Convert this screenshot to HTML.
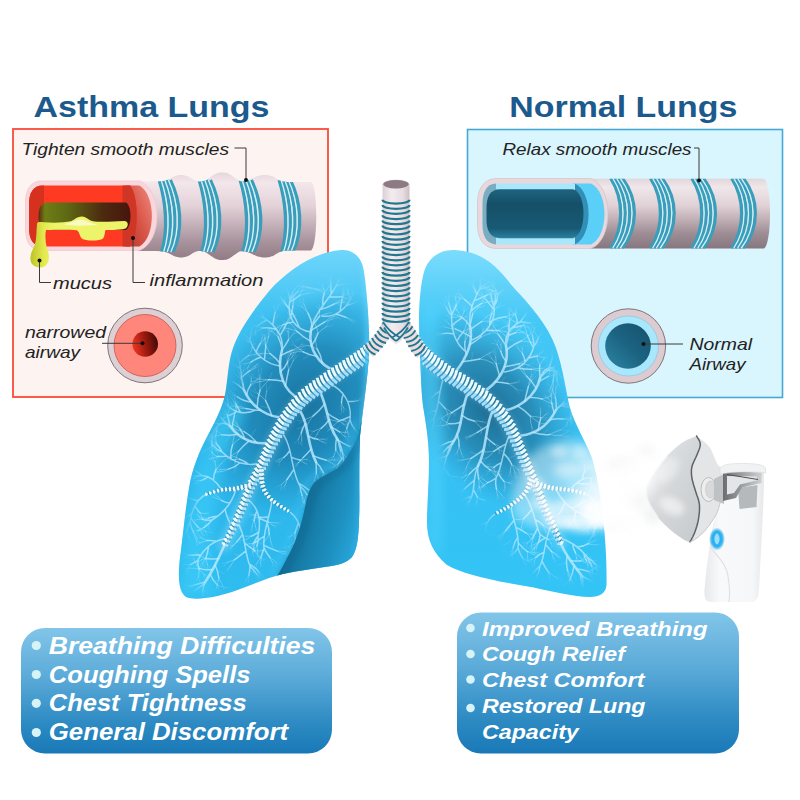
<!DOCTYPE html>
<html lang="en"><head><meta charset="utf-8"><title>Asthma Lungs vs Normal Lungs</title><style>html,body{margin:0;padding:0;background:#fff}svg{display:block}</style></head><body><svg width="800" height="800" viewBox="0 0 800 800" role="img" aria-label="Asthma lungs compared with normal lungs"><defs><linearGradient id="tubeA" x1="0" y1="0" x2="0" y2="1"><stop offset="0" stop-color="#e6d6db"/><stop offset=".12" stop-color="#f3e7eb"/><stop offset=".38" stop-color="#e3d2d8"/><stop offset=".56" stop-color="#c9b6be"/><stop offset=".8" stop-color="#a7929b"/><stop offset="1" stop-color="#917b85"/></linearGradient><linearGradient id="lumA" x1="0" y1="0" x2="1" y2="0"><stop offset="0" stop-color="#5a2a0e"/><stop offset=".07" stop-color="#6f7d15"/><stop offset=".3" stop-color="#5f6a14"/><stop offset=".7" stop-color="#4c2a10"/><stop offset="1" stop-color="#47160d"/></linearGradient><linearGradient id="cutA" x1="0" y1="1" x2="1" y2="0"><stop offset="0" stop-color="#b9352a"/><stop offset=".5" stop-color="#d9574a"/><stop offset="1" stop-color="#f08a7e"/></linearGradient><linearGradient id="dropA" x1="30" y1="0" x2="54" y2="0" gradientUnits="userSpaceOnUse"><stop offset="0" stop-color="#bcc024"/><stop offset=".55" stop-color="#e2e84c"/><stop offset="1" stop-color="#eef46a"/></linearGradient><clipPath id="clipTA"><path d="M138,181.5 L140.6,181.5 L144.2,181.5 L148.5,181.5 L152.9,181.5 L156.9,181.4 L160,181.3 L162.2,181.1 L163.8,180.9 L165,180.6 L166,180.2 L166.9,179.9 L168,179.5 L169.1,179.1 L170.1,178.5 L171.1,178 L172,177.4 L173,176.9 L174,176.5 L175.1,176.1 L176.3,175.8 L177.4,175.5 L178.6,175.2 L179.8,175.1 L181,175 L182.2,175.1 L183.4,175.2 L184.6,175.4 L185.7,175.7 L186.9,176.1 L188,176.5 L189.1,177 L190.1,177.6 L191.1,178.2 L192.1,178.9 L193.1,179.5 L194,180 L194.9,180.4 L195.7,180.7 L196.5,181 L197.3,181.3 L198.1,181.4 L199,181.5 L199.9,181.5 L200.9,181.5 L201.9,181.3 L203,181.1 L204,180.9 L205,180.5 L206,180 L207,179.4 L208,178.6 L209,177.9 L210,177.2 L211,176.5 L212,175.9 L213,175.3 L214.1,174.6 L215.1,174.1 L216.1,173.6 L217,173.2 L217.9,172.9 L218.7,172.7 L219.5,172.6 L220.3,172.5 L221.1,172.5 L222,172.5 L222.9,172.5 L223.9,172.6 L224.9,172.7 L225.9,172.8 L226.9,173.1 L228,173.5 L229.1,174.1 L230.3,174.8 L231.6,175.6 L232.8,176.5 L233.9,177.3 L235,178 L235.9,178.6 L236.8,179.2 L237.6,179.8 L238.3,180.3 L239.1,180.7 L240,181 L240.9,181.2 L241.9,181.2 L242.9,181.2 L244,181.1 L245,181 L246,180.8 L247,180.5 L248,180.2 L249,179.8 L250,179.4 L251,178.9 L252,178.5 L253,178.1 L254,177.6 L254.9,177.2 L255.9,176.7 L256.9,176.3 L258,176 L259.1,175.7 L260.3,175.5 L261.4,175.3 L262.6,175.1 L263.8,175 L265,175 L266.2,175 L267.4,175.2 L268.6,175.3 L269.7,175.6 L270.9,175.9 L272,176.2 L273.1,176.6 L274.1,177.2 L275.1,177.8 L276,178.4 L277,179 L278,179.5 L278.9,179.9 L279.8,180.4 L280.6,180.7 L281.6,181.1 L282.7,181.4 L284,181.6 L285.6,181.8 L287.4,181.9 L289.4,181.9 L291.6,182 L293.8,182 L296,182 L298.5,182 L301.3,182 L304.2,182 L307,182 L309.3,182 L311,182 C318,185 318,247 311,250.500 L311,250.5 L309.3,250.5 L307,250.5 L304.2,250.5 L301.3,250.5 L298.5,250.5 L296,250.5 L293.8,250.5 L291.6,250.5 L289.4,250.6 L287.4,250.6 L285.6,250.7 L284,250.9 L282.7,251.1 L281.6,251.4 L280.6,251.8 L279.8,252.1 L278.9,252.6 L278,253 L277,253.5 L276,254.1 L275.1,254.7 L274.1,255.3 L273.1,255.9 L272,256.3 L270.9,256.6 L269.7,256.9 L268.6,257.2 L267.4,257.3 L266.2,257.5 L265,257.5 L263.8,257.5 L262.6,257.4 L261.4,257.2 L260.3,257 L259.1,256.8 L258,256.5 L256.9,256.2 L255.9,255.8 L254.9,255.3 L254,254.9 L253,254.4 L252,254 L251,253.6 L250,253.1 L249,252.7 L248,252.3 L247,252 L246,251.7 L245,251.5 L244,251.4 L242.9,251.3 L241.9,251.3 L240.9,251.3 L240,251.5 L239.1,251.8 L238.3,252.2 L237.6,252.7 L236.8,253.3 L235.9,253.9 L235,254.5 L233.9,255.2 L232.8,256 L231.6,256.9 L230.3,257.7 L229.1,258.4 L228,259 L226.9,259.4 L225.9,259.7 L224.9,259.8 L223.9,259.9 L222.9,260 L222,260 L221.1,260 L220.3,260 L219.5,259.9 L218.7,259.8 L217.9,259.6 L217,259.3 L216.1,258.9 L215.1,258.4 L214.1,257.9 L213,257.2 L212,256.6 L211,256 L210,255.3 L209,254.6 L208,253.9 L207,253.1 L206,252.5 L205,252 L204,251.6 L203,251.4 L201.9,251.2 L200.9,251 L199.9,251 L199,251 L198.1,251.1 L197.3,251.2 L196.5,251.5 L195.7,251.8 L194.9,252.1 L194,252.5 L193.1,253 L192.1,253.6 L191.1,254.2 L190.1,254.9 L189.1,255.5 L188,256 L186.9,256.4 L185.7,256.8 L184.6,257.1 L183.4,257.3 L182.2,257.4 L181,257.5 L179.8,257.4 L178.6,257.3 L177.4,257 L176.3,256.7 L175.1,256.4 L174,256 L173,255.6 L172,255.1 L171.1,254.5 L170.1,254 L169.1,253.4 L168,253 L166.9,252.6 L166,252.3 L165,251.9 L163.8,251.6 L162.2,251.4 L160,251.2 L156.9,251.1 L152.9,251 L148.5,251 L144.2,251 L140.6,251 L138,251Z"/></clipPath><linearGradient id="tubeN" x1="0" y1="0" x2="0" y2="1"><stop offset="0" stop-color="#e2d6da"/><stop offset=".12" stop-color="#f0e7ea"/><stop offset=".38" stop-color="#e0d2d7"/><stop offset=".56" stop-color="#c4b3b9"/><stop offset=".78" stop-color="#9e8d94"/><stop offset="1" stop-color="#86767d"/></linearGradient><linearGradient id="lumN" x1="0" y1="0" x2="0" y2="1"><stop offset="0" stop-color="#1d6480"/><stop offset=".3" stop-color="#164f67"/><stop offset=".8" stop-color="#185a75"/><stop offset="1" stop-color="#2b7f9f"/></linearGradient><clipPath id="clipTN"><path d="M590,178.800 H764 C772,184 772,243 764,248.600 H590Z"/></clipPath><linearGradient id="narrow" x1="0" y1=".6" x2="1" y2=".4"><stop offset="0" stop-color="#ec3822"/><stop offset=".45" stop-color="#a81c11"/><stop offset="1" stop-color="#3f0a06"/></linearGradient><linearGradient id="normalc" x1="0" y1="1" x2="1" y2="0"><stop offset="0" stop-color="#2e86a5"/><stop offset=".5" stop-color="#1c6382"/><stop offset="1" stop-color="#15516b"/></linearGradient><linearGradient id="lgL" x1="0" y1="0" x2="0" y2="1"><stop offset="0" stop-color="#6fd6fb"/><stop offset=".18" stop-color="#3fc2f2"/><stop offset=".6" stop-color="#2db4ea"/><stop offset="1" stop-color="#2fbdf0"/></linearGradient><linearGradient id="lgR" x1="0" y1="0" x2="0" y2="1"><stop offset="0" stop-color="#7bdcfd"/><stop offset=".2" stop-color="#45c8f6"/><stop offset=".6" stop-color="#36c0f3"/><stop offset="1" stop-color="#33c4f6"/></linearGradient><clipPath id="clipL"><path d="M341,250 C352,249 362,256 364,272 C367,292 370,330 369,352 C368,378 363,408 360,436 C358.500,466 360,500 359,520 C358.500,538 357,550 352,557 C347,563 338,565 328,566.500 C312,569 298,570.500 283,574 C266,578 250,586 232,592 C216,597 196,601 186,597 C177,591 178,570 181,550 C184,525 186,505 189,488 C192,468 200,450 208,435 C216,420 222,408 225,395 C228,378 228,362 233,348 C240,328 255,308 270,290 C288,270 315,252 341,250 Z"/></clipPath><clipPath id="clipR"><path d="M455,250 C440,249 428,258 424,272 C419,290 418,320 420,350 C421,375 421,395 424,412 C427,430 429,445 429,462 C429,485 427,505 427,522 C427,540 433,553 447,565 C462,574 490,580 525,586 C548,590 572,597 590,597 C600,597 606,593 606.500,585 C607,560 605,535 603,518 C601,500 598,478 592,458 C587,444 575,425 570,408 C566,392 563,368 556,348 C548,325 530,305 514,288 C500,271 487,252 455,250 Z"/></clipPath><radialGradient id="dkL" cx="304" cy="404" r="125" gradientUnits="userSpaceOnUse" gradientTransform="translate(304 404) rotate(-52) scale(1 .74) translate(-304 -404)"><stop offset="0" stop-color="#146690" stop-opacity=".85"/><stop offset=".5" stop-color="#1775a3" stop-opacity=".66"/><stop offset=".8" stop-color="#1b84b4" stop-opacity=".3"/><stop offset="1" stop-color="#1f8dbd" stop-opacity="0"/></radialGradient><radialGradient id="dkR" cx="490" cy="410" r="112" gradientUnits="userSpaceOnUse" gradientTransform="translate(490 410) rotate(52) scale(1 .68) translate(-490 -410)"><stop offset="0" stop-color="#1b658a" stop-opacity=".92"/><stop offset=".5" stop-color="#1f759e" stop-opacity=".68"/><stop offset=".8" stop-color="#2588b5" stop-opacity=".3"/><stop offset="1" stop-color="#2a93c0" stop-opacity="0"/></radialGradient><linearGradient id="lobe" x1="296" y1="500" x2="362" y2="520" gradientUnits="userSpaceOnUse"><stop offset="0" stop-color="#126c95"/><stop offset=".3" stop-color="#177ba6"/><stop offset=".7" stop-color="#1d90c0"/><stop offset="1" stop-color="#27a4d7"/></linearGradient><filter id="b3" x="-20%" y="-20%" width="140%" height="140%"><feGaussianBlur stdDeviation="3"/></filter><filter id="b6" x="-30%" y="-30%" width="160%" height="160%"><feGaussianBlur stdDeviation="6"/></filter><filter id="b10" x="-40%" y="-40%" width="180%" height="180%"><feGaussianBlur stdDeviation="10"/></filter><mask id="mkL" maskUnits="userSpaceOnUse" x="170" y="240" width="210" height="370"><path d="M345,290 C330,278 305,285 285,300 C262,318 246,345 240,375 C236,400 220,425 208,450 C196,478 190,520 188,585 L212,590 C235,585 262,572 286,566 C300,548 314,520 330,500 C348,480 356,440 358,400 C360,360 358,320 345,290Z" fill="#fff" filter="url(#b6)"/></mask><mask id="mkR" maskUnits="userSpaceOnUse" x="410" y="240" width="210" height="370"><path d="M446,300 C456,282 486,280 506,298 C528,318 548,345 556,380 C562,405 572,425 584,450 C594,475 600,520 600,560 C596,578 580,584 560,580 C530,572 505,545 488,520 C470,496 446,470 440,440 C436,400 436,340 446,300Z" fill="#fff" filter="url(#b6)"/></mask><linearGradient id="trg" x1="0" y1="0" x2="1" y2="0"><stop offset="0" stop-color="#dccfd3"/><stop offset=".35" stop-color="#f3ecee"/><stop offset=".75" stop-color="#e8dde0"/><stop offset="1" stop-color="#cdbfc4"/></linearGradient><linearGradient id="bodyG" x1="0" y1="0" x2="1" y2="0"><stop offset="0" stop-color="#e6e8ea"/><stop offset=".25" stop-color="#f8f9fa"/><stop offset=".8" stop-color="#f6f7f8"/><stop offset="1" stop-color="#e6e8ea"/></linearGradient><linearGradient id="maskG" x1="0" y1="0" x2="1" y2="1"><stop offset="0" stop-color="#e6e8ea"/><stop offset=".5" stop-color="#d4d7d9"/><stop offset="1" stop-color="#c7cacd"/></linearGradient><radialGradient id="btnG" cx=".5" cy=".5" r=".5"><stop offset="0" stop-color="#e8f8ff"/><stop offset=".35" stop-color="#4cc2f3"/><stop offset=".75" stop-color="#2fb0ee" stop-opacity=".8"/><stop offset="1" stop-color="#2fb0ee" stop-opacity="0"/></radialGradient><linearGradient id="lidG" x1="0" y1="0" x2="1" y2="0"><stop offset="0" stop-color="#6b6e71"/><stop offset=".5" stop-color="#9da0a3"/><stop offset="1" stop-color="#cfd1d3"/></linearGradient><filter id="b5" x="-40%" y="-40%" width="180%" height="180%"><feGaussianBlur stdDeviation="5"/></filter><filter id="b8" x="-50%" y="-50%" width="200%" height="200%"><feGaussianBlur stdDeviation="8"/></filter><linearGradient id="pg" x1="0" y1="0" x2="0" y2="1"><stop offset="0" stop-color="#82c5e9"/><stop offset=".4" stop-color="#5aaad8"/><stop offset=".75" stop-color="#2e8bc3"/><stop offset="1" stop-color="#1979b7"/></linearGradient></defs><rect x="13" y="129" width="315" height="268" fill="#fdf3f1" stroke="#fa4b38" stroke-width="1.800"/>
<rect x="467.5" y="129.5" width="315" height="268" fill="#d9f5fd" stroke="#45a9d3" stroke-width="1.6"/>
<g font-family="'Liberation Sans', Arial, sans-serif" font-weight="bold" font-size="30.200" fill="#1c5a8d"><text x="33.500" y="117.300" textLength="236" lengthAdjust="spacingAndGlyphs">Asthma Lungs</text><text x="509.300" y="117.300" textLength="228" lengthAdjust="spacingAndGlyphs">Normal Lungs</text></g>
<path d="M138,181.5 L140.6,181.5 L144.2,181.5 L148.5,181.5 L152.9,181.5 L156.9,181.4 L160,181.3 L162.2,181.1 L163.8,180.9 L165,180.6 L166,180.2 L166.9,179.9 L168,179.5 L169.1,179.1 L170.1,178.5 L171.1,178 L172,177.4 L173,176.9 L174,176.5 L175.1,176.1 L176.3,175.8 L177.4,175.5 L178.6,175.2 L179.8,175.1 L181,175 L182.2,175.1 L183.4,175.2 L184.6,175.4 L185.7,175.7 L186.9,176.1 L188,176.5 L189.1,177 L190.1,177.6 L191.1,178.2 L192.1,178.9 L193.1,179.5 L194,180 L194.9,180.4 L195.7,180.7 L196.5,181 L197.3,181.3 L198.1,181.4 L199,181.5 L199.9,181.5 L200.9,181.5 L201.9,181.3 L203,181.1 L204,180.9 L205,180.5 L206,180 L207,179.4 L208,178.6 L209,177.9 L210,177.2 L211,176.5 L212,175.9 L213,175.3 L214.1,174.6 L215.1,174.1 L216.1,173.6 L217,173.2 L217.9,172.9 L218.7,172.7 L219.5,172.6 L220.3,172.5 L221.1,172.5 L222,172.5 L222.9,172.5 L223.9,172.6 L224.9,172.7 L225.9,172.8 L226.9,173.1 L228,173.5 L229.1,174.1 L230.3,174.8 L231.6,175.6 L232.8,176.5 L233.9,177.3 L235,178 L235.9,178.6 L236.8,179.2 L237.6,179.8 L238.3,180.3 L239.1,180.7 L240,181 L240.9,181.2 L241.9,181.2 L242.9,181.2 L244,181.1 L245,181 L246,180.8 L247,180.5 L248,180.2 L249,179.8 L250,179.4 L251,178.9 L252,178.5 L253,178.1 L254,177.6 L254.9,177.2 L255.9,176.7 L256.9,176.3 L258,176 L259.1,175.7 L260.3,175.5 L261.4,175.3 L262.6,175.1 L263.8,175 L265,175 L266.2,175 L267.4,175.2 L268.6,175.3 L269.7,175.6 L270.9,175.9 L272,176.2 L273.1,176.6 L274.1,177.2 L275.1,177.8 L276,178.4 L277,179 L278,179.5 L278.9,179.9 L279.8,180.4 L280.6,180.7 L281.6,181.1 L282.7,181.4 L284,181.6 L285.6,181.8 L287.4,181.9 L289.4,181.9 L291.6,182 L293.8,182 L296,182 L298.5,182 L301.3,182 L304.2,182 L307,182 L309.3,182 L311,182 C318,185 318,247 311,250.500 L311,250.5 L309.3,250.5 L307,250.5 L304.2,250.5 L301.3,250.5 L298.5,250.5 L296,250.5 L293.8,250.5 L291.6,250.5 L289.4,250.6 L287.4,250.6 L285.6,250.7 L284,250.9 L282.7,251.1 L281.6,251.4 L280.6,251.8 L279.8,252.1 L278.9,252.6 L278,253 L277,253.5 L276,254.1 L275.1,254.7 L274.1,255.3 L273.1,255.9 L272,256.3 L270.9,256.6 L269.7,256.9 L268.6,257.2 L267.4,257.3 L266.2,257.5 L265,257.5 L263.8,257.5 L262.6,257.4 L261.4,257.2 L260.3,257 L259.1,256.8 L258,256.5 L256.9,256.2 L255.9,255.8 L254.9,255.3 L254,254.9 L253,254.4 L252,254 L251,253.6 L250,253.1 L249,252.7 L248,252.3 L247,252 L246,251.7 L245,251.5 L244,251.4 L242.9,251.3 L241.9,251.3 L240.9,251.3 L240,251.5 L239.1,251.8 L238.3,252.2 L237.6,252.7 L236.8,253.3 L235.9,253.9 L235,254.5 L233.9,255.2 L232.8,256 L231.6,256.9 L230.3,257.7 L229.1,258.4 L228,259 L226.9,259.4 L225.9,259.7 L224.9,259.8 L223.9,259.9 L222.9,260 L222,260 L221.1,260 L220.3,260 L219.5,259.9 L218.7,259.8 L217.9,259.6 L217,259.3 L216.1,258.9 L215.1,258.4 L214.1,257.9 L213,257.2 L212,256.6 L211,256 L210,255.3 L209,254.6 L208,253.9 L207,253.1 L206,252.5 L205,252 L204,251.6 L203,251.4 L201.9,251.2 L200.9,251 L199.9,251 L199,251 L198.1,251.1 L197.3,251.2 L196.5,251.5 L195.7,251.8 L194.9,252.1 L194,252.5 L193.1,253 L192.1,253.6 L191.1,254.2 L190.1,254.9 L189.1,255.5 L188,256 L186.9,256.4 L185.7,256.8 L184.6,257.1 L183.4,257.3 L182.2,257.4 L181,257.5 L179.8,257.4 L178.6,257.3 L177.4,257 L176.3,256.7 L175.1,256.4 L174,256 L173,255.6 L172,255.1 L171.1,254.5 L170.1,254 L169.1,253.4 L168,253 L166.9,252.6 L166,252.3 L165,251.9 L163.8,251.6 L162.2,251.4 L160,251.2 L156.9,251.1 L152.9,251 L148.5,251 L144.2,251 L140.6,251 L138,251Z" fill="url(#tubeA)"/>
<g clip-path="url(#clipTA)"><path d="M159.3,180C166,201.6 168.5,230.4 161.8,252M162.9,180C171,201.6 173.5,230.4 165.4,252M166.6,180C176,201.6 178.5,230.4 169.1,252M170.2,180C180.9,201.6 183.4,230.4 172.7,252" fill="none" stroke="#3a9dbb" stroke-width="3.6"/><path d="M161.1,180C168.5,201.6 171,230.4 163.6,252M164.8,180C173.5,201.6 176,230.4 167.2,252M168.4,180C178.4,201.6 180.9,230.4 170.9,252" fill="none" stroke="#d2f0f5" stroke-width="1.4"/><path d="M199.3,180C206,201.6 208.5,230.4 201.8,252M202.9,180C211,201.6 213.5,230.4 205.4,252M206.6,180C216,201.6 218.5,230.4 209.1,252M210.2,180C220.9,201.6 223.4,230.4 212.7,252" fill="none" stroke="#3a9dbb" stroke-width="3.6"/><path d="M201.1,180C208.5,201.6 211,230.4 203.6,252M204.8,180C213.5,201.6 216,230.4 207.2,252M208.4,180C218.4,201.6 220.9,230.4 210.9,252" fill="none" stroke="#d2f0f5" stroke-width="1.4"/><path d="M240.3,180C247,201.6 249.5,230.4 242.8,252M243.9,180C252,201.6 254.5,230.4 246.4,252M247.6,180C257,201.6 259.5,230.4 250.1,252M251.2,180C261.9,201.6 264.4,230.4 253.7,252" fill="none" stroke="#3a9dbb" stroke-width="3.6"/><path d="M242.1,180C249.5,201.6 252,230.4 244.6,252M245.8,180C254.5,201.6 257,230.4 248.2,252M249.4,180C259.4,201.6 261.9,230.4 251.9,252" fill="none" stroke="#d2f0f5" stroke-width="1.4"/><path d="M279.3,180C286,201.6 288.5,230.4 281.8,252M282.9,180C291,201.6 293.5,230.4 285.4,252M286.6,180C296,201.6 298.5,230.4 289.1,252M290.2,180C300.9,201.6 303.4,230.4 292.7,252" fill="none" stroke="#3a9dbb" stroke-width="3.6"/><path d="M281.1,180C288.5,201.6 291,230.4 283.6,252M284.8,180C293.5,201.6 296,230.4 287.2,252M288.4,180C298.4,201.6 300.9,230.4 290.9,252" fill="none" stroke="#d2f0f5" stroke-width="1.4"/></g>
<path d="M139.500,181 H42 C30,181 25.500,190 25.500,203 V228 C25.500,242 30,250.500 42,250.500 H139.500 C163,241 163,190 139.500,181Z" fill="#f9d6dc" stroke="#f0c4cc" stroke-width=".7"/>
<path d="M139.500,185.500 C156,195 156,237 139.500,246.500 L126,246.500 L126,185.500Z" fill="url(#cutA)"/>
<path d="M130,185.500 H43 C33,185.500 29,193 29,204 V228 C29,239 33,246.500 43,246.500 H130 C139,237 139,195 130,185.500Z" fill="#ff3a22"/>
<path d="M44,185.500 H43 C33,185.500 29,193 29,204 V228 C29,239 33,246.500 43,246.500 H44Z" fill="#d6301f"/>
<path d="M122.500,185.500 H130 C139,195 139,237 130,246.500 H122.500Z" fill="#cf3626"/>
<path d="M48,202.500 H126 C132,206 132,226 126,230 H48 C41,230 38.500,224 38.500,216 C38.500,208 41,202.500 48,202.500Z" fill="url(#lumA)"/>
<path d="M37,224 C37,221.500 40,221.800 44,222.300 C55,223 64,222.600 71,221.300 C75,219 78,216.200 82,216.400 C86,216.600 88,219.500 92,221 C100,222.500 112,221.600 124,221 C129,221 128.500,226 125.500,228.600 C120,230.500 112,229.600 105.500,230 C104.500,233 105,237.500 102,239.300 C97,241 88,241 83,239.300 C79.500,237.500 80,232.500 77,230.300 C68,229.300 55,229.800 46,230 C44.800,236 45.500,242 46.800,248 C49.800,254 50,262 45.500,265.800 C41.500,268.500 35,268 32,264 C28.800,259 31,252 34.200,246.500 C36.800,240 36.200,232 37,224Z" fill="url(#dropA)"/>
<path d="M63,224.200 C70,223.600 74,220.500 79,219.600 C86,219.600 90,223.800 98,224.600 C88,226.200 74,226 63,224.200Z" fill="#f9fbd0" opacity=".85"/>
<g fill="none" stroke="#3a3a3a" stroke-width="1"><path d="M39.500,260.500 V282.500 H51"/><path d="M133,238 V282.500 H145"/><path d="M234.500,148 H246 V180"/></g>
<g fill="#111"><circle cx="39.500" cy="260.500" r="2"/><circle cx="133" cy="238" r="2"/><circle cx="246" cy="180" r="2"/></g>
<path d="M590,178.800 H764 C772,184 772,243 764,248.600 H590Z" fill="url(#tubeN)"/>
<g clip-path="url(#clipTN)"><path d="M610.8,178C624.1,199.2 624.1,227.3 610.8,248.5M614.5,178C628.8,199.2 628.8,227.3 614.5,248.5M618.3,178C633.6,199.2 633.6,227.3 618.3,248.5M622,178C638.3,199.2 638.3,227.3 622,248.5" fill="none" stroke="#3a9dbb" stroke-width="3.5"/><path d="M612.6,178C626.5,199.2 626.5,227.3 612.6,248.5M616.4,178C631.2,199.2 631.2,227.3 616.4,248.5M620.1,178C636,199.2 636,227.3 620.1,248.5" fill="none" stroke="#d2f0f5" stroke-width="1.3"/><path d="M650.6,178C663.9,199.2 663.9,227.3 650.6,248.5M654.3,178C668.6,199.2 668.6,227.3 654.3,248.5M658.1,178C673.4,199.2 673.4,227.3 658.1,248.5M661.8,178C678.1,199.2 678.1,227.3 661.8,248.5" fill="none" stroke="#3a9dbb" stroke-width="3.5"/><path d="M652.5,178C666.3,199.2 666.3,227.3 652.5,248.5M656.2,178C671,199.2 671,227.3 656.2,248.5M660,178C675.8,199.2 675.8,227.3 660,248.5" fill="none" stroke="#d2f0f5" stroke-width="1.3"/><path d="M691.9,178C705.2,199.2 705.2,227.3 691.9,248.5M695.6,178C709.9,199.2 709.9,227.3 695.6,248.5M699.4,178C714.7,199.2 714.7,227.3 699.4,248.5M703.1,178C719.4,199.2 719.4,227.3 703.1,248.5" fill="none" stroke="#3a9dbb" stroke-width="3.5"/><path d="M693.8,178C707.6,199.2 707.6,227.3 693.8,248.5M697.5,178C712.3,199.2 712.3,227.3 697.5,248.5M701.2,178C717.1,199.2 717.1,227.3 701.2,248.5" fill="none" stroke="#d2f0f5" stroke-width="1.3"/><path d="M731.8,178C745.1,199.2 745.1,227.3 731.8,248.5M735.5,178C749.8,199.2 749.8,227.3 735.5,248.5M739.3,178C754.6,199.2 754.6,227.3 739.3,248.5M743,178C759.3,199.2 759.3,227.3 743,248.5" fill="none" stroke="#3a9dbb" stroke-width="3.5"/><path d="M733.6,178C747.5,199.2 747.5,227.3 733.6,248.5M737.4,178C752.2,199.2 752.2,227.3 737.4,248.5M741.1,178C757,199.2 757,227.3 741.1,248.5" fill="none" stroke="#d2f0f5" stroke-width="1.3"/></g>
<path d="M591,178.500 H497 C483,178.500 477.500,190 477.500,203 V224 C477.500,238 483,248.500 497,248.500 H591 C613.700,240 613.700,187 591,178.500Z" fill="#e8d8dc" stroke="#d3c1c7" stroke-width=".7"/>
<path d="M591,183.500 C609,192 609,236 591,244.500 L572,244.500 L572,183.500Z" fill="#5acff7"/>
<path d="M575,183.500 H498 C487,183.500 482.500,192 482.500,204 V224 C482.500,236 487,244.500 498,244.500 H575 C593.300,236 593.300,192 575,183.500Z" fill="#a9e7fc"/>
<path d="M496,183.500 C486,184 482.500,193 482.500,204 V224 C482.500,236 486,243.500 496,244.500Z" fill="#7badc2"/>
<path d="M575,183.500 C593.300,192 593.300,236 575,244.500Z" fill="#3190b8"/>
<path d="M500,189.300 H573 C587,193 587,234 573,238.200 H500 C490,238.200 486.500,230 486.500,220 V208 C486.500,197 490,189.300 500,189.300Z" fill="url(#lumN)"/>
<g fill="none" stroke="#3a3a3a" stroke-width="1"><path d="M694,148 H699 V180"/></g>
<g fill="#111"><circle cx="699" cy="180.500" r="2"/></g>
<circle cx="145" cy="345.500" r="37.300" fill="#ddd0d5" stroke="#7f7479" stroke-width="1"/><circle cx="145" cy="345.500" r="31" fill="#ff867a" stroke="#c9564c" stroke-width=".8"/><circle cx="145.200" cy="344" r="12.800" fill="url(#narrow)"/><path d="M102,343.300 H142.500" fill="none" stroke="#3a3a3a" stroke-width="1"/><circle cx="142.500" cy="343.300" r="2" fill="#111"/>
<circle cx="628.400" cy="346" r="37.200" fill="#dccbd0" stroke="#7f7479" stroke-width="1"/><circle cx="628.400" cy="346" r="30" fill="#a9e7fc" stroke="#7fc2dc" stroke-width=".6"/><circle cx="628" cy="346" r="22.800" fill="url(#normalc)"/><path d="M643.500,344 H683" fill="none" stroke="#3a3a3a" stroke-width="1"/><circle cx="643.500" cy="344" r="2" fill="#111"/>
<g font-family="'Liberation Sans', Arial, sans-serif" font-style="italic" font-size="16.200" fill="#222"><text x="21.500" y="154.500" textLength="207.500" lengthAdjust="spacingAndGlyphs">Tighten smooth muscles</text><text x="53" y="289.400" textLength="59" lengthAdjust="spacingAndGlyphs">mucus</text><text x="149.500" y="286.400" textLength="114" lengthAdjust="spacingAndGlyphs">inflammation</text><text x="25" y="337.800" textLength="81" lengthAdjust="spacingAndGlyphs">narrowed</text><text x="25" y="357.600" textLength="55" lengthAdjust="spacingAndGlyphs">airway</text><text x="502.500" y="154.500" textLength="189" lengthAdjust="spacingAndGlyphs">Relax smooth muscles</text><text x="689.500" y="350" textLength="62.500" lengthAdjust="spacingAndGlyphs">Normal</text><text x="689.500" y="369.600" textLength="56" lengthAdjust="spacingAndGlyphs">Airway</text></g>
<path d="M341,250 C352,249 362,256 364,272 C367,292 370,330 369,352 C368,378 363,408 360,436 C358.500,466 360,500 359,520 C358.500,538 357,550 352,557 C347,563 338,565 328,566.500 C312,569 298,570.500 283,574 C266,578 250,586 232,592 C216,597 196,601 186,597 C177,591 178,570 181,550 C184,525 186,505 189,488 C192,468 200,450 208,435 C216,420 222,408 225,395 C228,378 228,362 233,348 C240,328 255,308 270,290 C288,270 315,252 341,250 Z" fill="url(#lgL)"/>
<path d="M455,250 C440,249 428,258 424,272 C419,290 418,320 420,350 C421,375 421,395 424,412 C427,430 429,445 429,462 C429,485 427,505 427,522 C427,540 433,553 447,565 C462,574 490,580 525,586 C548,590 572,597 590,597 C600,597 606,593 606.500,585 C607,560 605,535 603,518 C601,500 598,478 592,458 C587,444 575,425 570,408 C566,392 563,368 556,348 C548,325 530,305 514,288 C500,271 487,252 455,250 Z" fill="url(#lgR)"/>
<g clip-path="url(#clipL)"><rect x="170" y="240" width="210" height="370" fill="url(#dkL)"/><path d="M226,400 C205,440 188,480 182,560 L180,598 L215,598 C205,540 215,470 245,410Z" fill="#3fd0fb" opacity=".55" filter="url(#b6)"/><path d="M364,262 C368,300 371,340 368,380 C366,410 362,425 361,440" fill="none" stroke="#7fe0ff" stroke-width="5" opacity=".55" filter="url(#b3)"/></g>
<g clip-path="url(#clipR)"><rect x="410" y="240" width="210" height="370" fill="url(#dkR)"/><path d="M424,300 C420,380 432,470 428,540 L440,560 C446,480 440,380 436,300Z" fill="#55d6ff" opacity=".5" filter="url(#b6)"/></g>
<g clip-path="url(#clipL)"><g mask="url(#mkL)" fill="none" stroke-linecap="round"><path d="M307.9,345.5Q304.6,346.2 301.3,345.9M307.9,345.5Q304.1,344.6 300.3,344.5M315,339Q313.8,336 311.9,333.4M315,339Q315.4,336.1 315.8,333.3M293.4,352.4Q290.3,354.2 287.3,356.1M293.4,352.4Q290.3,352.6 287.2,352.1M296,346.5Q293.6,345.8 291.6,344.3M296,346.5Q293.7,343.9 292,340.9M309.6,355.1Q306.6,357 303.5,358.8M315.6,324.9Q313.3,322.8 311,320.7M315.6,324.9Q315.1,322.2 313.7,319.8M326.1,326.8Q327.9,324.5 328.4,321.6M326.1,326.8Q329.4,326.4 332.4,325.2M284.7,327.8Q280.8,328.7 276.8,327.9M284.7,327.8Q281.1,325.6 276.8,324.8M290.2,323.1Q287.1,321.9 283.7,321.8M290.2,323.1Q288.9,320.5 287.5,318M303.1,337.2Q299,338.7 295.4,341M333.6,316.2Q336.3,312.9 339.9,310.6M333.6,316.2Q337.7,315 341.1,312.5M333.6,316.2Q337.3,316.7 340.3,318.9M332.5,318.9Q334.6,316.3 337.3,314.4M332.5,318.9Q335.1,318.8 337.6,317.8M302.3,306.8Q299.9,306 297.4,305.1M302.3,306.8Q301.3,304.4 299.9,302.2M304,304.3Q301.5,302.1 299.4,299.5M304,304.3Q304.1,301.1 302.8,298.1M311.4,319.3Q314.4,317.7 317.4,316.3M319.3,309.3Q318,307.4 316.3,306M319.3,309.3Q319.3,307.1 319.6,304.8M326.9,313.6Q329.5,312.3 332.4,312.3M326.9,313.6Q329.1,313.6 331.4,313.7M341.2,300Q343.5,298.8 345.8,297.8M341.2,300Q343.7,300.2 346.1,299.7M343.5,302.3Q345.7,300.3 348.6,299.6M343.5,302.3Q347.2,302.2 350.9,302.8M343.5,302.3Q346,303.7 348.7,304.7M322.7,286Q320.5,284.1 317.9,282.7M322.7,286Q322.7,283.1 324,280.4M328.4,287.3Q329.3,284.9 330,282.4M328.4,287.3Q330.4,285.8 332.3,284.2M348,293.2Q349.1,291 350.9,289.3M348,293.2Q349.8,292.3 350.9,290.6M348,293.2Q350.7,293.1 353.1,294.3M349.7,299.5Q352.9,299.2 356,299.4M349.7,299.5Q352,301.2 354.8,301.6M328.1,268.1Q326.1,265.5 323.1,264.2M328.1,268.1Q328.6,265 330.4,262.5M333.8,269Q333.6,266.3 332.5,263.8M333.8,269Q335.9,266.7 336.9,263.8M330.4,285.9Q333,282.8 335.6,279.8M356.9,279.8Q358.4,276.9 360.5,274.4M356.9,279.8Q359.6,279.3 362.2,278.6M356.9,284.9Q359.7,284.1 362.3,282.6M356.9,284.9Q359.2,285.4 361.4,285M338,261.3Q336.5,259.2 334.3,257.8M338,261.3Q338.3,258.9 338.4,256.4M346.4,263.2Q348.1,261.1 349.6,258.8M346.4,263.2Q349.4,262.3 351.8,260.3M338.5,275.7Q341.2,274 342.8,271.3M346.7,267.7Q345.7,265.5 343.9,263.9M346.7,267.7Q347,265.6 346.6,263.6M352.7,268.9Q353.4,266.5 354.8,264.5M352.7,268.9Q354.5,267.1 356.6,265.6M352.7,268.9Q355.4,269 358,268.8M342.2,278.2Q344.8,279.3 346.9,281.1M285.2,303.3Q281.8,300.7 279,297.6M285.2,303.3Q284.2,299.8 284.5,296.1M286.9,305.5Q284.2,304.9 281.7,303.5M286.9,305.5Q285.2,303.3 284.8,300.6M286.9,305.5Q286.3,302.1 284.2,299.3M279.4,330.3Q279,332.6 279.4,334.9M279.4,330.3Q277.9,331.9 276.9,333.8M276.1,328.4Q275,330.4 273.4,332.1M276.1,328.4Q273.3,329.5 271,331.4M293.4,298.9Q293.3,296.4 294,294.1M293.4,298.9Q294.7,297 295.3,294.9M293.8,299.4Q292.3,297.2 291.5,294.6M293.8,299.4Q294.3,296.7 295.3,294.2M292.4,311.5Q290.6,309.6 289.3,307.3M272.4,289.7Q268.6,288.4 264.6,289M272.4,289.7Q270.8,287.2 269.3,284.7M278.4,286.3Q277.4,282.4 275.2,279M278.4,286.3Q279.3,282.6 278.7,278.8M284.3,303Q284.8,299.3 286.7,296.1M302.9,287.3Q302.7,284.8 302.3,282.2M302.9,287.3Q304.8,284.9 306.3,282.2M308.1,293.1Q310,291.3 311.8,289.3M308.1,293.1Q311.1,292.9 314.1,292.4M282.4,279.9Q280.5,277.5 278.9,275M282.4,279.9Q281.7,277.1 280.3,274.7M286.4,279.4Q285,277.1 284.2,274.6M286.4,279.4Q286.3,276.5 286.3,273.5M286.4,279.4Q287.4,277.2 289.3,275.5M302.8,285Q304.1,282.5 305.7,280.3M302.8,285Q305.9,283.9 309.2,283.7M303.8,290Q305.7,288.8 307.7,287.8M303.8,290Q306.2,290 308.6,289.8M293.1,295.3Q292.1,292.7 292,289.9M353.3,320.3Q355.6,321 358,321.1M353.3,320.3Q354.8,322.4 356.5,324.2M351.1,320.7Q352.8,321.3 354,322.7M351.1,320.7Q352.9,322.3 354.4,324.1M342.7,292.4Q343.1,289.5 343.6,286.6M342.7,292.4Q344,290 343.9,287.2M344.1,292.9Q343.4,290.3 341.8,288M344.1,292.9Q345.2,290.4 345.5,287.7M340.4,305.7Q338.3,303.9 335.8,302.5M365.4,293.3Q367.2,291 368.5,288.4M365.4,293.3Q368.1,291.9 371.1,291.6M368.7,296Q371.9,294.2 375.5,293.5M368.7,296Q371.8,297.1 375.2,296.8M367.2,299.1Q369.5,298.1 371.8,297.2M367.2,299.1Q369.8,299.6 372.1,301M346.2,282.8Q345.6,280.8 344.1,279.1M346.2,282.8Q346.9,280.8 347.1,278.8M350,284.7Q350,282.8 350.4,281M350,284.7Q351.4,283.5 352.9,282.5M346.1,281Q343.2,280.6 340.8,278.9M346.1,281Q343.6,279.6 341.2,278M352.1,278.2Q351.2,275.8 351.3,273.2M352.1,278.2Q352.3,276 353.3,274.1M357.6,280.8Q358.4,279 359.7,277.5M357.6,280.8Q359.4,280 360.7,278.6M362,282.9Q361.3,280.4 360,278.2M362,282.9Q363,280.8 363.4,278.5M365,286.9Q366.2,285.4 366.7,283.6M365,286.9Q366.8,287 368.5,287.7M355.5,292.7Q355.7,290.4 356,288M317.6,289.2Q320.7,289.6 323.7,288.6M317.6,289.2Q319.6,291.2 322.3,292M318.3,290.1Q321.7,289.7 325.1,289.7M318.3,290.1Q321.2,291 323.4,293.1M303.4,286.2Q304.9,283.3 305.7,280.2M296.2,261.3Q293.6,259.9 290.8,259.1M296.2,261.3Q293.9,258.9 291.6,256.5M296.2,261.3Q295.4,258.1 293.5,255.3M301,260.3Q299.8,257.8 298.7,255.4M301,260.3Q301.4,257.1 302.4,254.1M331.5,273.1Q333.2,271.5 335.4,270.6M331.5,273.1Q334,273.4 336.4,272.7M331.9,276.5Q334.4,275.5 337.1,274.8M331.9,276.5Q334.3,277.2 336.4,278.6M330,280.8Q331.7,281.6 333.6,282M330,280.8Q331.3,282.3 332.9,283.4M318.7,276.1Q320.8,273.8 323,271.7M321.6,257.9Q320.6,256.4 319.1,255.3M321.6,257.9Q321.4,255.6 322.2,253.6M324.7,257.8Q324.2,255.9 324.4,254M324.7,257.8Q325.2,256.1 325.9,254.5M321.4,268.4Q323.8,268.5 326.2,269.2M331.1,266.2Q332.1,264.1 332.2,261.8M331.1,266.2Q332.9,265.3 334.1,263.9M331.7,269.1Q333.4,268.8 335.2,268.8M331.7,269.1Q333,269.7 334.3,270.6M287.2,360.7Q285.6,357.8 285.4,354.5M287.2,360.7Q288.4,357.5 288.1,354.1M293.3,360.5Q292.3,357.1 292,353.5M293.3,360.5Q294.9,357.3 295.4,353.8M293.3,360.5Q295.9,358.4 297.4,355.4M257.3,382.1Q254,383.6 251.2,386M257.3,382.1Q253.8,381.6 250.3,381.1M258.6,379.1Q255.2,380.7 251.6,381.8M258.6,379.1Q255.8,378.3 253.1,377M290.6,354Q290.4,351.5 289.7,349M290.6,354Q292,351.8 293,349.4M290.6,354Q292.7,352.8 295.1,352.7M292.9,355.8Q293.5,353.2 294.4,350.8M292.9,355.8Q295.3,354.2 296.9,351.8M260.4,353.4Q257.4,355.2 254,356.3M260.4,353.4Q257.1,352.2 254.2,350.1M265.5,345.2Q263.1,343.7 260.6,342.5M265.5,345.2Q263.9,342.8 263.3,340.1M265.5,345.2Q265.8,342.5 265.4,339.8M275.7,357.9Q272.3,357.7 268.9,358.5M299.9,346.9Q301.7,344.9 302.7,342.4M299.9,346.9Q302.7,347 305.4,346.2M300,349.7Q302,348.1 303.6,345.9M300,349.7Q302.7,349.3 305.4,349M300,349.7Q302.2,350.8 304,352.4M286.2,352.4Q289.2,353.4 291.9,355M271.9,331.4Q269.5,330.6 267.3,329.3M271.9,331.4Q270.6,329 269.1,326.9M276.1,329.6Q274.5,327.7 272.9,325.8M276.1,329.6Q275.6,326.7 273.7,324.5M288.1,331.6Q286.7,329.2 284.4,327.8M288.1,331.6Q288.9,329.1 289.3,326.5M293.8,333.6Q295,331.2 296.3,328.8M293.8,333.6Q296.9,332.6 300.1,332.1M289.2,317.7Q289.1,314.9 287.7,312.5M289.2,317.7Q291.1,315.6 293.4,313.8M289.2,317.7Q291.4,317 293.7,317.4M290.8,318.1Q292,315.7 293,313.2M290.8,318.1Q292.9,316.1 295.8,315.3M283.5,330.1Q286.6,330.5 289.2,332.3M254.3,333.7Q252.9,336.7 250.3,338.8M254.3,333.7Q252,335.3 249.5,336.5M252.8,324.6Q249.2,324.3 245.6,324.4M252.8,324.6Q250,321.9 247.7,318.7M274.1,305.6Q273.1,302.9 271.7,300.5M274.1,305.6Q275,302.9 276.7,300.5M278.6,305.1Q278.4,302 279.1,299M278.6,305.1Q280.3,302.9 282.3,300.9M273.6,319Q276.3,317.7 278.5,315.6M255.4,331.2Q256,333.4 256.1,335.8M255.4,331.2Q254.9,333.4 255,335.8M255.4,331.2Q253.8,332.8 251.8,334.1M251.1,328.1Q249.2,329.5 248.1,331.5M251.1,328.1Q248.5,328.5 245.9,328.7M245.8,313.3Q244.2,315.1 243.1,317.3M245.8,313.3Q242.9,313.7 240.2,314.8M245.8,313.3Q243,312.5 240.2,312.5M248.3,307.2Q246.2,306.4 244,305.7M248.3,307.2Q246.4,304.9 244.6,302.7M248.3,307.2Q247.9,304.9 246.6,303M258.3,316.6Q256.4,318.8 255.1,321.4M254.5,304.7Q252.4,304.1 250.5,303M254.5,304.7Q253.6,302.6 252.3,300.8M257.3,303.3Q255.9,302.2 255.1,300.6M257.3,303.3Q256.9,301.5 256.2,299.8M259.6,301.8Q258.7,299.8 257.5,298M259.6,301.8Q259.6,299.8 258.9,297.9M265,338.6Q264.7,336.4 263.7,334.4M265,338.6Q265.9,335.9 267.4,333.5M268.7,336.5Q268.5,333.2 268,329.9M268.7,336.5Q269.8,333 269.4,329.4M268.7,336.5Q270.8,333.3 271.3,329.5M247.9,367.4Q247.7,369.8 247.2,372.1M247.9,367.4Q246.3,369 244.6,370.5M243.9,363.8Q241.2,364.7 239.2,366.7M243.9,363.8Q241.6,363.4 239.3,363.3M262.1,338.2Q262.1,336.3 262.1,334.4M262.1,338.2Q263.2,336.8 264,335.2M264.5,338.9Q264.9,336.7 265,334.4M264.5,338.9Q266,337.1 268.1,336M264.5,338.9Q266.6,338.1 268.7,337.4M234.6,334.4Q232.6,334.4 230.7,334.4M234.6,334.4Q232.8,332.8 230.7,331.7M238.6,330.5Q237.5,328.3 235.9,326.3M238.6,330.5Q239.1,328 240.5,325.8M234,328.9Q231.4,327.5 228.4,327.2M234,328.9Q232,326.7 229.8,324.6M236.4,325.4Q234.5,322.9 232.5,320.5M236.4,325.4Q235.7,323.1 235.3,320.6M246.4,335.4Q243.6,334.9 241.2,333.2M249.9,323.1Q248,322.2 246.2,321.2M249.9,323.1Q248.8,320.9 248.2,318.6M249.9,323.1Q251.2,320.8 252.2,318.3M255.5,325.6Q256.5,324.2 257.8,323.2M255.5,325.6Q257.4,324.7 259.5,324.2M257.7,393.7Q253.8,392.3 250.6,389.6M257.7,393.7Q255.6,390.9 254.2,387.7M266.6,391.5Q266.7,388.1 266.3,384.6M266.6,391.5Q268.8,388.7 270.9,385.8M269.3,407.9Q265.3,407.1 261.3,406.4M237.5,407.4Q234.7,407.1 232.2,405.7M237.5,407.4Q235.1,405.3 233.5,402.5M236.4,406.1Q233,406.9 229.5,406.9M236.4,406.1Q233.1,404.6 230,402.5M259.9,377.5Q258.7,373.3 258.1,369M259.9,377.5Q261.5,373 261.5,368.3M268.9,379.9Q270.9,376.3 272.1,372.3M268.9,379.9Q273.8,378.7 279,379M257.4,398.7Q253.6,396.3 250,393.7M227.5,391.7Q224.4,390.9 221.6,389.5M227.5,391.7Q225.4,388.9 222.3,387.3M228.5,389.8Q224.5,388.9 220.5,388.3M228.5,389.8Q225.2,386.9 223,383.3M251.2,378.3Q249.7,376.2 247.9,374.3M251.2,378.3Q251.5,375.9 252.9,373.9M257,379.6Q257.9,377 259.3,374.7M257,379.6Q259.1,378.3 261.1,376.7M225.7,382.4Q224.1,383.8 222.5,385.3M225.7,382.4Q223.7,382.9 221.6,383.2M225.7,382.4Q223.3,381.2 220.7,380.9M229.7,374Q228.3,371.7 226.4,369.7M229.7,374Q230.5,371.2 232.5,369.1M239.2,385.3Q240.2,382 240.3,378.6M234.6,374.1Q232.3,373.4 230.1,372.5M234.6,374.1Q232.6,371.9 231.8,369.1M238.3,371.3Q236.4,369.4 234.7,367.5M238.3,371.3Q238.1,368.3 237.1,365.4M243.5,370.3Q243.9,367 245.9,364.2M243.5,370.3Q245.5,368.4 248.1,367.7M255,366Q256.6,364.4 258.3,362.8M255,366Q256.9,365.1 258.7,364.1M255.1,368Q256.3,366.4 256.5,364.5M255.1,368Q257.4,367.2 259.5,366M220.7,362.1Q218.2,362.3 215.7,362.7M220.7,362.1Q217.9,361.4 215.1,360.9M221.1,359.4Q219,360.3 217.4,362M221.1,359.4Q218.9,358.7 216.7,359M221.1,359.4Q219.9,357.2 217.9,355.7M252,348Q251.4,344.8 251,341.6M252,348Q252.8,345.1 254.2,342.5M252,348Q253.8,346 255.1,343.6M256.4,353.8Q258.3,352.5 259.7,350.7M256.4,353.8Q259.3,354.1 262.2,354.9M243.6,358.5Q246.4,359.4 249.3,359.6M215.3,346.3Q211.6,346.1 207.8,346.4M215.3,346.3Q213,343 209.7,340.7M218.8,344.4Q215.7,343.9 212.5,344.2M218.8,344.4Q217.4,342.2 216.3,339.7M226.9,337.4Q226.2,335.6 225.7,333.8M226.9,337.4Q226.8,335.3 227.2,333.3M227.9,336.9Q226.5,335.2 225.5,333.2M227.9,336.9Q227.5,334.5 228.1,332.2M238.6,335.8Q238.1,333.6 237.6,331.3M238.6,335.8Q239.6,333.9 239.9,331.8M240.9,338.5Q241.9,336.9 243.6,336M240.9,338.5Q242.3,337.7 243.3,336.5M232,398.7Q230.7,397.1 229.6,395.2M232,398.7Q231.7,396.4 232.4,394.1M234.6,398.3Q233.4,396.6 232.5,394.8M234.6,398.3Q234.9,396.3 234.2,394.4M224.2,417.9Q223.5,419.4 222.6,420.7M224.2,417.9Q222.9,418.7 221.5,419.5M224.2,417.9Q222.6,417.6 221,417.8M223.9,414.1Q222.2,413.8 220.8,412.9M223.9,414.1Q222.9,412.9 221.8,411.8M223.8,390Q221.7,388.8 220,387.1M223.8,390Q222.4,387.9 221.3,385.7M231.7,390.5Q232.6,388.4 233,386.2M231.7,390.5Q233.8,389.6 236.1,389.5M207.2,395.8Q204.6,396.4 202,395.7M207.2,395.8Q205,394.8 203.3,393.2M210.6,390.5Q209.2,388.3 208.9,385.8M210.6,390.5Q210.1,387.8 208.8,385.3M212.7,393.3Q210.1,394.1 208,395.7M212.7,393.3Q210.5,392.8 208.4,392.2M214.8,389.4Q212.8,388.8 211,388M214.8,389.4Q213.6,387.4 212.1,385.6M219.5,386.6Q219.1,384.1 219.3,381.6M219.5,386.6Q220.8,384.6 221.3,382.2M232.9,427.9Q229.6,426.8 226.2,427.3M232.9,427.9Q230.1,425.6 226.7,424.3M237,426Q233.5,425.4 230,425.6M237,426Q235.5,423.3 234.1,420.6M251.8,435.8Q253.1,431.8 255.9,428.8M235.1,462.1Q235.9,465.4 236.7,468.6M235.1,462.1Q234,465.4 233.6,468.9M230.8,456.1Q228.6,458 226,459.3M230.8,456.1Q227.5,456.9 224.9,459.1M233.3,424.2Q231.2,422.9 228.9,422.2M233.3,424.2Q231.5,421.5 229.5,419M237.2,423.7Q235.9,422.5 234.8,421.1M237.2,423.7Q236.4,421.6 234.7,420M243.3,433.6Q240.5,433.3 237.8,433.2M211.5,436.3Q208.6,437.6 205.5,437.7M211.5,436.3Q208.4,436 205.4,436.3M211.7,427.7Q208.2,426.7 204.6,426.4M211.7,427.7Q209.2,423.6 205.8,420.4M229.8,436Q228.1,439.6 224.9,442M235.5,407.4Q235.1,404.1 233.5,401.2M235.5,407.4Q236.8,404.4 237.1,401.2M236.9,407.5Q236.3,404.6 235.1,401.8M236.9,407.5Q238.2,404.7 238.3,401.6M215,413.2Q212.8,411.9 210.4,411.3M215,413.2Q213.9,410.9 212.4,408.9M218.7,408.7Q217.5,405.8 217,402.7M218.7,408.7Q218.6,405.2 220,402M223.7,409.4Q221.4,408.5 219,408.5M223.7,409.4Q222.2,407.3 220.3,405.5M230.3,407.5Q231.5,405 231.8,402.3M230.3,407.5Q232.7,405.7 235.6,404.9M200.7,424.1Q198.6,425.7 197.5,428.2M200.7,424.1Q197.8,423.6 195,422.5M202.2,419.5Q199.9,419 197.5,419.2M202.2,419.5Q200.8,418.2 199.7,416.5M216.3,442.1Q217.2,444 218.5,445.6M216.3,442.1Q216.1,444 215.3,445.9M211.6,440.4Q210.5,442.6 209.9,444.9M211.6,440.4Q209.2,441.3 206.7,442M217.1,430.9Q215.3,432.4 213.4,433.5M200.8,448.2Q201.9,450.7 203.7,452.8M200.8,448.2Q200.9,451 201.8,453.7M200.8,448.2Q199.4,450.3 198.3,452.5M195.2,441.6Q193,442.2 190.8,441.9M195.2,441.6Q192.9,441.2 190.6,441.5M216,450.2Q217.7,450.8 219.2,451.9M216,450.2Q217.1,451.6 218.2,453M212.1,452.3Q213.3,453.7 214.5,455.2M212.1,452.3Q212,454.4 212.5,456.4M212.1,452.3Q210.3,454 208.7,455.9M205.6,450.2Q204.3,452.1 202.6,453.7M205.6,450.2Q203.5,451.4 201.1,452M205.6,450.2Q203.4,449.9 201.2,449.4M212.1,440.9Q213.8,442.7 214.5,445.1M200.5,443.1Q198.9,444.1 197.3,444.9M200.5,443.1Q198.6,443 196.8,442.6M198.6,439.9Q196.8,440.5 195,440.8M198.6,439.9Q196.3,438.9 194.8,437M232.1,459.7Q230.4,460.9 228.5,461.6M232.1,459.7Q229.8,459 227.3,458.6M234,456.7Q232,456.9 230.3,458M234,456.7Q232.2,455.6 230.1,455.4M220.7,471.7Q217.8,472.8 214.7,473.3M220.7,471.7Q217.8,471.3 214.9,471.7M220.6,469.7Q218.2,471.4 215.5,472.4M220.6,469.7Q218.3,468.9 216,468.5M235.3,467.2Q235.3,470.3 233.9,473.2M234.2,436.1Q234,433.3 233.2,430.7M234.2,436.1Q235.9,433.3 238.3,431M238.8,439.2Q240.3,437.2 241.7,435.1M238.8,439.2Q241.5,438.8 244.2,438.3M211.9,458.4Q210.6,459.3 209.1,459.7M211.9,458.4Q210,458.3 208.1,458.6M212.4,453.3Q210.8,452.2 209.5,450.7M212.4,453.3Q211.3,451.2 209.7,449.4M208.3,440.2Q206.7,438.9 204.9,437.9M208.3,440.2Q207.6,438.3 206.9,436.3M209.6,438.9Q207.7,438.1 205.8,437.2M209.6,438.9Q208.7,436.2 209,433.5M211.4,440.5Q209.6,440.1 207.9,440.1M211.4,440.5Q210.5,438.9 210.4,437.1M214.6,437.8Q213.6,435.8 213,433.6M214.6,437.8Q215.2,435.8 215.1,433.8M219.9,447.2Q217.5,446.4 215.3,445M306.6,426Q306,429.7 305.4,433.4M306.6,426Q303.8,428.7 300.9,431.3M304,419.9Q301.6,421.7 299.2,423.5M304,419.9Q300.6,420.3 297.3,420.8M345.5,421.1Q348.2,420.6 350.9,420.1M345.5,421.1Q347.5,422.4 349.5,423.9M343.6,424.1Q345.8,424.4 348,423.9M343.6,424.1Q344.6,426 346.3,427.3M316.8,434.6Q316,437 314.7,439.2M316.8,434.6Q315,436.8 314,439.5M313.5,431.4Q312,433.2 310.8,435.2M313.5,431.4Q310.5,431.2 307.6,430.2M325.8,424.7Q326.8,427.4 328.7,429.4M346.2,432.3Q348,431.4 349.5,430.1M346.2,432.3Q348.1,432.5 349.8,433.3M345,436.6Q347.3,437.1 349.7,436.7M345,436.6Q346.2,438.8 348.3,440.4M335.4,429.2Q337.5,427.9 339.5,426.6M341.3,457.4Q344.6,457.8 348,457.5M341.3,457.4Q343.9,459.7 346.8,461.5M341.3,457.4Q341.8,460.9 342.9,464.3M333.6,456.5Q334.5,458.8 334.8,461.2M333.6,456.5Q332.2,458.7 330.3,460.4M333.6,456.5Q331.6,457.8 329.2,458.3M357.9,444.3Q361.2,443.2 364.8,443.2M357.9,444.3Q360.8,444.8 363.6,445.5M356.6,448.3Q359.4,447.9 361.8,446.7M356.6,448.3Q358.7,450.3 361.3,451.3M352.9,453.7Q355.2,455.9 356.6,458.9M352.9,453.7Q353.8,456.3 354.6,458.9M346,456.6Q348.4,457.8 350.5,459.4M346,456.6Q347.7,458.8 349.1,461.3M340.9,457.7Q342.2,459.8 344.4,461.1M340.9,457.7Q341.1,460.2 340.4,462.6M340.9,457.7Q339.5,459.3 337.5,460.5M339.2,445.5Q337.3,447.5 335.2,449.4M336.6,468.7Q336.6,470.5 336.6,472.3M336.6,468.7Q335.3,469.9 333.6,470.5M333.5,466.9Q332.3,468.2 331.7,469.9M333.5,466.9Q331.8,467.2 330.2,467.9M363.7,471.3Q365.8,469.4 367.7,467.3M363.7,471.3Q366.9,471 370,471.4M361.2,478.3Q364.2,479 367.2,479.2M361.2,478.3Q362.1,481 363.6,483.5M348.8,471.1Q351.8,470.6 354.7,471M340.8,484.4Q340.8,485.9 340.6,487.4M336.9,483.4Q336.3,485.3 336.4,487.2M336.9,483.4Q335.3,484.7 333.7,485.7M362.1,487.7Q364.1,487.3 366,487.5M362.1,487.7Q363.9,488.9 365.5,490.3M361.6,489.8Q364,490.2 366.3,489.5M361.6,489.8Q363.6,491.1 364.7,493.2M352.9,493.1Q355.3,493.6 357.4,494.7M352.9,493.1Q354.2,494.9 354.7,497.1M346.6,493.6Q346.8,495.2 347.4,496.6M346.6,493.6Q345.5,494.7 344.6,496M301.7,440.1Q302.1,442.8 302.1,445.5M301.7,440.1Q300.8,442 300.3,444.2M298.3,439.6Q298.2,441.8 298.9,443.9M298.3,439.6Q296.4,441.7 294.2,443.4M302.4,427.7Q299.8,427.8 297.4,428.6M323.3,439.2Q325.4,438.7 327.6,438.8M323.3,439.2Q325.1,440 327.1,440.1M323,442Q324.9,442.1 326.7,442.5M323,442Q324.6,443.2 326.5,444.2M298.9,462.6Q297.5,464.6 295.4,465.8M298.9,462.6Q296.9,463.3 294.9,464M298.4,462.6Q297.8,465 296.4,467M298.4,462.6Q296.6,464.1 295.6,466.3M333.6,460Q336.5,459 339.3,457.8M333.6,460Q336.2,460.6 338.8,460.5M333.4,464.1Q336.2,464.4 338.8,465.4M333.4,464.1Q335.6,466.1 336.9,468.9M330.1,476.2Q332.9,476 335.4,477.1M330.1,476.2Q332.3,478.3 334.5,480.4M325.2,478.9Q326.3,481.1 326.7,483.4M325.2,478.9Q324.9,481 324,482.9M322.1,478.7Q321.6,480.7 320.6,482.4M322.1,478.7Q320.8,480.3 320,482.2M320.6,466.3Q320.3,469.4 320.4,472.5M318.8,479.6Q320.7,481.1 322.7,482.7M318.8,479.6Q318.9,481.7 318.8,483.8M314.3,480.7Q314.5,482.9 315.1,485M314.3,480.7Q312.6,483.2 310.3,485.1M316.4,467.6Q318.9,469 321.6,469.5M279.8,461.8Q278.8,463.7 278.5,465.8M279.8,461.8Q278.1,462.1 276.3,461.7M278.4,459.9Q277.2,461.4 276.2,462.9M278.4,459.9Q276.5,460.1 274.9,461M306.5,459.5Q308.2,458.4 309.3,456.6M306.5,459.5Q308.4,460 310,461.2M304.3,463Q305.8,463.3 307.4,463.2M304.3,463Q305.5,464.1 307.1,464.6M284.9,485.7Q284.9,487.6 284.2,489.3M284.9,485.7Q283.4,487 281.6,487.8M281.5,484.6Q280.6,487.4 281,490.4M281.5,484.6Q279.2,485.8 276.9,487.2M290.5,474.6Q292,477.1 293,480M315.1,490.4Q317.9,490.2 320.4,489.2M315.1,490.4Q317.3,491.2 319.7,491.1M311,497Q312.6,499.1 313.3,501.7M311,497Q310.9,500 311.1,503.1M312.3,496.7Q314.2,497.4 316.1,498M312.3,496.7Q313.6,498.4 315.2,499.8M310.1,499.6Q312.2,500.5 314.4,500.3M310.1,499.6Q310.7,501.3 310.7,503.1M303.8,502.1Q304.1,505.3 305.7,508.2M303.8,502.1Q301.9,504.7 301.2,507.8M304.7,501.9Q305.8,504.4 305.6,507.1M304.7,501.9Q304.6,504.5 305.7,507M303.1,502.1Q304.8,503.6 306.9,504.5M303.1,502.1Q303.3,504.5 303.4,506.9M300.6,490.8Q298.9,492.5 297.4,494.3M343.6,408Q345.2,408.9 346.2,410.4M343.6,408Q344,410 343.7,412M341.4,409.1Q342.1,411 343.6,412.4M341.4,409.1Q341.3,411.6 341,414.2M363,395.5Q364,393.5 364,391.1M363,395.5Q365.1,394.2 367.7,394M364.9,398.7Q366.6,397.1 367.9,395.2M364.9,398.7Q367.6,397.7 370.4,397M352.7,402Q354.1,399.8 356.3,398.3M331.8,427.1Q329.8,429.6 327.3,431.6M331.8,427.1Q329.3,428.5 327.7,430.8M329.8,419.5Q327.2,419.5 324.9,418.7M329.8,419.5Q326.8,418.2 324.3,416.2M344.4,419.2Q343.1,422.2 341.4,424.9M358.4,433Q359.9,434.7 360.9,436.8M358.4,433Q358.4,435.1 359.4,437.1M357.8,433.5Q359.3,434.4 360.9,435.2M357.8,433.5Q358.6,435.6 358.7,437.8M348.1,433.7Q349.3,435.4 350.2,437.2M348.1,433.7Q348.6,435.9 348.7,438.1M345,433.1Q345.3,435 344.9,436.9M347.9,423.9Q345.7,424.2 343.7,425M181.8,495.9Q179.2,496 176.7,496.4M181.8,495.9Q179.7,494.4 177.8,492.7M184.3,493.7Q182.5,493.3 180.7,493.8M184.3,493.7Q183.4,492.2 182.6,490.7M205.5,513.5Q207.2,512.5 209.2,512.2M205.5,513.5Q207.4,513.9 209.2,514.6M202.3,518.3Q203.6,519.7 205,521M202.3,518.3Q202.3,520.3 202.9,522.1M172.5,528.4Q170.3,531.4 167.7,534.1M172.5,528.4Q169.7,529.2 166.9,530.1M169,524.2Q166.4,525.9 164.6,528.4M169,524.2Q165.5,525 162,526.2M205.6,531.5Q208.8,532.2 212,532.5M205.6,531.5Q207.1,533.6 207.6,536.1M201.5,532.5Q203.4,533.7 204.5,535.6M201.5,532.5Q202.1,534.2 203.1,535.8M196.6,537.3Q198.3,538.9 198.9,541.2M196.6,537.3Q197.1,539.4 196.6,541.5M196,539.6Q198,541.7 200,543.9M196,539.6Q196.8,542.5 197.1,545.5M188.5,536.9Q190.1,538.5 190.8,540.6M188.5,536.9Q189.1,538.8 189,540.8M183.1,537Q182.1,539.6 180.3,541.7M183.1,537Q181,538.6 179.4,540.7M214.8,461.6Q212,460.1 209.3,458.3M214.8,461.6Q213.5,458.8 212.6,455.8M214.8,461.6Q216.1,459.4 217.9,457.5M221.6,463.4Q222.9,461.3 224.7,459.7M221.6,463.4Q223.8,462 225.4,459.9M195.1,483.5Q193.6,484.5 192.1,485.4M195.1,483.5Q193.1,483.3 191,483.1M196.1,480.6Q194.6,480.8 193,481.2M196.1,480.6Q194.5,480.3 192.9,479.8M204.8,479.3Q202.9,478.4 201.6,476.8M190.8,468.9Q188.8,468.8 186.9,468.3M192.5,466.5Q191.2,465.6 190.6,464.2M192.5,466.5Q191.6,465.1 190.3,464.2M185.2,484.1Q184.9,485.8 184,487.4M185.2,484.1Q183.9,485.3 182.7,486.8M182.7,478.5Q180.6,478.2 178.7,477.5M182.7,478.5Q181.2,477.3 179.9,476.2M193.8,478.7Q191.5,477.8 189.9,475.9M183.7,478Q181.9,479.4 180,480.7M183.7,478Q181.7,478.6 179.8,478.2M183.3,474.5Q181.3,475.2 179.7,476.3M183.3,474.5Q181.7,473.8 180,473.9M216.1,498.2Q213.9,498 211.9,497.1M216.1,498.2Q214.6,497.1 213,496.2M217.7,496.5Q215.9,496 214.4,494.9M217.7,496.5Q216.4,495.1 215.3,493.5M234.2,528.6Q236.1,530.7 238,532.7M234.2,528.6Q234.6,532 234.3,535.5M230.4,527.9Q231.6,530.1 233,532.2M230.4,527.9Q230.2,530.5 229.5,533M226.2,515.4Q229,516.6 231.5,518.5M202.1,517.9Q200.3,517.7 198.4,517.2M202.1,517.9Q200.3,516.8 198.5,515.6M212.9,516.4Q211.6,518.3 211.1,520.5M198.4,530.9Q196.6,532.1 194.5,532.9M198.4,530.9Q196.3,530.5 194.1,530.3M198.3,530.1Q197.3,532.4 196.8,534.9M198.3,530.1Q196.2,530.6 194.1,530.9M208.7,524.2Q208.8,526.9 209.1,529.6M197.4,519.6Q195.6,520.4 194.2,521.7M197.4,519.6Q195.7,519.8 194,519.6M198.1,516Q196.5,514.9 194.7,514.1M198.1,516Q197.3,513.9 197.4,511.7M207.3,520.7Q205.9,522.7 204.9,524.9M198.2,561.6Q196.8,563.7 196.3,566.1M198.2,561.6Q195.4,562.9 192.3,562.8M198.7,555.1Q195.8,554.9 193,554M198.7,555.1Q197,553.3 195,552.1M222.9,586Q225.2,588 226.5,590.8M222.9,586Q223.4,589 224.4,592M216.6,587.6Q217.7,590.3 219.8,592.3M216.6,587.6Q216,591.3 214.4,594.8M216.6,587.6Q214.2,589.5 211.5,590.9M218.1,571.1Q221.3,572.3 224.4,573.6M190.5,568.2Q187.5,568.7 184.5,568.7M190.5,568.2Q187,567.7 183.4,568M195.1,562Q193.5,560.2 192.7,557.9M195.1,562Q194.6,558.8 192.6,556.1M206.3,570.4Q204.7,567.7 203.8,564.6M226.2,587.7Q229.7,587.2 233.1,587.3M226.2,587.7Q229.4,589.1 232.7,590M221.2,593.6Q224.3,594.9 227.1,596.8M221.2,593.6Q222.6,596.2 223.1,599.2M221.2,593.6Q220.7,596.2 221.5,598.7M212.7,580.5Q216.1,580.9 219.4,580.5M183.2,591.1Q182.7,593.5 183.3,596M183.2,591.1Q181.1,592.4 178.9,593.7M183.2,591.1Q180.1,591.1 177.2,592.2M180.3,584.4Q176.5,585.1 173.2,587M180.3,584.4Q178.1,582.5 175.2,581.8M204.7,603.4Q206.2,605.2 206.7,607.5M204.7,603.4Q204.4,606.3 204.9,609.3M201,601.9Q200.9,604.4 200.4,606.9M201,601.9Q199.9,603.4 199,605.1M202.6,589.7Q204.7,591.7 207.1,593.4M192.2,594.7Q191.3,596.1 191,597.7M192.2,594.7Q190.5,595.6 188.7,596.1M188.1,591.7Q185.6,592.7 182.9,592.6M188.1,591.7Q185.2,591 182.4,590.2M233.2,545.5Q232.2,546.8 231,547.8M233.2,545.5Q231.5,545.6 229.8,545M232.5,546Q232.1,547.8 231,549.3M232.5,546Q230.9,546.8 229.7,548.2M239.9,538.2Q240.3,540.5 240,542.8M262.4,550.6Q264.6,548.7 267.3,547.2M262.4,550.6Q264.5,551.2 266.8,551.7M259.5,557.4Q262.4,558.4 265.1,559.6M259.5,557.4Q261.4,559.7 264,561M230.3,566.3Q229.4,568.9 227.4,570.8M230.3,566.3Q228.4,567.9 226.8,569.9M227.6,562.3Q225.3,564.2 223.5,566.5M227.6,562.3Q225,562.8 222.4,563.7M240.6,555.4Q237.1,555.3 234,553.8M264.2,578.9Q266.2,580.7 267.5,583.1M264.2,578.9Q264.2,581.7 263.1,584.2M259,580.3Q260.5,582.9 261.8,585.7M259,580.3Q258.4,582.9 258.8,585.7M259,580.3Q256.8,581.4 254.3,581.7M262.6,579.3Q264.8,580.2 267.1,580.3M262.6,579.3Q263.7,581.7 264.9,583.9M258.2,580.7Q258.8,582.6 259.2,584.6M258.2,580.7Q258.2,583 257.8,585.4M253.6,570Q253.7,572.7 254.4,575.3M248.4,582Q248.5,584.1 248.2,586.1M248.4,582Q247.6,584.1 246.6,586M246,580.3Q246.3,582.5 245.9,584.7M246,580.3Q245.3,581.7 244.5,583.1M249.9,570.8Q252.1,571.8 254.3,572.6M200.2,542.7Q198.6,544.1 196.8,545.1M200.2,542.7Q198.3,542.3 196.4,542.6M201.2,537.7Q198.9,537.6 196.5,537.9M201.2,537.7Q199.4,536.2 197.5,534.7M201.2,537.7Q200.3,536.1 199.3,534.4M207.5,564.9Q209.5,566.8 210.7,569.2M207.5,564.9Q207.5,567 207.3,569.1M202.5,563.6Q202.2,565.8 200.9,567.6M202.5,563.6Q200.9,565.5 198.8,566.8M207.8,552.2Q210.1,554 212,556.3M182.2,558.9Q180.3,560.6 178.1,561.7M182.2,558.9Q179.7,559.3 177.2,559.9M182.9,552.9Q180.7,552.4 178.5,552.7M182.9,552.9Q181.5,551 179.9,549.2M204.1,574.4Q206.6,574.9 208.6,576.5M204.1,574.4Q205.4,576.1 206.7,577.8M204.1,574.4Q204.6,576.3 204.5,578.3M198.4,577.1Q198.7,579.6 199.6,582M198.4,577.1Q196.7,579.2 195.8,581.8M187.6,570.3Q187.6,572.4 188.5,574.4M187.6,570.3Q186.5,571.9 185.7,573.6M183.7,564.7Q181.8,565.5 179.8,565.6M183.7,564.7Q181.3,563.8 179.2,562.2M295.2,538.7Q295.8,540.6 296.5,542.4M295.2,538.7Q294.1,540.6 293.3,542.6M295.1,539.6Q296.6,542 297.9,544.5M295.1,539.6Q294.8,542.2 295.4,544.7M290.7,536.1Q289.1,537.4 287.9,539M290.7,536.1Q288.8,536.4 287.1,537.2M296.8,527.6Q298.3,529.6 299.7,531.7M323.5,535.5Q326.6,533.9 328.9,531.2M323.5,535.5Q326.5,535.9 329.6,536M321.3,542Q323.8,542.7 326.5,543.3M321.3,542Q322.9,543.9 324.7,545.5M307.4,534.6Q310.3,532.7 313.8,531.8M293.1,547.3Q293.7,549.1 294,551M293.1,547.3Q292.5,548.8 292.3,550.5M293.1,547.3Q291.8,548.1 290.4,548.4M289.3,546.6Q289.1,548.8 289.7,550.9M289.3,546.6Q287.9,548.4 286.3,550.2M289.3,546.6Q286.7,547.2 283.9,547.3M310.2,561.1Q312,563.3 313.4,565.8M310.2,561.1Q310.8,563.4 312,565.4M308.1,562.9Q309.6,564.9 311,566.9M308.1,562.9Q308.7,565.7 310.5,567.9M308.1,562.9Q306.8,564.9 304.9,566.4M304.9,563.4Q304.5,566.2 305.5,568.9M304.9,563.4Q304,565.6 304.2,568M303.3,550.5Q305.9,551 308.5,551.8M300.8,564.8Q301.2,567.1 301.2,569.5M300.8,564.8Q299.8,566.3 299.4,568M298.5,565.9Q298.2,568.3 298.3,570.7M298.5,565.9Q297,568 295.8,570.2M296.9,561.8Q298.4,563.3 300.3,564.3M296.9,561.8Q297.3,563.6 297.5,565.5M293.4,561.9Q293.7,563.6 294.1,565.2M293.4,561.9Q292.7,563.6 292.9,565.4M293.4,561.9Q292.2,563.4 290.5,564.5M290.8,560Q289.9,561.7 289.8,563.5M290.8,560Q289.3,561.1 288.2,562.5M255.4,517.8Q253.8,518.8 252.2,519.7M255.4,517.8Q254.4,516.6 253.7,515.1M254.2,514.7Q251.7,514.5 249.2,514.5M254.2,514.7Q252.5,513.3 250.4,512.8M271,542.1Q272.4,544.5 272.8,547.3M271,542.1Q271.1,544.7 272.1,547.1M264.9,540.7Q264.1,542.9 262.6,544.7M264.9,540.7Q262.8,541.7 261.1,543.4M269.2,528.3Q267.8,531 266.7,533.7M253.8,547.8Q254.3,549.8 255.4,551.6M253.8,547.8Q253,549.8 252.6,551.9M249.4,543.9Q247.4,544.5 245.6,545.7M249.4,543.9Q247.5,543.5 245.7,542.5M259.7,539.1Q260.1,541.6 260.3,544.2M285.5,551.8Q287.8,551.3 289.8,550M285.5,551.8Q287.9,553 290.4,553.7M284.8,553.9Q288.2,553.7 291.5,553.8M284.8,553.9Q287.7,555.7 290.8,557.1M275.7,562Q277.8,563.1 279.6,564.4M275.7,562Q276.9,564.8 277.3,567.8M272.5,562.8Q273.9,564.5 275.1,566.2M272.5,562.8Q272.9,564.7 272.4,566.6M260.7,563.1Q261.2,564.7 261.4,566.4M260.7,563.1Q259.9,565 260.2,567.1M257,563.3Q256.1,566 255.7,568.8M257,563.3Q255.3,564.9 253.7,566.4M255.6,526.7Q256.6,528.5 256.8,530.5M255.6,526.7Q255.7,528.8 256,530.9M252.1,527Q252.5,529.5 252.1,532M252.1,527Q251.1,529.4 250.9,532M254.8,515.5Q252.3,515.9 249.8,516M276.2,522.9Q278.4,522.4 280.7,522.2M276.2,522.9Q278.3,523.6 280.3,524.2M273.6,525.6Q275.7,525.9 277.8,525.8M273.6,525.6Q275,527.1 276.5,528.5M246.4,539.3Q244.9,540.4 243.2,540.9M246.4,539.3Q244.2,539.6 242.3,540.5M246.4,536.2Q244.7,536.7 243.1,537.3M246.4,536.2Q244.8,536 243.4,535.4M257.8,552.6Q258.6,555 258.8,557.5M257.8,552.6Q257.7,555 257,557.3M253.3,551.5Q253.2,554.2 253.8,556.9M253.3,551.5Q252,553.2 251.4,555.3M258.6,540.9Q256.5,542.1 254.3,543.3M253.4,548.7Q254.1,550.1 254.9,551.6M253.4,548.7Q253.3,550.8 252.4,552.6M250.2,547.1Q248.7,548.1 247.1,548.9M255.4,539.6Q256.3,541.6 258.1,542.9" stroke="#d6f4ff" stroke-width="0.5" opacity="0.3"/><path d="M317.2,349Q313,346.1 307.9,345.5M317.2,349Q316,344 315,339M303.2,351.8Q298.2,351 293.4,352.4M303.2,351.8Q300,348.7 296,346.5M318,333.2Q317.5,328.8 315.6,324.9M318,333.2Q321.7,329.5 326.1,326.8M296.9,331.2Q290.9,329 284.7,327.8M296.9,331.2Q294,326.8 290.2,323.1M324.4,322.1Q328.5,318.2 333.6,316.2M324.4,322.1Q328.6,320.8 332.5,318.9M308.1,313.4Q305.5,309.8 302.3,306.8M308.1,313.4Q306.2,308.8 304,304.3M319.3,316.5Q320.1,312.9 319.3,309.3M319.3,316.5Q322.9,314.5 326.9,313.6M333.9,304.1Q337.1,301.3 341.2,300M333.9,304.1Q338.5,302.4 343.5,302.3M324.2,293.4Q324.3,289.5 322.7,286M324.2,293.4Q326.4,290.4 328.4,287.3M341.8,296.8Q345.1,295.3 348,293.2M341.8,296.8Q345.8,298 349.7,299.5M330.7,277.9Q329.4,273 328.1,268.1M330.7,277.9Q332.4,273.5 333.8,269M348.9,283.8Q353,282.1 356.9,279.8M348.9,283.8Q352.8,284.6 356.9,284.9M340.1,269.6Q339.3,265.4 338,261.3M340.1,269.6Q342.5,265.7 346.4,263.2M345.9,274.1Q346.9,270.9 346.7,267.7M345.9,274.1Q349.4,271.7 352.7,268.9M292.4,313.2Q288.4,308.6 285.2,303.3M292.4,313.2Q290.3,308.9 286.9,305.5M283.1,324.8Q280.7,327.2 279.4,330.3M283.1,324.8Q279.2,325.8 276.1,328.4M292.9,306.2Q292.5,302.5 293.4,298.9M292.9,306.2Q294.2,302.9 293.8,299.4M280.2,296.7Q276.7,292.8 272.4,289.7M280.2,296.7Q278,291.7 278.4,286.3M299.6,295.3Q302,291.6 302.9,287.3M299.6,295.3Q303.9,294.3 308.1,293.1M286.9,287.9Q284.2,284.1 282.4,279.9M286.9,287.9Q286.8,283.6 286.4,279.4M297.4,291.8Q299.8,288.1 302.8,285M297.4,291.8Q300.6,291 303.8,290M345.8,317.3Q349.8,318.2 353.3,320.3M345.8,317.3Q348.4,319 351.1,320.7M342,300.4Q341.5,296.3 342.7,292.4M342,300.4Q343.6,296.8 344.1,292.9M359.3,300.3Q361.9,296.4 365.4,293.3M359.3,300.3Q363.5,296.9 368.7,296M359.3,300.3Q363.3,299.9 367.2,299.1M347.7,289.8Q346.1,286.5 346.2,282.8M347.7,289.8Q348.8,287.2 350,284.7M352.7,285.2Q349.8,282.4 346.1,281M352.7,285.2Q352.4,281.7 352.1,278.2M352.7,285.2Q355.3,283.2 357.6,280.8M359.1,289.6Q361.2,286.5 362,282.9M359.1,289.6Q362,288.2 365,286.9M309.6,287.8Q313.8,287.5 317.6,289.2M309.6,287.8Q313.8,289.4 318.3,290.1M302,268.7Q299.3,264.8 296.2,261.3M302,268.7Q301.2,264.5 301,260.3M324.8,276.3Q327.8,273.9 331.5,273.1M324.8,276.3Q328.4,277 331.9,276.5M324.8,276.3Q327.3,278.7 330,280.8M322.9,263.7Q322.4,260.7 321.6,257.9M322.9,263.7Q324.5,261 324.7,257.8M326.4,269.8Q328.9,268.1 331.1,266.2M326.4,269.8Q329,269 331.7,269.1M288.6,370.2Q287.9,365.4 287.2,360.7M288.6,370.2Q291.3,365.6 293.3,360.5M268.5,379.7Q263,381.4 257.3,382.1M268.5,379.7Q263.6,379.2 258.6,379.1M287.6,362.1Q288.2,357.7 290.6,354M287.6,362.1Q290.4,359 292.9,355.8M270.2,353.7Q265.3,352.9 260.4,353.4M270.2,353.7Q267.8,349.5 265.5,345.2M292.1,350.2Q295.8,348.2 299.9,346.9M292.1,350.2Q296.1,350 300,349.7M278.3,337.2Q275.2,334.2 271.9,331.4M278.3,337.2Q278.1,333.2 276.1,329.6M288.4,339.9Q288.6,335.7 288.1,331.6M288.4,339.9Q290.9,336.5 293.8,333.6M286.1,324.4Q286.9,320.7 289.2,317.7M286.1,324.4Q288.5,321.2 290.8,318.1M262.3,328.1Q257.6,329.9 254.3,333.7M262.3,328.1Q257.5,326.5 252.8,324.6M274.9,313.1Q274.4,309.4 274.1,305.6M274.9,313.1Q277.3,309.4 278.6,305.1M257.7,325.6Q256,328.2 255.4,331.2M257.7,325.6Q254.4,326.9 251.1,328.1M253.4,313.4Q249.6,312.4 245.8,313.3M253.4,313.4Q250.9,310.3 248.3,307.2M259.8,308.6Q257,306.8 254.5,304.7M259.8,308.6Q259,305.8 257.3,303.3M259.8,308.6Q260.4,305.2 259.6,301.8M265.8,346.2Q264.8,342.5 265,338.6M265.8,346.2Q267.3,341.4 268.7,336.5M251.3,361.9Q249.4,364.6 247.9,367.4M251.3,361.9Q247.7,363.5 243.9,363.8M260.2,343.8Q261.5,341.1 262.1,338.2M260.2,343.8Q262.4,341.4 264.5,338.9M240.9,336.9Q237.7,335.8 234.6,334.4M240.9,336.9Q239.1,333.9 238.6,330.5M241.3,332.5Q237.3,331.5 234,328.9M241.3,332.5Q238.4,329.3 236.4,325.4M251.5,329.7Q251,326.3 249.9,323.1M251.5,329.7Q253.2,327.4 255.5,325.6M265.6,400.7Q262.4,396.4 257.7,393.7M265.6,400.7Q265.5,396 266.6,391.5M246.2,408.6Q241.7,408.9 237.5,407.4M246.2,408.6Q241.6,406.3 236.4,406.1M260,390.2Q259.6,383.8 259.9,377.5M260,390.2Q263.8,384.5 268.9,379.9M237.4,396.9Q232.1,394.9 227.5,391.7M237.4,396.9Q233.5,392.6 228.5,389.8M250.6,384.9Q251.6,381.7 251.2,378.3M250.6,384.9Q254.2,382.7 257,379.6M233.3,381.9Q229.5,381.7 225.7,382.4M233.3,381.9Q230.8,378.3 229.7,374M241.3,378.5Q237.9,376.5 234.6,374.1M241.3,378.5Q239.8,374.9 238.3,371.3M241.3,378.5Q241.5,374.2 243.5,370.3M249.6,370.9Q252,368.1 255,366M249.6,370.9Q252.6,369.9 255.1,368M228.2,362.8Q224.5,362.4 220.7,362.1M228.2,362.8Q224.9,360.5 221.1,359.4M248.6,355.6Q251.1,352.1 252,348M248.6,355.6Q252.6,355.1 256.4,353.8M225.2,350.1Q220,348.8 215.3,346.3M225.2,350.1Q222.4,346.9 218.8,344.4M230,343.3Q227.8,340.7 226.9,337.4M230,343.3Q229.2,340 227.9,336.9M237.6,342.8Q238.3,339.3 238.6,335.8M237.6,342.8Q239,340.4 240.9,338.5M235.9,404.1Q233.3,401.9 232,398.7M235.9,404.1Q235.2,401.2 234.6,398.3M229.1,415.5Q226.6,416.7 224.2,417.9M229.1,415.5Q226.3,415.4 223.9,414.1M227.3,396Q226.3,392.6 223.8,390M227.3,396Q229,392.9 231.7,390.5M214.6,396.6Q211,395.8 207.2,395.8M214.6,396.6Q212.1,393.9 210.6,390.5M219.5,393.7Q216.1,393.1 212.7,393.3M219.5,393.7Q217.3,391.3 214.8,389.4M219.5,393.7Q219.2,390.2 219.5,386.6M244.4,431.8Q238.2,431 232.9,427.9M244.4,431.8Q240.8,428.8 237,426M238.3,451.6Q235.9,456.6 235.1,462.1M238.3,451.6Q234.6,453.8 230.8,456.1M240,429.1Q236.4,426.9 233.3,424.2M240,429.1Q238.7,426.4 237.2,423.7M221.9,434.8Q216.8,436.1 211.5,436.3M221.9,434.8Q217,430.9 211.7,427.7M234.3,415.9Q234.7,411.6 235.5,407.4M234.3,415.9Q236.2,411.9 236.9,407.5M220.9,417.6Q217.4,416.1 215,413.2M220.9,417.6Q219.6,413.2 218.7,408.7M227.5,415.1Q226.3,411.8 223.7,409.4M227.5,415.1Q228.1,411 230.3,407.5M208.6,422.2Q204.6,423.1 200.7,424.1M208.6,422.2Q205.1,421.5 202.2,419.5M215.8,435.3Q215.6,438.7 216.3,442.1M215.8,435.3Q214,438.1 211.6,440.4M202.7,439.9Q200.9,443.9 200.8,448.2M202.7,439.9Q199.1,441.6 195.2,441.6M211.8,445.9Q213.4,448.5 216,450.2M211.8,445.9Q211.9,449.1 212.1,452.3M211.8,445.9Q209,448.5 205.6,450.2M204.9,440.8Q202.9,442.4 200.5,443.1M204.9,440.8Q201.8,440.3 198.6,439.9M239.5,459.2Q235.8,459.3 232.1,459.7M239.5,459.2Q237,457.4 234,456.7M229.1,468.9Q225.2,471.3 220.7,471.7M229.1,468.9Q224.8,469.1 220.6,469.7M232.5,444.9Q233,440.4 234.2,436.1M232.5,444.9Q235,441.4 238.8,439.2M217.3,456.6Q214.7,457.8 211.9,458.4M217.3,456.6Q214.5,455.6 212.4,453.3M213,445.1Q210.1,443.2 208.3,440.2M213,445.1Q212,441.6 209.6,438.9M216.2,443.6Q213.8,442 211.4,440.5M216.2,443.6Q214.7,440.9 214.6,437.8M313.2,415.9Q309.3,420.6 306.6,426M313.2,415.9Q308.8,418.3 304,419.9M337.5,419.5Q341.6,419.7 345.5,421.1M337.5,419.5Q340.4,422.1 343.6,424.1M321.4,428.1Q318.7,431.1 316.8,434.6M321.4,428.1Q317.4,429.8 313.5,431.4M339.5,431.9Q342.8,432.8 346.2,432.3M339.5,431.9Q341.8,434.8 345,436.6M335.8,449.9Q338.1,454 341.3,457.4M335.8,449.9Q334.9,453.3 333.6,456.5M349,446.1Q353.3,444.6 357.9,444.3M349,446.1Q352.8,447.2 356.6,448.3M349,446.1Q350.7,450 352.9,453.7M340.6,450.9Q342.7,454.3 346,456.6M340.6,450.9Q341.1,454.3 340.9,457.7M338.4,463.6Q337.6,466.2 336.6,468.7M338.4,463.6Q336.1,465.5 333.5,466.9M354.6,472.9Q359.2,472.5 363.7,471.3M354.6,472.9Q358.1,475.3 361.2,478.3M340.7,479.6Q340.2,482 340.8,484.4M340.7,479.6Q338.5,481.2 336.9,483.4M355.8,486Q358.9,486.9 362.1,487.7M355.8,486Q358.2,488.6 361.6,489.8M348.4,488.8Q350.2,491.5 352.9,493.1M348.4,488.8Q347.6,491.2 346.6,493.6M301.3,432.8Q302,436.4 301.7,440.1M301.3,432.8Q299.6,436.1 298.3,439.6M317.5,439.3Q320.4,438.9 323.3,439.2M317.5,439.3Q320,441.1 323,442M303.3,457.5Q301.4,460.2 298.9,462.6M303.3,457.5Q300.4,459.6 298.4,462.6M325.6,460Q329.6,460 333.6,460M325.6,460Q329.6,461.8 333.4,464.1M323.1,472.1Q326.4,474.6 330.1,476.2M323.1,472.1Q324.5,475.4 325.2,478.9M323.1,472.1Q323.4,475.5 322.1,478.7M316.3,473.2Q317.2,476.5 318.8,479.6M316.3,473.2Q315.3,477 314.3,480.7M284,457.3Q282.4,460 279.8,461.8M284,457.3Q281.1,458.4 278.4,459.9M300,460.1Q303.2,459.8 306.5,459.5M300,460.1Q302,461.7 304.3,463M287,479.5Q286.4,482.7 284.9,485.7M287,479.5Q284,481.8 281.5,484.6M308,489.4Q311.5,490.2 315.1,490.4M308,489.4Q310,493 311,497M306.7,494.2Q309.8,494.8 312.3,496.7M306.7,494.2Q308,497.2 310.1,499.6M306.7,494.2Q305.3,498.1 303.8,502.1M302.1,495.3Q303.9,498.4 304.7,501.9M302.1,495.3Q301.8,498.8 303.1,502.1M341.5,402.6Q341.9,405.5 343.6,408M341.5,402.6Q340.6,405.8 341.4,409.1M357.7,400.6Q360.8,398.5 363,395.5M357.7,400.6Q361.5,400.4 364.9,398.7M338.3,421.4Q335,424.3 331.8,427.1M338.3,421.4Q333.9,420.8 329.8,419.5M354.4,428.6Q357,430.3 358.4,433M354.4,428.6Q355.7,431.3 357.8,433.5M346.9,428.1Q347,431 348.1,433.7M346.9,428.1Q345.6,430.5 345,433.1M188.7,497.9Q185.3,496.9 181.8,495.9M188.7,497.9Q186.6,495.7 184.3,493.7M199.9,512.7Q202.6,513.6 205.5,513.5M199.9,512.7Q201.1,515.5 202.3,518.3M179.7,521.2Q176.5,525.2 172.5,528.4M179.7,521.2Q174.3,522.5 169,524.2M197.9,527Q201.6,529.4 205.6,531.5M197.9,527Q199.7,529.7 201.5,532.5M193.4,532.2Q195.2,534.6 196.6,537.3M193.4,532.2Q194.2,536.1 196,539.6M186.7,530.8Q186.9,534.1 188.5,536.9M186.7,530.8Q185,534 183.1,537M216,469.7Q216.3,465.6 214.8,461.6M216,469.7Q218.5,466.4 221.6,463.4M200.8,480.6Q198.1,482.4 195.1,483.5M200.8,480.6Q198.5,480.4 196.1,480.6M195.5,470.7Q193.1,469.8 190.8,468.9M195.5,470.7Q194.4,468.3 192.5,466.5M189,479.9Q186.9,481.8 185.2,484.1M189,479.9Q185.8,479.6 182.7,478.5M189.3,475.5Q186.4,476.5 183.7,478M189.3,475.5Q186.3,474.7 183.3,474.5M221.9,500.6Q218.9,499.5 216.1,498.2M221.9,500.6Q220.2,498.2 217.7,496.5M229,521Q232.3,524.3 234.2,528.6M229,521Q229.8,524.4 230.4,527.9M208.6,518.1Q206.7,519.7 204.6,521.2M208.6,518.1Q205.4,518.6 202.1,517.9M204.2,527.4Q201.8,529.8 198.4,530.9M204.2,527.4Q201,528 198.3,530.1M202.6,519.4Q200,519 197.4,519.6M202.6,519.4Q200.2,518 198.1,516M205.5,558.6Q201.5,559.2 198.2,561.6M205.5,558.6Q202,557 198.7,555.1M218.8,577.8Q220.5,582 222.9,586M218.8,577.8Q217.9,582.8 216.6,587.6M200.2,568.6Q195.4,568.3 190.5,568.2M200.2,568.6Q196.8,565.9 195.1,562M217.5,585.3Q221.8,586.8 226.2,587.7M217.5,585.3Q218.9,589.6 221.2,593.6M190.4,586.1Q186.8,588.5 183.2,591.1M190.4,586.1Q185.3,585.8 180.3,584.4M202.5,595.5Q203.6,599.5 204.7,603.4M202.5,595.5Q201.6,598.7 201,601.9M195.7,590.2Q194.2,592.7 192.2,594.7M195.7,590.2Q192.1,591.9 188.1,591.7M236.8,541.7Q235.5,544 233.2,545.5M236.8,541.7Q234.4,543.5 232.5,546M254.7,550.7Q258.5,551.3 262.4,550.6M254.7,550.7Q256.5,554.5 259.5,557.4M234.9,559.5Q232.6,562.9 230.3,566.3M234.9,559.5Q231.3,561 227.6,562.3M258.9,572.1Q262.3,574.9 264.2,578.9M258.9,572.1Q259.8,576.2 259,580.3M256.9,574.3Q260,576.5 262.6,579.3M256.9,574.3Q257.6,577.5 258.2,580.7M248.8,575.5Q248.7,578.8 248.4,582M248.8,575.5Q246.9,577.6 246,580.3M207,540.6Q203.6,541.7 200.2,542.7M207,540.6Q204,539.4 201.2,537.7M206,557.8Q206,561.5 207.5,564.9M206,557.8Q203.9,560.5 202.5,563.6M189.8,555.2Q185.9,557 182.2,558.9M189.8,555.2Q186,554.9 182.9,552.9M199.1,569.5Q201.6,572 204.1,574.4M199.1,569.5Q199.3,573.4 198.4,577.1M190.6,564.5Q188.3,567 187.6,570.3M190.6,564.5Q187.1,564.6 183.7,564.7M295.1,532.4Q295.3,535.5 295.2,538.7M295.1,532.4Q294.4,536 295.1,539.6M295.1,532.4Q293.3,534.7 290.7,536.1M314.2,536.5Q318.9,536.4 323.5,535.5M314.2,536.5Q317.6,539.4 321.3,542M294.8,542.2Q293.9,544.7 293.1,547.3M294.8,542.2Q291.6,543.7 289.3,546.6M305.6,555.4Q308.5,557.8 310.2,561.1M305.6,555.4Q307.7,558.9 308.1,562.9M305.6,555.4Q305.9,559.4 304.9,563.4M300.6,558.8Q301.3,561.8 300.8,564.8M300.6,558.8Q299.7,562.4 298.5,565.9M295.2,556.2Q295.4,559.2 296.9,561.8M295.2,556.2Q294.1,559 293.4,561.9M295.2,556.2Q292.8,557.8 290.8,560M260.2,517.3Q257.9,518.2 255.4,517.8M260.2,517.3Q257.3,515.8 254.2,514.7M269.3,534.2Q270.1,538.2 271,542.1M269.3,534.2Q267.9,538 264.9,540.7M255.7,542.2Q254.2,544.8 253.8,547.8M255.7,542.2Q252.8,543.7 249.4,543.9M276.8,550.9Q281.1,551.4 285.5,551.8M276.8,550.9Q280.5,553.2 284.8,553.9M269.7,557.1Q272.8,559.5 275.7,562M269.7,557.1Q270.8,560.1 272.5,562.8M261.1,557.1Q261,560.1 260.7,563.1M261.1,557.1Q259,560.2 257,563.3M254.1,520.4Q254.9,523.5 255.6,526.7M254.1,520.4Q252.3,523.5 252.1,527M268.6,522.2Q272.4,522.9 276.2,522.9M268.6,522.2Q270.8,524.4 273.6,525.6M251.3,536.1Q249.2,538.2 246.4,539.3M251.3,536.1Q248.9,536.2 246.4,536.2M257.1,545.6Q257.3,549.1 257.8,552.6M257.1,545.6Q254.9,548.4 253.3,551.5M253.3,543.4Q252.9,546.1 253.4,548.7M253.3,543.4Q251.4,545 250.2,547.1" stroke="#ccf0ff" stroke-width="0.8" opacity="0.46"/><path d="M322.3,363.1Q321.3,355.5 317.2,349M316.6,356.3Q309.6,355.1 303.2,351.8M311.6,345.4Q316,339.9 318,333.2M310.8,341.3Q303.1,337.2 296.9,331.2M311,330.3Q317.8,326.3 324.4,322.1M312,326Q311.4,319.3 308.1,313.4M312,326Q315.7,321.2 319.3,316.5M312,326C316,310 330,300 338,282M320,309.6Q327.3,307.8 333.9,304.1M323,305.5Q322,299.3 324.2,293.4M329.2,297Q335.5,297.2 341.8,296.8M331.4,293.9Q330.4,285.9 330.7,277.9M336.1,285.9Q342.3,283.9 348.9,283.8M338,282Q338.5,275.7 340.1,269.6M338,282Q342.2,278.2 345.9,274.1M311,332C296,330 286,318 290,300M299.4,327.8Q296.6,320.2 292.4,313.2M293.4,322Q288.1,322.7 283.1,324.8M290.5,316.4Q292.4,311.5 292.9,306.2M289.1,308.8Q284.3,303 280.2,296.7M289.6,302.2Q294.9,299.2 299.6,295.3M290,300Q289,293.8 286.9,287.9M290,300Q293.1,295.3 297.4,291.8M322,316C334,318 346,310 352,296M335.8,314Q340.9,315.2 345.8,317.3M340.3,311.3Q340.4,305.7 342,300.4M346.3,305.5Q353.3,304.1 359.3,300.3M350.4,299.3Q348.4,294.8 347.7,289.8M352,296Q352.4,290.6 352.7,285.2M352,296Q355.5,292.7 359.1,289.6M290,300C292,288 302,280 318,272M297,286.3Q303.4,286.2 309.6,287.8M303.7,280.4Q304.3,274.4 302,268.7M312.8,274.7Q318.7,276.1 324.8,276.3M318,272Q321.4,268.4 322.9,263.7M318,272Q322.4,271.7 326.4,269.8M285.5,385.9Q286.9,378 288.6,370.2M283.2,381.2Q275.9,379.5 268.5,379.7M280.6,371.8Q285.2,367.7 287.6,362.1M280,363.3Q275.7,357.9 270.2,353.7M280.7,355.7Q286.2,352.4 292.1,350.2M282,350Q281.3,343.3 278.3,337.2M282,350Q285.6,345.2 288.4,339.9M282,350C284,336 276,326 264,318M280.1,335.4Q283.5,330.1 286.1,324.4M276.7,329.5Q269.7,327.2 262.3,328.1M272.8,325Q273.6,319 274.9,313.1M266.8,320Q262,322.3 257.7,325.6M264,318Q258.3,316.6 253.4,313.4M264,318Q261.2,313.6 259.8,308.6M280,366C266,364 254,354 250,340M264.5,360Q265.1,353.1 265.8,346.2M261,357.3Q255.6,358.5 251.3,361.9M256.1,352.1Q257.5,347.6 260.2,343.8M250.8,342.4Q245.2,340.8 240.9,336.9M250,340Q246.4,335.4 241.3,332.5M250,340Q250.5,334.8 251.5,329.7M271.8,415.7Q269.3,407.9 265.6,400.7M260.7,410.3Q253.4,410.4 246.2,408.6M257.1,407.6Q257.4,398.7 260,390.2M251.8,402.3Q243.9,401.4 237.4,396.9M246.6,395Q247.4,389.5 250.6,384.9M244,390Q239.2,385.3 233.3,381.9M244,390Q243.8,384 241.3,378.5M244,390C240,376 242,364 236,352M241.6,377.6Q245.2,373.7 249.6,370.9M240.5,368.2Q234.5,365.3 228.2,362.8M239.6,362.7Q243.6,358.5 248.6,355.6M237.6,355.7Q231,353.7 225.2,350.1M236,352Q232.2,348.2 230,343.3M236,352Q235.8,347.2 237.6,342.8M256,410C244,416 232,412 224,402M240.6,412.5Q238.1,408.4 235.9,404.1M236.8,411.4Q233.2,414.1 229.1,415.5M228.5,406.6Q227.4,401.4 227.3,396M224,402Q219.3,399.3 214.6,396.6M224,402Q222.6,397.4 219.5,393.7M256.5,442.7Q251.8,435.8 244.4,431.8M249.1,440.8Q243.1,445.6 238.3,451.6M244.7,438.9Q243.3,433.6 240,429.1M237.6,434.2Q229.8,436 221.9,434.8M232.1,428.7Q232.5,422.2 234.3,415.9M230,426Q224.7,422.6 220.9,417.6M230,426Q228.7,420.6 227.5,415.1M230,426C222,420 216,424 212,436M220.1,424Q214.4,422.7 208.6,422.2M217,426.4Q217.1,430.9 215.8,435.3M212.9,433.6Q207.5,436.3 202.7,439.9M212,436Q212.1,440.9 211.8,445.9M212,436Q209,439.3 204.9,440.8M264,462C248,468 232,462 222,452M248.6,464.3Q244.5,460.9 239.5,459.2M239.9,462.7Q235.3,467.2 229.1,468.9M231.1,458.9Q230.1,451.7 232.5,444.9M226.8,456.2Q222.1,456.2 217.3,456.6M222,452Q216.6,449.6 213,445.1M222,452Q219.9,447.2 216.2,443.6M324.7,404Q319.6,410.6 313.2,415.9M327,413Q331.9,416.8 337.5,419.5M328.8,420Q325.8,424.7 321.4,428.1M331,426.9Q335.4,429.2 339.5,431.9M336.6,438Q335.3,443.9 335.8,449.9M338,440Q343.2,443.6 349,446.1M338,440Q339.2,445.5 340.6,450.9M338,440C346,452 342,468 348,480M343.4,457.2Q340.7,460.3 338.4,463.6M344.5,466.9Q348.8,471.1 354.6,472.9M345.5,472.7Q342.7,475.8 340.7,479.6M348,480Q351.5,483.5 355.8,486M348,480Q348.1,484.4 348.4,488.8M305.4,423.5Q302.4,427.7 301.3,432.8M308.2,435.9Q312.4,438.8 317.5,439.3M311,449.2Q307.3,453.5 303.3,457.5M313.1,455.7Q319.2,458.2 325.6,460M316,462Q320.6,466.3 323.1,472.1M316,462Q316.4,467.6 316.3,473.2M280,430C294,446 290,470 300,486M289.8,450.3Q287.5,454.3 284,457.3M291.3,457.1Q295.5,459 300,460.1M293.8,469.5Q290.5,474.6 287,479.5M298.4,483.2Q303.5,485.8 308,489.4M300,486Q304.1,489.5 306.7,494.2M300,486Q300.6,490.8 302.1,495.3M330,384C344,390 352,404 350,420M343.3,394.2Q341.4,398.2 341.5,402.6M347.5,401.2Q352.7,402 357.7,400.6M350.3,416.5Q344.4,419.2 338.3,421.4M350,420Q351.2,424.8 354.4,428.6M350,420Q347.9,423.9 346.9,428.1M207,494C198,498 192,508 190,522M198.4,500.7Q193.3,500.1 188.7,497.9M194.9,506Q197,509.6 199.9,512.7M191.8,513.6Q185.9,517.6 179.7,521.2M190.7,517.9Q194,522.7 197.9,527M190,522Q191,527.3 193.4,532.2M190,522Q187.5,526.1 186.7,530.8M222,490C214,478 206,474 198,476M213.4,480.1Q213.4,474.6 216,469.7M208.1,476.8Q204.8,479.3 200.8,480.6M201.8,475.5Q198.5,473.2 195.5,470.7M198,476Q193.8,478.7 189,479.9M198,476Q193.7,475.2 189.3,475.5M236,489C232,504 222,514 212,520M229.8,503Q225.6,502.8 221.9,500.6M225.1,509.3Q226.2,515.4 229,521M217.5,516.2Q212.9,516.4 208.6,518.1M212,520Q208.7,524.2 204.2,527.4M212,520Q207.3,520.7 202.6,519.4M218.4,558.4Q212,559.3 205.5,558.6M215.1,565Q218.1,571.1 218.8,577.8M212.7,569.6Q206.3,570.4 200.2,568.6M210.1,574.3Q212.7,580.5 217.5,585.3M205.4,581.9Q197.9,583.8 190.4,586.1M204,584Q202.6,589.7 202.5,595.5M204,584Q199.7,586.9 195.7,590.2M236,520C246,534 244,552 250,566M242.6,534.4Q239.9,538.2 236.8,541.7M244.4,542.7Q249.4,546.9 254.7,550.7M245.9,550.9Q240.6,555.4 234.9,559.5M249.1,563.8Q254.9,566.9 258.9,572.1M250,566Q253.6,570 256.9,574.3M250,566Q249.9,570.8 248.8,575.5M228,538C214,540 204,548 198,560M216.6,541.3Q211.9,540.2 207,540.6M208.6,546.4Q207.8,552.2 206,557.8M200.8,555.1Q195.3,554.7 189.8,555.2M198,560Q197.4,564.9 199.1,569.5M198,560Q194.6,562.8 190.6,564.5M290,512C300,520 304,534 300,548M298.4,522.8Q296.8,527.6 295.1,532.4M301.1,531.4Q307.4,534.6 314.2,536.5M301.5,535.4Q298.1,538.8 294.8,542.2M300.5,545.9Q303.3,550.5 305.6,555.4M300,548Q300.5,553.4 300.6,558.8M300,548Q297.1,551.8 295.2,556.2M272,500C270,518 262,532 264,548M268.6,516.7Q264.5,517.8 260.2,517.3M267,522.8Q269.2,528.3 269.3,534.2M264.1,536.4Q259.7,539.1 255.7,542.2M263.8,545.1Q270.1,548.4 276.8,550.9M264,548Q266.3,552.9 269.7,557.1M264,548Q262.6,552.6 261.1,557.1M246,498C258,506 262,520 258,536M256.9,511Q254.8,515.5 254.1,520.4M259,518.5Q263.9,520.2 268.6,522.2M258.9,531.6Q255.5,534.5 251.3,536.1M258,536Q258.6,540.9 257.1,545.6M258,536Q255.4,539.6 253.3,543.4" stroke="#bfecff" stroke-width="1.5" opacity="0.72"/><path d="M338,372C318,366 306,346 312,326M300,399C284,392 276,372 282,350M287,418C268,418 252,408 244,390M273,442C256,446 240,440 230,426M318,388C328,404 326,424 338,440M296,406C310,420 306,444 316,462M224,546C218,560 212,572 204,584" stroke="#b8e9ff" stroke-width="2.6" opacity="0.82"/></g></g>
<g clip-path="url(#clipR)"><g mask="url(#mkR)" fill="none" stroke-linecap="round"><path d="M489.8,352.9Q492.1,350.5 495.1,349M489.8,352.9Q492.8,351.7 496,351.7M492.3,363Q496.4,363.7 500.4,363.5M492.3,363Q495.2,365.9 496.8,369.6M471.3,360.5Q472.8,356.4 472.3,352.1M466.3,332.8Q467.2,329.8 468.4,326.8M466.3,332.8Q468.1,330.7 470.1,328.7M468.9,333.2Q469.4,330.6 468.6,328.1M468.9,333.2Q471.1,330.9 474,329.7M464.1,348.4Q461,347.1 457.9,345.8M483.1,329.9Q483,327.6 481.9,325.5M483.1,329.9Q484.2,328.2 485.4,326.5M489.6,333.6Q491.9,331.1 492.9,327.8M489.6,333.6Q492.2,333.5 494.8,332.9M444.8,326.9Q441.4,326.4 437.9,327M444.8,326.9Q442.4,324.4 440.3,321.6M448.2,323.3Q445,321.8 442.7,319.1M448.2,323.3Q446.5,320.9 444.4,318.8M487.9,315.8Q489.7,313.4 492,311.4M487.9,315.8Q490.4,314.6 493.1,313.5M491.6,321.4Q495.4,320.6 499.3,320.2M491.6,321.4Q495.1,323.1 497.5,326.1M450.9,317.4Q448,319 445.2,320.9M450.9,317.4Q448,316.7 445.3,315.6M452.3,313.9Q449.4,314.3 446.7,314.9M452.3,313.9Q449.4,312.1 446.2,311.2M456.3,309.3Q454,308.2 451.8,306.9M456.3,309.3Q455,306.9 454.9,304.2M456.3,309.3Q456.5,306.7 455.7,304.3M471.9,305.9Q471.5,303.2 470.3,300.7M471.9,305.9Q473,303.4 474.4,301M478.4,307.5Q480.1,305.2 482.3,303.2M478.4,307.5Q481.6,306.2 485,305.5M485.2,297.1Q486.2,294.6 487.1,292.1M485.2,297.1Q487.5,295.3 489.9,293.6M490.8,301.6Q494.1,300.7 497.5,300.2M490.8,301.6Q494.5,301.8 498.1,300.9M475.4,306.9Q478.6,307.4 481.9,307M458.9,297.5Q456.7,297.3 454.5,296.6M458.9,297.5Q457.2,296.6 455.3,296.6M459.8,294.3Q457.2,293.6 454.5,293.6M459.8,294.3Q458.5,292.6 458,290.5M494.2,290.9Q497,289 500,287.7M494.2,290.9Q496.7,290.9 499.1,291.7M496.6,293.7Q500,293 503.4,292.6M496.6,293.7Q499.3,294.8 501.8,296.2M480.6,298.6Q483.1,301.1 486,303M469.6,282.6Q468,281.6 466.2,281M469.6,282.6Q468.8,281.3 467.5,280.4M473.6,280.3Q473.6,278.2 474.5,276.3M473.6,280.3Q474.7,278.3 475.6,276.3M495.1,283.8Q497.2,283 499.2,282.3M495.1,283.8Q496.9,284 498.7,284.2M496.9,283.4Q498.7,281.1 500.1,278.6M496.9,283.4Q499.3,282.7 501.7,282M484.5,287.9Q486.1,290 487.3,292.4M478.3,270Q477.1,267.8 476,265.6M478.3,270Q478.3,267.8 478.6,265.6M483.7,268.5Q484.3,265.9 485.3,263.4M483.7,268.5Q485.5,266.3 486.4,263.6M480.7,282.2Q478.9,279.9 477,277.6M493.4,279.1Q494.9,278 495.9,276.5M493.4,279.1Q495.3,279 497.1,279.5M495,280.7Q496.9,279.5 498.6,278M495,280.7Q497.3,281 499.5,281.6M506,326.1Q508.4,324.5 510.8,323.2M506,326.1Q508.8,326.1 511.4,325.6M505.8,331.8Q508.5,331.3 510.8,329.8M505.8,331.8Q507.7,333.3 509.4,334.9M504.5,335.1Q506.3,336.7 508.2,338.2M504.5,335.1Q505.7,336.9 506.5,339M492.2,330.7Q493.6,327.9 493.9,324.8M492.8,306.4Q493,304.4 494,302.6M492.8,306.4Q493.6,304.4 494.8,302.7M497.7,306.9Q499,304.5 501,302.5M497.7,306.9Q500.8,305.8 504.1,305.6M489.3,319.3Q486.6,317.8 484,316.1M514,314.1Q516.5,312.4 519.2,311.1M514,314.1Q517.3,313.9 520.6,314.1M514.7,321.7Q517.9,322.4 521.1,321.8M514.7,321.7Q516.7,324.1 518.4,326.7M498.6,317.5Q501.8,318.8 504.4,321M478.8,294.5Q475.8,293.3 473,291.8M478.8,294.5Q477.2,291.9 474.7,290.2M482.1,294.1Q480,292.8 477.7,291.8M482.1,294.1Q481.3,292 479.9,290.1M486.8,288.6Q484.7,287.2 482.4,286.3M486.8,288.6Q486.2,286.2 485,284M492.5,287.4Q492.1,284.5 491.8,281.6M492.5,287.4Q493.5,284.9 494.3,282.3M492.4,290.5Q490.5,289.6 488.8,288.5M492.4,290.5Q491.5,288.5 491.1,286.3M495.7,289.6Q494.9,288 493.5,286.8M495.7,289.6Q495.9,287.7 496.2,285.8M466.6,323.4Q466.7,320.1 468.2,317.2M466.6,323.4Q467.6,320.5 467.3,317.5M470.3,327.7Q472,326.1 474,324.7M470.3,327.7Q472.9,326.9 475.4,325.4M459.5,335.7Q457.5,333.4 455.2,331.5M437.1,335.2Q434.9,336.3 432.5,336.9M437.1,335.2Q434.9,334.6 432.8,335M435.3,332.7Q433.2,333.6 431.3,334.9M435.3,332.7Q433.2,331.9 430.9,331.5M464.1,311.4Q463.6,308.9 462.8,306.5M464.1,311.4Q464.4,308.4 465.2,305.5M464.1,311.4Q466.1,309.1 468.6,307.5M466.4,316.3Q467.5,314.7 468.7,313.1M466.4,316.3Q468.1,315.5 470.1,315.5M441.4,303.4Q439.3,302.7 437.5,301.3M441.4,303.4Q440.5,301.7 439.1,300.4M444.4,300.9Q442.8,299 440.9,297.4M444.4,300.9Q444.2,298.5 443.5,296.1M446.2,297.5Q444.5,295.5 442.5,294M446.2,297.5Q446.2,295.6 446,293.6M448.7,296.8Q447.9,295 447.4,293.1M448.7,296.8Q449.7,294.5 451.5,292.6M455.5,298.1Q454.3,296.2 454.1,294M455.5,298.1Q455.8,295.7 457,293.5M459.7,299.3Q460.1,297.3 459.6,295.3M459.7,299.3Q460.7,297.6 462.4,296.4M454.3,309.8Q453.6,307.5 453.6,305.1M510.3,282.5Q511.2,279.8 512.2,277.2M510.3,282.5Q512.1,281.6 514.1,281.2M511.3,286.2Q512.4,284.4 513.4,282.4M511.3,286.2Q513,285.7 514.8,285.7M511.3,286.2Q513.2,287 515.2,287.6M499.3,269.8Q499.7,267.5 499.4,265.2M499.3,269.8Q501,268.4 502.6,266.9M503.1,270.7Q504.8,268.5 505.7,265.8M503.1,270.7Q505.8,269.6 508.8,269.4M494.3,279.9Q493,277.6 492.4,275M475.3,280.2Q473.7,281.8 472,283.2M475.3,280.2Q472.8,280.4 470.5,281.6M477.4,275Q475.6,273.9 473.5,273.5M477.4,275Q476.7,273.2 475.9,271.4M485.8,268.6Q483.9,267.2 482.3,265.5M485.8,268.6Q485.4,266.7 485.3,264.7M489,268.2Q488.6,266 489.3,263.9M489,268.2Q490,266.3 491.7,265M488.6,278.3Q486.8,277.3 484.8,277.2M515.6,382.7Q517.7,381.6 519.4,379.9M515.6,382.7Q517.9,382.9 520,382.1M515.8,388.9Q519.2,390.4 523,390.9M515.8,388.9Q516.9,391.5 519,393.4M501.7,382.2Q503.2,379.3 505.3,376.8M491.5,358.3Q489,356.7 487.5,354.2M491.5,358.3Q490.1,356.4 489.8,354M495.7,357.1Q494.3,355.3 493.8,353.1M495.7,357.1Q496.2,354.6 495.8,352.1M529,356.8Q531.1,353.8 533.7,351.1M529,356.8Q532.9,355.3 536.6,353.4M528.1,364.9Q531.1,364.4 533.6,362.8M528.1,364.9Q531.1,366.2 533.9,367.9M512,365.5Q515,367.8 518.6,369.3M497.2,344.6Q494.5,343.4 491.7,343.4M497.2,344.6Q496.3,342.2 495,339.9M497.2,344.6Q497.9,342.2 498.2,339.7M500.9,344.6Q499.6,342.3 498.2,340M500.9,344.6Q501.7,342.5 503.1,340.8M530.3,333.8Q531.8,330.1 532.5,326.2M530.3,333.8Q533,331.8 535.7,329.8M532.4,342.4Q536.2,341.3 539.4,338.8M532.4,342.4Q535.7,344.3 539.4,345.6M490.4,330.1Q487.4,329.8 484.6,328.4M490.4,330.1Q488.7,327.9 487.4,325.2M494,326.2Q491,323.8 487.4,322.5M494,326.2Q493.1,323 491.4,320M508,326Q506.3,323.6 504.6,321.3M508,326Q508,323.3 507.2,320.7M514.2,327.3Q515.9,324.7 516.4,321.7M514.2,327.3Q516.8,325.2 518.7,322.4M507.4,340.2Q510.3,339.4 513.3,339.9M520.7,327.8Q521.7,325.8 523.5,324.4M520.7,327.8Q522.8,326.4 524.1,324.2M522.6,332.2Q525.2,331.5 527.8,331.1M522.6,332.2Q525,332.6 527.2,333.7M509.1,313.1Q508.2,310.9 507,308.8M509.1,313.1Q509.5,310.4 510.7,308M513.4,315.2Q513.5,312.7 514.7,310.4M513.4,315.2Q514.5,313.7 515.8,312.4M513.4,315.2Q515.2,314.5 516.5,313M508.4,325.5Q510.1,323.5 512.3,322.1M527.8,322.7Q529.2,321.4 530.7,320.1M527.8,322.7Q530.2,322.8 532.5,322.1M528.4,327.2Q530.5,327.6 532.5,327.3M528.4,327.2Q530.7,328.7 533.3,329.1M511,310.4Q509.5,309 507.8,307.9M511,310.4Q510.5,308.4 509.5,306.7M516.3,309.1Q516.7,306.7 517.8,304.6M516.3,309.1Q517.5,307.3 518.2,305.2M528.3,307.4Q528.5,305.4 527.7,303.4M528.3,307.4Q529.6,305.8 530.5,303.9M532.2,307.9Q533.5,305.4 534.4,302.7M532.2,307.9Q534.6,306.6 537.3,306.2M536.3,322.2Q538.4,321.6 540.5,321.2M536.3,322.2Q538.4,322.8 540.5,323.2M533.4,326.6Q535,327.6 536.3,329M533.4,326.6Q534.2,328 535.4,329M524.8,321.6Q526.4,319.8 527,317.5M541.9,368.3Q545.7,367.3 548.7,364.7M541.9,368.3Q545,369.1 547.7,370.6M540,370.8Q542.4,370.1 545,370M540,370.8Q542.3,372.2 544.8,373.5M524.4,369.4Q527.3,367.6 529.8,365.2M518.3,348.3Q516.4,346.8 515.1,345M518.3,348.3Q517.8,346.4 517.2,344.6M522.1,348.3Q521.5,346.8 520.4,345.6M522.1,348.3Q522.8,346.6 524.1,345.2M541.7,352.1Q542.8,350.7 543.6,349.2M541.7,352.1Q543.1,351.2 544.4,350.2M543.1,357.6Q545.3,357.7 547.4,357.6M543.1,357.6Q544.8,359.1 546.5,360.5M520.7,330.9Q517.9,330.3 515.1,330.1M520.7,330.9Q518.5,329.5 516.2,328.2M525,327.4Q523.7,325 523.5,322.4M525,327.4Q524.7,325 523.9,322.7M529.2,328.9Q527.4,326.9 525,325.8M529.2,328.9Q528.8,326.9 527.4,325.3M534.9,327.9Q535.3,325.2 535.9,322.6M534.9,327.9Q536.7,326.6 538.6,325.3M533.7,340.6Q535.4,338.5 536.3,335.9M534.8,332.5Q533.3,331.4 531.8,330.3M534.8,332.5Q534.1,330.1 534.5,327.7M542.5,331.7Q542.6,329.6 541.8,327.6M542.5,331.7Q544.2,330.2 546,328.7M542.5,331.7Q545.3,331.9 547.8,333.1M543.2,333.4Q544.5,331.6 544.9,329.5M543.2,333.4Q545.1,332.8 547,333.2M537.1,342.3Q539.5,342.6 541.9,342.6M541.5,417.7Q544.6,417.2 547.7,417.8M541.5,417.7Q544.4,420 548,420.6M539.1,422.6Q542.7,423.7 546.4,424M539.1,422.6Q541.1,425.5 543.3,428.1M532,427.8Q534.1,430.6 534.6,434.1M532,427.8Q532,431.7 530.7,435.4M531,376.3Q531.2,373 531.8,369.8M531,376.3Q533.2,374.1 535.5,371.9M532.2,379.4Q532.4,376.8 531.9,374.4M532.2,379.4Q533.9,377.8 535.7,376.4M550.5,395.9Q551.4,393.4 553.2,391.6M550.5,395.9Q552.9,393.8 555.9,392.7M550.5,395.9Q553.1,396.7 555.2,398.4M551,403.4Q554.7,403.1 558.4,403.3M551,403.4Q554,405.6 557.6,406.7M520.1,368.8Q517.6,365.7 516,362.1M520.1,368.8Q519.5,365.9 519.2,362.9M522.9,368.4Q521,366.3 518.4,365.1M522.9,368.4Q522.9,365.9 522.3,363.4M550,371.2Q549.8,369.5 548.8,368M550,371.2Q551,369.2 551.4,367.1M553.2,374.9Q554.3,373.6 555.9,372.8M553.2,374.9Q555,374.8 556.6,375.5M537.3,358.6Q535.5,357 533.6,355.3M537.3,358.6Q537.1,356 537.1,353.4M543.5,359.4Q544.7,357.6 545.5,355.6M543.5,359.4Q545.5,358.3 546.9,356.5M553.7,366.7Q555.6,365.2 557.9,364.2M553.7,366.7Q556.1,365.9 557.9,364.1M554.8,366.9Q556.3,365.1 557.9,363.3M554.8,366.9Q557.1,366.7 559.4,366.8M562.7,369.1Q564.4,368.2 566,367.1M562.7,369.1Q564.9,369.2 566.7,370.2M563.4,371.6Q565.6,371.3 567.7,370.4M563.4,371.6Q565.8,372 568.1,372.6M562.1,374.4Q564.2,374.4 566.4,374.1M562.1,374.4Q563.7,375.7 565.8,376.1M552,350.7Q550.8,348.3 548.7,346.7M552,350.7Q552.4,348.2 552.5,345.8M554.2,352.1Q553.9,350.2 552.8,348.6M554.2,352.1Q555.2,350.6 556.2,349M552.8,389.8Q553.1,392.4 554.5,394.7M552.8,389.8Q551.8,392.1 550.9,394.5M550.3,388.5Q550.1,390.9 549.3,393.1M550.3,388.5Q549,390.3 547.2,391.6M553.7,375.5Q555.6,377.6 557,380.1M568.6,382.2Q570.9,382 573.3,382M568.6,382.2Q570.5,383.4 572.7,384M568.6,382.2Q569.1,384.1 569,386M566,383.5Q567.4,385.2 568.1,387.3M566,383.5Q566,385.3 565.2,386.9M559.4,385.7Q560.5,386.9 561.8,387.8M559.4,385.7Q559.9,387.6 560.6,389.5M557,386.4Q557.6,388.4 559,389.8M557,386.4Q556.3,388 555.7,389.7M556.5,376.4Q558.5,377.2 560.6,377.7M560.7,429.8Q564,427 568,425.3M560.7,429.8Q565.1,430.7 569.6,430.9M561,435.3Q564.5,433.5 568,431.7M561,435.3Q564.9,436.8 569.1,436.9M541,435.3Q544.3,432.7 547.5,429.9M540.6,412Q540.2,409.5 540.2,406.9M540.6,412Q541,410 541.1,408M545.2,414.8Q546.4,413.1 548.3,412.2M545.2,414.8Q546.8,414.2 548.5,413.9M538.7,424.2Q541.3,423.3 544,423.5M570.1,417.8Q572.7,417.2 575.2,416.4M570.1,417.8Q572.3,418.7 574.5,419.5M570.3,419.5Q573.3,418.6 576.4,418.3M570.3,419.5Q573.5,419.2 576.6,418.6M547.4,397.9Q545.4,397 543.5,396M547.4,397.9Q546,396.3 544.7,394.5M551.2,394.9Q550.6,392.6 549.6,390.5M551.2,394.9Q551.6,392.4 551.1,389.9M552.6,407.9Q550,407 548,405.2M552.2,389Q550.1,386.2 547.7,383.6M552.2,389Q552.5,386.5 552.4,383.9M555.7,388.4Q554.3,385.4 552.5,382.6M555.7,388.4Q557,385.1 558.9,382.2M566.8,394.7Q567.4,392.2 568.4,389.8M566.8,394.7Q568.6,392.7 570.5,390.8M571.1,399.9Q573.7,399.3 576.4,398.9M571.1,399.9Q573.2,400.6 575.2,401.5M580.9,406.1Q584.1,404.9 586.5,402.5M580.9,406.1Q584,406.8 587,406.2M578,411.4Q580.3,412.1 582.7,412.1M578,411.4Q578.8,413.6 579.9,415.7M576.8,400.4Q578.3,399.6 579.5,398.5M574.2,421.5Q575.7,422.2 577.3,422.7M574.2,421.5Q575,423 576.3,424.2M571,421.5Q570.9,423.3 570.5,425.1M584.9,413.3Q585.4,411.8 585.5,410.2M584.9,413.3Q586.8,412.2 588.4,410.6M584.9,413.3Q587.1,413.6 588.9,414.8M582.8,418.6Q584.5,419.5 585.9,420.9M582.8,418.6Q583.6,420.4 584.2,422.3M571.3,422.8Q572.1,424.2 573.4,425.1M571.3,422.8Q570.9,424.5 570.5,426.1M567.5,422.3Q567,424.2 566.3,426.1M567.5,422.3Q566.4,423.6 566,425.2M572.4,414Q574.3,414.6 576.2,414.3M446.6,423Q447.5,427 450.1,430.1M446.6,423Q444.4,425.8 441.5,427.6M442.7,417.5Q441,420.4 440.1,423.7M442.7,417.5Q439.7,419.5 436.2,420M483,422Q486.4,422.4 489.6,421.2M483,422Q485.8,424.1 489.1,424.9M480.7,427.4Q483.1,428.4 485.3,429.9M480.7,427.4Q481.5,430 481.3,432.7M440.8,425.7Q438.6,426.6 436.1,426.6M440.8,425.7Q437.9,425.1 435,425.6M442.4,419.4Q440.1,418.5 438.4,416.7M442.4,419.4Q441.3,417 440.5,414.4M461.4,453.4Q462.5,455.6 464,457.6M461.4,453.4Q461.6,455.7 462.9,457.7M457.1,452.6Q457.2,454.5 458.1,456.1M457.1,452.6Q455.8,454.3 454,455.6M436.2,450.6Q434.1,453.3 431.2,455.2M436.2,450.6Q433.1,451.3 430,450.7M436.3,446.8Q434.5,448.5 432.2,449.7M436.3,446.8Q433.6,447.3 431.1,448.5M444.3,463.3Q443.8,466.1 444,469.1M444.3,463.3Q442.2,465.4 440.8,467.9M441.9,460.1Q441.9,462.2 442.2,464.3M441.9,460.1Q440.3,461.8 438.3,463.1M441.9,460.1Q439.4,461 437.2,462.3M441.9,459.9Q442,462.9 441.1,465.8M441.9,459.9Q440.5,462 438.5,463.7M438.8,456Q437.9,458.1 436.5,459.9M438.8,456Q436.6,457.5 434.8,459.4M430.6,463.3Q429.5,465.6 427.5,467.2M430.6,463.3Q428.6,463.9 426.7,464.9M429.1,456.9Q426.7,457.3 424.6,458.6M429.1,456.9Q427.4,455.3 425.6,453.7M441.5,457.9Q439.1,456.7 436.4,456.7M454,476.6Q456.2,476.5 458.3,476.4M454,476.6Q455.5,477.3 457.1,477.3M451.8,480Q454,480.6 455.9,481.6M451.8,480Q452.7,482.1 453.4,484.2M451.8,480Q451.2,482.2 449.9,484.1M446.4,471.2Q448.5,471.3 450.5,470.5M431.2,485.6Q430.7,487.6 429.6,489.4M431.2,485.6Q429.6,487.4 429,489.7M429.4,483.2Q428.6,484.9 427.2,486.2M429.4,483.2Q427.4,483.6 425.2,483.5M438.2,496.6Q439.9,498.6 442,500.3M438.2,496.6Q437.4,499.1 436.2,501.3M434,495.2Q433.6,497.4 433.1,499.6M434,495.2Q432.3,496.6 430.9,498.3M439.6,484.9Q441.7,486.2 443.5,487.8M434.2,492.1Q433.8,493.9 434,495.7M434.2,492.1Q433,493.6 432.1,495.2M432.5,492.4Q432.1,494.7 431.7,496.9M432.5,492.4Q430.9,493.8 428.9,494.7M470.3,436.8Q467.8,438.6 465.7,440.7M470.3,436.8Q467.7,437 465.1,436.8M470,435.7Q468,437.6 465.6,439M470,435.7Q467.4,436.7 465,438M482.6,429.1Q481.7,432 480,434.6M500.4,447Q502.4,447.5 504.5,447.2M500.4,447Q501.7,449 501.9,451.3M498.7,449.4Q500.7,450.4 502.7,451.5M498.7,449.4Q499,451.8 500.4,453.7M490,440.8Q489.1,443.3 489,446.1M466.2,468.1Q466.7,472.4 465.1,476.4M466.2,468.1Q464.1,470.7 463.3,474M462.3,460Q459.9,460.9 457.5,461.7M462.3,460Q458.9,459.5 455.5,460M477.7,454.4Q474,453.5 470.4,452.1M497,472Q499.5,471.6 502,471M497,472Q499.5,473 502,474.2M495.2,475.1Q497.6,476.4 500.4,476.4M495.2,475.1Q496.5,477.6 496.4,480.3M484.5,465.9Q487.6,465.1 490.5,463.8M483,483.9Q484.9,485.2 486.2,487.1M483,483.9Q483.7,486.4 484.9,488.8M479.5,487.7Q480.8,490.7 481.3,493.8M479.5,487.7Q478.5,490.4 476.7,492.6M477.2,472.2Q479.3,474.6 480.7,477.4M464.9,480.6Q463.9,482.9 463.6,485.4M464.9,480.6Q462.7,481.8 460.2,482.4M462.7,477.2Q460.8,478.8 459.1,480.5M462.7,477.2Q460.3,477.6 458,477.7M473.7,469.6Q471,468.8 468.7,467.2M460.8,496.1Q461,499.4 462.6,502.3M460.8,496.1Q459.2,499 457.2,501.5M457.5,492.8Q455.6,495.6 453.7,498.3M457.5,492.8Q454.9,493.6 452.2,494.3M482.2,499.6Q484,499.7 485.7,499.7M482.2,499.6Q483.9,500.4 485.5,501.4M476.9,502.3Q477.2,503.9 478.1,505.3M476.9,502.3Q476.4,504.4 475.7,506.3M476.9,502.3Q475.7,503.8 474,504.6M459.8,507Q460.2,509.6 460.6,512.3M459.8,507Q458.3,509 457.6,511.4M454.9,503.5Q453.1,504.8 451.4,506.2M454.9,503.5Q452,503.4 449.1,502.9M454.4,498.4Q452.3,498.4 450.4,499.2M454.4,498.4Q452.5,496.7 450.3,495.5M466.5,516.1Q467.6,518.1 469.5,519.4M466.5,516.1Q467.1,518.5 467.4,521M466.5,516.1Q465.7,518.1 464.4,519.8M462.6,513.5Q461.5,515.6 461.5,517.8M462.6,513.5Q461,514.4 459.3,515.1M462,511Q461.7,512.6 461,514.2M462,511Q460.5,512.1 459.6,513.7M459.7,508.6Q458.5,510 458,511.8M459.7,508.6Q458,509.2 456.2,509.4M459.7,508.6Q458.1,508.1 456.7,507.2M428.9,404.1Q428.3,406.3 428.5,408.6M428.9,404.1Q426.7,405.9 423.9,406.5M427,402.8Q425.9,405.2 424.6,407.4M427,402.8Q425.3,404.2 423.3,405.3M424.6,398.5Q422.2,399.6 419.5,399.6M424.6,398.5Q422,397.7 419.3,397.8M435.3,393.3Q433.2,391.8 431.2,390.1M451.2,412.2Q453.7,413.1 456.3,413.9M451.2,412.2Q452.8,414.4 455.3,415.7M447.4,413Q448.3,414.5 448.4,416.1M447.4,413Q447.3,415 447.4,417M419.3,422.7Q418.9,426.1 417.4,429.2M419.3,422.7Q416.7,424.8 414.6,427.5M416,415.5Q413,416.8 410.3,418.6M416,415.5Q413.2,414.2 410.6,412.4M431.2,435.3Q431.5,438.2 430.8,441M431.2,435.3Q429.9,437.4 428.3,439.3M428.9,432.4Q428.2,434 427.7,435.7M428.9,432.4Q427.4,433.5 426.6,435.2M423.9,428.4Q423.2,430.2 423.2,432.2M423.9,428.4Q422,429.6 419.7,429.9M422.4,425.3Q420.9,426.3 419.1,426.9M422.4,425.3Q420.4,424.9 418.4,424.6M486.5,458.1Q484,460.3 481.8,462.7M486.5,458.1Q483.1,458.7 479.8,459.9M485.5,452Q482.7,452.8 479.9,453.9M485.5,452Q483.1,451.6 480.9,450.3M499.8,447Q499.4,450.5 498.9,454M518,469.4Q520.8,470.6 523.9,470.3M518,469.4Q518.9,471.6 520.3,473.6M515,472.5Q516.5,475.4 517.3,478.6M515,472.5Q514.8,475.2 515,478M510.2,471.9Q510.7,474.7 512.2,477.1M510.2,471.9Q509.4,474.2 508.8,476.7M508.6,457.9Q511.9,457.1 514.9,455.7M495.1,472.5Q496.2,473.8 497.8,474.5M495.1,472.5Q495.1,474.5 495.4,476.5M489.5,470.9Q488,472.6 486.9,474.5M489.5,470.9Q487.9,471.4 486.2,471.1M488.1,466.7Q486.5,467.1 484.8,467.4M488.1,466.7Q486.3,466.3 484.7,465.4M509.2,482.9Q511.1,482 512.8,480.7M509.2,482.9Q510.9,482.9 512.4,483.6M509.2,482.9Q510.8,483.8 512.3,484.7M505,487.3Q505.3,489.4 504.8,491.5M505,487.3Q504.5,489.4 503.3,491.3M501.3,494.7Q503.4,496.2 505.2,498.1M501.3,494.7Q502.4,496.9 502.8,499.3M497.6,495.5Q499.1,497.3 500.2,499.3M497.6,495.5Q497.5,497.5 496.9,499.4M482.6,487Q480.9,489.1 479.2,491M482.6,487Q480,487.5 477.4,488.3M482.4,486.1Q481.6,488 480.1,489.4M482.4,486.1Q480.3,486.7 478.2,486.4M483.2,479.3Q481.7,478.4 480.1,477.8M483.2,479.3Q482.1,477.7 481.5,475.9M586.4,515.4Q586.5,517.3 587.4,519.1M586.4,515.4Q585.4,517 583.8,517.9M586.4,515.4Q584.5,516.4 582.9,517.9M584,512.7Q583.4,514.2 583.3,515.9M584,512.7Q582.2,514.2 580.7,515.8M584,512.7Q581.8,513.1 579.5,513.3M590.4,504.4Q591.4,506.7 591.4,509.3M611.1,515.6Q613.2,514.2 615.6,513.5M611.1,515.6Q613.4,515.5 615.5,514.7M608.2,520.5Q609.6,521.6 611.2,522.2M608.2,520.5Q608.6,522.7 607.9,524.7M604.8,521.6Q605.9,523.1 607,524.6M604.8,521.6Q605,523.3 605.7,524.8M601,513.4Q603.1,512.4 605.3,511.8M587.5,530.6Q587.7,532.7 588.1,534.8M587.5,530.6Q586,532.6 583.7,533.6M585.5,528.4Q584.5,530 582.9,531M585.5,528.4Q583.8,529.1 582.3,530.4M603.3,535.3Q604,537.4 604.8,539.4M603.3,535.3Q602.9,537.4 603.2,539.5M601.5,535.4Q602.2,537.5 603.6,539.2M601.5,535.4Q600.7,537 599.8,538.7M594.2,533.5Q594.1,535.2 593.7,537M594.2,533.5Q593.3,535.1 592.2,536.6M593,532.9Q593.2,534.4 593.9,535.8M593,532.9Q592.1,534.1 591.9,535.6M596.3,524.1Q594.2,524.4 592.1,523.9M593.1,475.7Q593.5,472.6 592.5,469.6M593.1,475.7Q594.7,473 596.5,470.4M596.9,483.9Q599,483.1 601.3,482.7M596.9,483.9Q599.5,484.4 602,484.3M594,489.1Q596.1,490.4 598.5,490.8M594,489.1Q595,491 595.2,493.3M582.8,484.2Q583.8,487.2 585.6,489.8M584.3,464.6Q582.8,462.9 581.1,461.3M584.3,464.6Q584.1,462.6 584.3,460.6M588.9,467.1Q589.8,465.6 591,464.2M588.9,467.1Q590.8,466.8 592.4,465.9M595,490.6Q596.8,491.5 598.6,492.4M595,490.6Q595.9,492.4 596.3,494.4M595,490.6Q595,492.3 594.4,493.9M589.3,492.2Q589.2,494.4 589.1,496.6M589.3,492.2Q587.4,493.7 585,494.3M592,481.5Q594.2,481.7 596.4,481.5M609.7,475.2Q610.2,473.3 609.8,471.3M609.7,475.2Q611.3,473.3 612.3,470.9M609.7,475.2Q612,475.1 614.1,474.2M609.1,481.4Q611.2,482 613.4,482.6M609.1,481.4Q610.3,482.8 610.7,484.7M606.6,484.8Q608.3,486.5 610.3,487.9M606.6,484.8Q607.1,487.1 608.4,489.1M598.9,477.3Q599.9,475.1 601.3,473M604.7,488.7Q607,489.5 609.4,490.1M604.7,488.7Q605.8,490.9 607.7,492.3M598.8,489.3Q598,490.7 597.2,492.2M597.6,480.5Q597.1,482.7 595.7,484.4M558.7,521.6Q559.8,524.2 560.9,526.8M558.7,521.6Q558.2,524.6 558.5,527.6M550.8,517.1Q548.3,519 546.5,521.6M550.8,517.1Q547.4,517 544,516.4M563.2,508.3Q564.9,511 567.3,513.1M583.7,497.9Q583.4,496.1 583.1,494.2M583.7,497.9Q584.9,495.7 586.1,493.6M587.8,500Q589.8,498.4 592,497.4M587.8,500Q590.5,498.8 593.5,498.8M577.1,526.1Q578.8,527.6 580.9,528.4M577.1,526.1Q578.2,528.3 579.4,530.3M569.4,524.7Q568.2,526.8 567.1,528.9M569.4,524.7Q567.7,525.5 566.6,526.9M597.6,519.2Q599.8,520 602.1,519.8M597.6,519.2Q598.7,520.9 599.9,522.6M595.4,520.4Q596.9,520.8 598.4,521.1M595.4,520.4Q596.6,522.1 598,523.7M594.3,517.3Q596,516.6 597.6,515.9M594.3,517.3Q596.1,517.9 597.6,519M594.7,520.7Q596.9,521.1 599.2,521M594.7,520.7Q596.3,522.3 597.9,523.8M592.8,524.2Q594.1,526.1 595,528.2M592.8,524.2Q593.1,526.2 593.5,528.3M585.1,517.1Q587.2,516.6 589.1,515.5M571.5,579.4Q573.3,582.4 573.7,585.8M571.5,579.4Q572,582.6 573.7,585.3M570.3,580.5Q573.1,582.2 574.9,585.1M570.3,580.5Q571.1,584.1 573.5,587M565.6,563.2Q562.1,564.6 558.4,564.5M585.3,556.8Q586.4,555.2 586.7,553.3M585.3,556.8Q587,555.5 588.2,553.7M587.1,559.1Q588.5,557.5 590.1,556.2M587.1,559.1Q589.6,558.7 591.7,557.3M585.4,562.4Q586.9,562.3 588.5,562.1M585.4,562.4Q586.9,563.5 588.5,564.3M575.1,561.4Q576.5,559.3 577.2,557M570.2,589.5Q572.2,592 574,594.7M570.2,589.5Q570.4,593.4 569.2,597.1M563.5,584.8Q561.8,586.9 559.7,588.5M563.5,584.8Q560.3,584.9 557.5,586.3M572.8,573.1Q574.8,576.1 575.7,579.6M596.2,567.4Q597.5,564.9 599.7,563.3M596.2,567.4Q599.2,566.8 602.2,566.3M595.5,574.5Q598.3,575.1 601,576.2M595.5,574.5Q597.2,576 598.2,578M593.2,578.6Q595.6,579.6 597.9,581M593.2,578.6Q594.9,580.9 596.5,583.2M585.3,588.2Q587,588.9 588.8,588.8M585.3,588.2Q586.1,590.3 586.5,592.4M582,590.2Q582.6,592.3 583.4,594.2M582,590.2Q581.7,592.2 582,594.1M599.4,582.6Q601.6,582.7 603.6,581.7M599.4,582.6Q601.5,583.8 603.5,584.9M598.5,585.9Q601.4,586.1 603.9,587.5M598.5,585.9Q600.5,587.9 603.3,588.9M582.3,593.1Q582.3,595.1 581.8,597.1M582.3,593.1Q580.7,595.1 578.4,596.1M579.8,593Q579.6,595.2 579.3,597.5M579.8,593Q577.9,594.5 576.1,596.2M583.4,581Q581.4,582.7 579.9,584.8M534.3,548.6Q533.3,551.3 531.3,553.3M534.3,548.6Q532.2,549.6 530,550M533.7,544.9Q532.7,546.3 531.3,547.1M533.7,544.9Q531.9,545.6 530.3,546.4M542.2,539.1Q540.5,537.2 538.2,536.2M556.6,554.2Q558.2,554.8 559.4,556.1M556.6,554.2Q557.8,555.8 559.3,557M557,556.2Q559.4,557 561.9,557.7M557,556.2Q558.5,557.8 560.4,559M553.4,558.2Q554.7,559.8 556.4,561M553.4,558.2Q554,560.4 554.8,562.6M534.1,562.9Q534.3,565.2 534.6,567.5M534.1,562.9Q533.4,564.7 532.7,566.6M531.4,559.6Q530.9,561.3 529.8,562.6M531.4,559.6Q529.8,560.2 528.2,560.1M531.4,559.6Q529.5,559.1 528,557.9M556.2,577.8Q559.4,578.3 562.6,578.1M556.2,577.8Q558.6,580.1 561.7,581.2M549.3,581.4Q550,584 551.7,586M549.3,581.4Q548.2,583.8 547.8,586.4M534.5,582.4Q534.5,584.8 534.7,587.2M534.5,582.4Q533,583.7 531.7,585.2M532,581.7Q530.4,584 529,586.4M532,581.7Q530.2,583 528,583.6M539.5,571.4Q541.5,573.2 543.3,575.2M529,577.4Q527.7,579.3 527.4,581.6M529,577.4Q527.2,577.9 525.8,579.2M527.9,576.5Q526.8,578.7 525.3,580.7M527.9,576.5Q525.8,577.6 523.6,578.4M580,556.8Q581.9,557.8 583.2,559.5M580,556.8Q580.9,558.3 581.5,560M576.7,558.3Q577.8,559.6 579.1,560.7M576.7,558.3Q576.3,560.2 576.3,562.2M591.8,536.9Q592.6,534.7 594.3,533.1M591.8,536.9Q594.1,535.6 596.7,535.4M594.2,540.9Q595.4,539.4 597,538.2M594.2,540.9Q596.1,540.5 597.7,539.4M596.7,544.8Q599.3,544.1 601.9,543.8M596.7,544.8Q600.1,544.9 603.3,546.1M583,546.8Q584.7,544.5 586.9,542.6M591.2,563.2Q592.9,563.3 594.5,563.5M591.2,563.2Q592.4,564.1 593.8,564.8M588,565.1Q589.1,566.2 589.8,567.5M588,565.1Q587.6,566.8 586.9,568.5M600.1,567.2Q601.5,567.8 602.4,569.1M600.1,567.2Q601.7,568.3 603.5,568.8M597.8,570.1Q598.9,571.9 600.2,573.6M597.8,570.1Q597.4,572.2 596.9,574.3M592.3,560.5Q594.7,560 597.1,560.5M596.1,569.1Q597.6,569.7 599.2,569.6M596.1,569.1Q596.9,570.5 597.7,572M592.4,571Q592.7,572.6 593.6,574M592.4,571Q591.8,572.9 592,574.8M473.1,529.9Q471.7,531.3 470.1,532.7M473.1,529.9Q470.8,530.5 468.6,531.3M473.3,529.2Q472.2,530.9 471.7,532.8M473.3,529.2Q471.4,529.2 469.5,529.5M483,523.9Q480.8,522.7 478.6,521.6M493.9,544.8Q496.5,545.9 499.2,546.7M493.9,544.8Q494.7,546.8 494.9,549M489.7,546.6Q490.5,549 490.5,551.6M489.7,546.6Q489.2,549.3 489.7,551.9M488.2,533.1Q490.9,533.2 493.4,534M476,551.1Q477.9,553.9 480.7,555.8M476,551.1Q475.5,554.1 476.1,557.2M469,546.9Q466.6,549.1 463.8,550.6M469,546.9Q466.6,546.9 464.2,547.1M467.5,543.6Q465.5,545.2 463.7,547M467.5,543.6Q464.2,543.4 461.2,542M480,538.4Q480.1,541.3 480.2,544.2M506.1,543.8Q508.2,541.5 510.7,539.8M506.1,543.8Q508.6,543 511.1,542.1M505.8,551.6Q509.4,552 512.9,551.3M505.8,551.6Q508.2,553.1 511.1,553.4M498.2,557.6Q500.8,557.7 503.4,557.6M498.2,557.6Q499.8,558.9 501.7,559.4M494.4,562.5Q495.8,564.2 496.7,566.3M494.4,562.5Q494,564.7 492.6,566.5M485.6,561.4Q486.6,562.9 487.8,564.2M485.6,561.4Q485.7,563.4 485.9,565.5M482.1,560.5Q482.2,562.4 481.8,564.3M482.1,560.5Q481,562.1 480,563.8M482.1,560.5Q480.2,561.5 478.4,562.5M501.1,537.7Q499.9,540.5 498.8,543.3M501.1,537.7Q498.9,538.6 496.6,538.3M499.3,535.9Q499.1,538.7 500,541.4M499.3,535.9Q497,538 494.4,539.5M499.3,535.9Q496.7,536.1 494.1,535.3M509.6,525.5Q509.5,528.8 508.4,531.8M532.2,534.9Q534.5,534.4 536.7,533.4M532.2,534.9Q534,535.8 535.9,536.4M532.2,534.9Q533.5,536.5 534.7,538.2M531.1,538.2Q533.1,538.8 535.1,539.6M531.1,538.2Q532.4,540.2 533.5,542.4M531.1,538.2Q531,540.4 530.2,542.4M520.9,530Q523.2,528.3 525.7,526.9M512.6,556.2Q513.6,559.1 514.7,561.9M512.6,556.2Q512.6,558.9 511.8,561.5M512.6,556.2Q510.3,558.7 508.8,561.8M510.8,554.9Q510.8,557.1 511.5,559.3M510.8,554.9Q510,557.2 508.5,559.1M534.4,552.6Q536.7,552.5 539.1,552.9M534.4,552.6Q536.2,553.5 537.6,554.9M533.7,554.4Q536.1,553.7 538.3,552.4M533.7,554.4Q535.9,554.9 538,556M533.7,554.4Q534.8,556 536.2,557.5M527.5,558.3Q527.7,560.4 528.7,562.3M527.5,558.3Q526.3,560.6 526.2,563.1M522.1,547.8Q521,550.7 521.3,553.9M528.1,561Q530.4,560.8 532.7,560.2M528.1,561Q530,562.7 532.3,564M525.4,564.9Q527.1,566.7 529.2,567.9M525.4,564.9Q526.2,567.5 527.9,569.6M506.4,559.4Q504.7,561.5 504,564.1M506.4,559.4Q504.4,559.5 502.5,559M505.6,559Q504.4,560.9 502.6,562.5M505.6,559Q503.2,560.1 500.6,560.7M505.7,554.1Q504,554 502.4,553.2M505.7,554.1Q504,553.4 502.9,551.9M515.7,552.2Q517,554.2 517.8,556.5M521.4,527.7Q523.1,530.8 525.6,533.3M521.4,527.7Q520.5,530.5 519,533.1M521.4,527.7Q518.8,529.8 516.3,531.9M516.3,519.5Q513.9,519.7 511.9,520.8M516.3,519.5Q513.9,518.3 512,516.5M549,529.3Q551,529.9 552.8,530.8M549,529.3Q550.9,531.2 552.9,532.8M545.7,531.5Q547.4,533.2 549.4,534.2M545.7,531.5Q545.5,534.1 545.9,536.7M531.5,545Q532,547.6 531.9,550.1M531.5,545Q529.9,547.1 527.9,548.9M527.6,542.8Q527,545.2 526.3,547.5M527.6,542.8Q525.2,544.3 523.2,546.2M527.6,542.8Q525.2,542.9 522.7,542.8M535.2,532.9Q532.7,533.3 530.1,534.1M553.7,538.5Q555.1,537.4 556.1,535.9M553.7,538.5Q555.9,538.5 558,538.8M551.3,543.7Q552.5,545.1 553.4,546.7M551.3,543.7Q551.5,545.8 551.8,547.8M536.4,548.2Q536.1,550.1 535.8,551.9M536.4,548.2Q534.7,549.6 532.6,550.2M534.2,547.7Q534.3,550.2 534.3,552.7M534.2,547.7Q532.9,549.8 531.3,551.8M534.2,547.7Q532.2,548.3 530.2,547.9" stroke="#d6f4ff" stroke-width="0.5" opacity="0.3"/><path d="M479.8,358.9Q484.6,355.6 489.8,352.9M479.8,358.9Q486.6,359.4 492.3,363M465,341.7Q464.6,337.1 466.3,332.8M465,341.7Q466.9,337.4 468.9,333.2M480.8,337Q482.2,333.6 483.1,329.9M480.8,337Q485.1,335.1 489.6,333.6M455.8,329.1Q450.1,328.9 444.8,326.9M455.8,329.1Q451.8,326.4 448.2,323.3M481.4,321.7Q484.4,318.5 487.9,315.8M481.4,321.7Q486.5,320.5 491.6,321.4M460.8,316.7Q455.8,317.2 450.9,317.4M460.8,316.7Q456.7,314.7 452.3,313.9M460.8,316.7Q458.7,312.9 456.3,309.3M472.6,314.3Q471.5,310.1 471.9,305.9M472.6,314.3Q474.8,310.3 478.4,307.5M481.1,303.7Q483.4,300.5 485.2,297.1M481.1,303.7Q485.9,302.2 490.8,301.6M464.7,299.6Q461.8,298.6 458.9,297.5M464.7,299.6Q462.8,296.4 459.8,294.3M486.7,295.2Q490,292.3 494.2,290.9M486.7,295.2Q491.5,293.5 496.6,293.7M473.3,286.1Q471.6,284.2 469.6,282.6M473.3,286.1Q472.9,283.1 473.6,280.3M489.5,286Q492.1,284.3 495.1,283.8M489.5,286Q493.3,285.3 496.9,283.4M480.3,276.3Q479,273.3 478.3,270M480.3,276.3Q481.7,272.3 483.7,268.5M488.6,282.2Q490.6,280.1 493.4,279.1M488.6,282.2Q491.8,281.4 495,280.7M498.5,330.5Q501.8,327.5 506,326.1M498.5,330.5Q502.2,330.7 505.8,331.8M498.5,330.5Q502,332.1 504.5,335.1M491.7,313.6Q492,309.9 492.8,306.4M491.7,313.6Q494,309.6 497.7,306.9M505.4,316.8Q509.6,315.1 514,314.1M505.4,316.8Q510.3,318.8 514.7,321.7M486.3,300.1Q482.4,297.5 478.8,294.5M486.3,300.1Q484.3,297 482.1,294.1M491,294.9Q489.1,291.6 486.8,288.6M491,294.9Q492.1,291.2 492.5,287.4M495.3,295.8Q494.5,292.8 492.4,290.5M495.3,295.8Q495.8,292.7 495.7,289.6M463.7,331.4Q465.7,327.6 466.6,323.4M463.7,331.4Q467.1,329.7 470.3,327.7M443.3,333.6Q440.4,335.1 437.1,335.2M443.3,333.6Q439.3,332.9 435.3,332.7M460.5,318.8Q463.1,315.5 464.1,311.4M460.5,318.8Q463.7,318.2 466.4,316.3M446.4,307.7Q444.2,305.2 441.4,303.4M446.4,307.7Q445.5,304.3 444.4,300.9M448.9,303.7Q447.2,300.7 446.2,297.5M448.9,303.7Q449.2,300.2 448.7,296.8M456.2,305.4Q456.6,301.7 455.5,298.1M456.2,305.4Q458.2,302.5 459.7,299.3M505.5,288Q507.7,285.1 510.3,282.5M505.5,288Q508.4,287.3 511.3,286.2M489.8,289.7Q487.7,289.6 485.9,288.8M489.8,289.7Q488.4,288.1 487.6,286.2M496.9,275.3Q497.6,272.4 499.3,269.8M496.9,275.3Q499.8,272.7 503.1,270.7M481.6,278.8Q478.3,278.9 475.3,280.2M481.6,278.8Q479.2,277.2 477.4,275M488.1,274.3Q487.4,271.3 485.8,268.6M488.1,274.3Q488.4,271.2 489,268.2M508.1,383.6Q511.9,383.8 515.6,382.7M508.1,383.6Q512.6,385.3 515.8,388.9M496.3,364.1Q494.5,360.7 491.5,358.3M496.3,364.1Q496.1,360.6 495.7,357.1M519.5,363.7Q524.6,360.7 529,356.8M519.5,363.7Q523.8,364.1 528.1,364.9M500.9,351.6Q498.6,348.3 497.2,344.6M500.9,351.6Q501.3,348.1 500.9,344.6M521.2,341Q526.3,338.1 530.3,333.8M521.2,341Q526.8,341.3 532.4,342.4M498.6,334.8Q494.6,332.3 490.4,330.1M498.6,334.8Q496.8,330.2 494,326.2M508.8,334.3Q508.8,330.1 508,326M508.8,334.3Q511.3,330.6 514.2,327.3M515.4,332.8Q518,330.3 520.7,327.8M515.4,332.8Q519,332.6 522.6,332.2M509.7,320.4Q509.1,316.8 509.1,313.1M509.7,320.4Q511.5,317.8 513.4,315.2M521.6,325.7Q524.6,324 527.8,322.7M521.6,325.7Q525.1,326 528.4,327.2M515.5,315Q512.7,313.2 511,310.4M515.5,315Q515.2,312 516.3,309.1M526.2,313.3Q527,310.3 528.3,307.4M526.2,313.3Q529.2,310.5 532.2,307.9M529.4,323Q532.8,322.3 536.3,322.2M529.4,323Q531.6,324.6 533.4,326.6M531.3,369.2Q536.6,368.4 541.9,368.3M531.3,369.2Q535.6,370.3 540,370.8M522.5,353.6Q520,351.3 518.3,348.3M522.5,353.6Q522.1,351 522.1,348.3M537.2,356Q539.5,354.1 541.7,352.1M537.2,356Q540.3,356.5 543.1,357.6M527.4,335.5Q524.5,332.6 520.7,330.9M527.4,335.5Q526.5,331.3 525,327.4M532.4,335.4Q531,332 529.2,328.9M532.4,335.4Q532.9,331.4 534.9,327.9M538.3,337.7Q536.7,334.9 534.8,332.5M538.3,337.7Q539.7,334.2 542.5,331.7M538.3,337.7Q540.6,335.3 543.2,333.4M530.2,416.1Q535.9,416.5 541.5,417.7M530.2,416.1Q534.4,419.7 539.1,422.6M530.2,416.1Q530.1,422.1 532,427.8M528.3,386.7Q529.1,381.4 531,376.3M528.3,386.7Q530.1,382.9 532.2,379.4M542,399Q546.6,398.5 550.5,395.9M542,399Q546.2,401.8 551,403.4M526.7,376.2Q522.5,373.3 520.1,368.8M526.7,376.2Q524.2,372.6 522.9,368.4M547.9,376.7Q549.6,374.2 550,371.2M547.9,376.7Q550.7,376.2 553.2,374.9M539.8,365.5Q538.7,362 537.3,358.6M539.8,365.5Q541,362 543.5,359.4M548,370.4Q550.5,368.1 553.7,366.7M548,370.4Q551.5,368.8 554.8,366.9M556.7,371.1Q559.5,369.5 562.7,369.1M556.7,371.1Q560.1,371.6 563.4,371.6M556.7,371.1Q559,373.4 562.1,374.4M552.3,358Q552.5,354.3 552,350.7M552.3,358Q553.8,355.3 554.2,352.1M553.2,381.1Q553.7,385.5 552.8,389.8M553.2,381.1Q551.8,384.8 550.3,388.5M563.4,378.6Q566,380.4 568.6,382.2M563.4,378.6Q565.1,380.9 566,383.5M557.2,380.7Q558,383.4 559.4,385.7M557.2,380.7Q557.1,383.6 557,386.4M549.4,434.5Q554.9,431.8 560.7,429.8M549.4,434.5Q555.1,436.1 561,435.3M540.6,419Q540.2,415.5 540.6,412M540.6,419Q542.6,416.6 545.2,414.8M562.4,418.9Q566.2,418.1 570.1,417.8M562.4,418.9Q566.3,420.2 570.3,419.5M551.7,402.5Q550,399.7 547.4,397.9M551.7,402.5Q551.6,398.7 551.2,394.9M555.4,397.6Q553.4,393.5 552.2,389M555.4,397.6Q555.9,393 555.7,388.4M563.9,402.1Q565.1,398.3 566.8,394.7M563.9,402.1Q567.2,400.3 571.1,399.9M572.3,408Q576.5,406.5 580.9,406.1M572.3,408Q575.4,409.3 578,411.4M571.8,400.8Q573.9,399.7 576.2,399.2M571.8,400.8Q574.3,400.9 576.8,400.4M571.1,416.7Q572.1,419.5 574.2,421.5M571.1,416.7Q570.6,419.1 571,421.5M579.5,414.8Q582.4,414.8 584.9,413.3M579.5,414.8Q581.2,416.6 582.8,418.6M570.8,417.7Q571.1,420.3 571.3,422.8M570.8,417.7Q569,419.9 567.5,422.3M451.4,412.8Q448.3,417.6 446.6,423M451.4,412.8Q446.5,414.1 442.7,417.5M474.1,421Q478.7,420.5 483,422M474.1,421Q477.7,423.9 480.7,427.4M449,423.8Q445.1,425.7 440.8,425.7M449,423.8Q445.3,422.1 442.4,419.4M459.1,446Q460.2,449.7 461.4,453.4M459.1,446Q458.2,449.3 457.1,452.6M443.1,444.7Q440.1,448.1 436.2,450.6M443.1,444.7Q439.6,445.4 436.3,446.8M447.2,455.5Q446,459.5 444.3,463.3M447.2,455.5Q444.2,457.4 441.9,460.1M444,451.5Q443,455.7 441.9,459.9M444,451.5Q441.1,453.3 438.8,456M436.3,459.1Q433.2,460.9 430.6,463.3M436.3,459.1Q432.6,458.3 429.1,456.9M448.8,474.7Q451.2,476.2 454,476.6M448.8,474.7Q450.2,477.4 451.8,480M434.5,480.1Q432.7,482.7 431.2,485.6M434.5,480.1Q431.8,481.3 429.4,483.2M437.8,489.6Q437.4,493.1 438.2,496.6M437.8,489.6Q435.5,492.1 434,495.2M435.2,487.1Q435.3,489.7 434.2,492.1M435.2,487.1Q433.7,489.7 432.5,492.4M477.4,432.4Q474.3,435.4 470.3,436.8M477.4,432.4Q473.5,433.6 470,435.7M494.4,444.1Q497.7,444.8 500.4,447M494.4,444.1Q496.7,446.6 498.7,449.4M471.1,458.3Q467.8,462.8 466.2,468.1M471.1,458.3Q466.7,459 462.3,460M489.7,469.5Q493.1,471.4 497,472M489.7,469.5Q492.4,472.4 495.2,475.1M478.6,478.4Q480.5,481.3 483,483.9M478.6,478.4Q479,483.1 479.5,487.7M469.8,473.6Q467.5,477.2 464.9,480.6M469.8,473.6Q466.3,475.5 462.7,477.2M465.1,488.3Q462.2,491.8 460.8,496.1M465.1,488.3Q461.2,490.3 457.5,492.8M477.1,496.7Q479.3,498.7 482.2,499.6M477.1,496.7Q477.6,499.5 476.9,502.3M461.8,500.3Q460.6,503.6 459.8,507M461.8,500.3Q458.4,502 454.9,503.5M461.8,500.3Q458,500 454.4,498.4M466.7,509.2Q466,512.6 466.5,516.1M466.7,509.2Q464.7,511.4 462.6,513.5M464.2,506.5Q463.2,508.7 462,511M464.2,506.5Q462.1,507.9 459.7,508.6M431.9,397.2Q431.1,400.9 428.9,404.1M431.9,397.2Q429.1,399.7 427,402.8M431.9,397.2Q428.3,397.8 424.6,398.5M445,408.2Q448.3,410 451.2,412.2M445,408.2Q446.3,410.6 447.4,413M424.8,414.9Q421.8,418.6 419.3,422.7M424.8,414.9Q420.4,415.7 416,415.5M432.4,427.7Q432.1,431.5 431.2,435.3M432.4,427.7Q430.7,430.1 428.9,432.4M427.4,423.8Q425.8,426.2 423.9,428.4M427.4,423.8Q425,425 422.4,425.3M494.1,451.1Q491.1,455.5 486.5,458.1M494.1,451.1Q489.9,452 485.5,452M511.5,464Q515.1,466.3 518,469.4M511.5,464Q514.1,467.9 515,472.5M511.5,464Q510.6,467.9 510.2,471.9M494,467.2Q494.1,470 495.1,472.5M494,467.2Q491.8,469.1 489.5,470.9M494,467.2Q491,467.1 488.1,466.7M503.9,481.2Q506.3,482.7 509.2,482.9M503.9,481.2Q505.1,484.1 505,487.3M496.4,488.6Q498.5,491.9 501.3,494.7M496.4,488.6Q496.2,492.2 497.6,495.5M487.7,482.6Q485.5,485.2 482.6,487M487.7,482.6Q484.8,483.9 482.4,486.1M487.7,482.6Q485.1,481.4 483.2,479.3M588.6,509.1Q588.1,512.5 586.4,515.4M588.6,509.1Q586.4,511.1 584,512.7M604.5,516.4Q607.9,516.8 611.1,515.6M604.5,516.4Q606.5,518.3 608.2,520.5M604.5,516.4Q604.6,519 604.8,521.6M590.6,524.2Q588.7,527.3 587.5,530.6M590.6,524.2Q588,526.2 585.5,528.4M601.6,529.2Q603,532.1 603.3,535.3M601.6,529.2Q601.8,532.3 601.5,535.4M595,528.3Q595,530.9 594.2,533.5M595,528.3Q593.6,530.4 593,532.9M589.1,483.9Q591.7,480.1 593.1,475.7M589.1,483.9Q593,484.3 596.9,483.9M589.1,483.9Q591.8,486.3 594,489.1M584.9,470.3Q585.3,467.4 584.3,464.6M584.9,470.3Q586.6,468.4 588.9,467.1M592.1,485.9Q593.5,488.3 595,490.6M592.1,485.9Q591,489.2 589.3,492.2M603.6,478.9Q607,477.6 609.7,475.2M603.6,478.9Q606.4,479.9 609.1,481.4M603.6,478.9Q605.2,481.8 606.6,484.8M599.6,484.5Q602.2,486.6 604.7,488.7M599.6,484.5Q599.8,487 598.8,489.3M559.4,513.4Q558,517.4 558.7,521.6M559.4,513.4Q555.4,516 550.8,517.1M580.8,503.5Q582.9,501 583.7,497.9M580.8,503.5Q584.5,502 587.8,500M574.2,520Q574.9,523.4 577.1,526.1M574.2,520Q572,522.5 569.4,524.7M591.3,516.6Q594.8,517.1 597.6,519.2M591.3,516.6Q593.1,518.7 595.4,520.4M589.3,518.5Q591.8,517.6 594.3,517.3M589.3,518.5Q592,519.5 594.7,520.7M589.3,518.5Q591.4,521.1 592.8,524.2M567.6,570.4Q569.8,574.8 571.5,579.4M567.6,570.4Q567.7,575.7 570.3,580.5M580,560.9Q582.9,559.1 585.3,556.8M580,560.9Q583.7,560.6 587.1,559.1M580,560.9Q582.7,561.6 585.4,562.4M569.8,579.7Q569,584.6 570.2,589.5M569.8,579.7Q567.2,582.9 563.5,584.8M588.5,571.5Q592.7,570 596.2,567.4M588.5,571.5Q592.1,572.9 595.5,574.5M588.5,571.5Q590.1,575.5 593.2,578.6M581.8,583.4Q583.3,586 585.3,588.2M581.8,583.4Q581.6,586.9 582,590.2M592.3,581.4Q595.9,582.2 599.4,582.6M592.3,581.4Q595,584.2 598.5,585.9M582.9,586.2Q583.5,589.7 582.3,593.1M582.9,586.2Q581.8,589.7 579.8,593M538.5,542.5Q536.7,545.7 534.3,548.6M538.5,542.5Q535.8,543.3 533.7,544.9M551.6,551.5Q554.2,552.6 556.6,554.2M551.6,551.5Q554.2,553.9 557,556.2M551.6,551.5Q552,555 553.4,558.2M536.1,557.2Q534.5,559.8 534.1,562.9M536.1,557.2Q533.7,558.3 531.4,559.6M548.7,572.5Q552.3,575.4 556.2,577.8M548.7,572.5Q549.9,576.9 549.3,581.4M536.9,576.1Q536.1,579.4 534.5,582.4M536.9,576.1Q534.4,578.9 532,581.7M533.3,572.8Q531.4,575.4 529,577.4M533.3,572.8Q530.4,574.4 527.9,576.5M575.4,552.7Q577.7,554.7 580,556.8M575.4,552.7Q576.1,555.5 576.7,558.3M588,543.9Q589,539.9 591.8,536.9M588,543.9Q591.2,542.6 594.2,540.9M588,543.9Q592.3,545.2 596.7,544.8M586.5,560.6Q588.5,562.4 591.2,563.2M586.5,560.6Q587.3,562.8 588,565.1M595.5,564.3Q597.8,565.7 600.1,567.2M595.5,564.3Q596.9,567 597.8,570.1M591.6,565.9Q594,567.4 596.1,569.1M591.6,565.9Q592.3,568.4 592.4,571M478.8,526.4Q476,528.3 473.1,529.9M478.8,526.4Q476,527.6 473.3,529.2M489.5,538.3Q491.4,541.8 493.9,544.8M489.5,538.3Q489.9,542.4 489.7,546.6M475.8,542.3Q475.4,546.7 476,551.1M475.8,542.3Q472.6,545 469,546.9M475.8,542.3Q471.6,542.8 467.5,543.6M497.5,547.4Q502.1,546.3 506.1,543.8M497.5,547.4Q501.3,550.1 505.8,551.6M492.2,554.9Q495,556.7 498.2,557.6M492.2,554.9Q493.6,558.6 494.4,562.5M484.5,555.5Q484.6,558.5 485.6,561.4M484.5,555.5Q483.4,558.1 482.1,560.5M505.7,530.7Q503.9,534.6 501.1,537.7M505.7,530.7Q502.2,533 499.3,535.9M525.9,532.9Q529,533.9 532.2,534.9M525.9,532.9Q528.7,535.4 531.1,538.2M513.2,547.4Q512.8,551.8 512.6,556.2M513.2,547.4Q511.5,551 510.8,554.9M527.2,551.5Q530.8,551.9 534.4,552.6M527.2,551.5Q530.2,553.4 533.7,554.4M527.2,551.5Q528,554.9 527.5,558.3M522.4,557.7Q524.9,559.9 528.1,561M522.4,557.7Q523.7,561.4 525.4,564.9M511.7,554.9Q509.6,557.7 506.4,559.4M511.7,554.9Q508.5,556.7 505.6,559M511.7,554.9Q508.7,554.8 505.7,554.1M523.7,518.7Q522,523 521.4,527.7M523.7,518.7Q520.1,519.7 516.3,519.5M543.1,525.2Q546.1,527.2 549,529.3M543.1,525.2Q544.3,528.4 545.7,531.5M532.9,537.6Q532.2,541.3 531.5,545M532.9,537.6Q530.5,540.4 527.6,542.8M548.1,539.3Q551,539.5 553.7,538.5M548.1,539.3Q550,541.3 551.3,543.7M538.4,542.4Q537.7,545.4 536.4,548.2M538.4,542.4Q536,544.8 534.2,547.7" stroke="#ccf0ff" stroke-width="0.8" opacity="0.46"/><path d="M462.6,361.8Q471.3,360.5 479.8,358.9M466.5,354.7Q464.1,348.4 465,341.7M470,344.5Q475.7,341.2 480.8,337M471,336.8Q463.6,332.5 455.8,329.1M470.6,329.5Q475.9,325.4 481.4,321.7M470,326Q466.5,320.2 460.8,316.7M470,326Q471.2,320.1 472.6,314.3M470,326C468,312 474,300 480,288M470.6,311.4Q475.4,306.9 481.1,303.7M472,306.4Q468.7,302.6 464.7,299.6M473.9,300.9Q480.6,298.6 486.7,295.2M476.8,294.5Q475.3,290.2 473.3,286.1M479.3,289.4Q484.5,287.9 489.5,286M480,288Q480.7,282.2 480.3,276.3M480,288Q484,284.6 488.6,282.2M472,340C486,334 496,322 494,306M486,330.5Q492.2,330.7 498.5,330.5M489.8,325.5Q489.3,319.3 491.7,313.6M492.4,320.2Q498.6,317.5 505.4,316.8M494.2,309.5Q490.2,304.9 486.3,300.1M494,306Q491.5,300.7 491,294.9M494,306Q495.6,301 495.3,295.8M466,352C456,344 450,330 452,314M457,341.2Q459.5,335.7 463.7,331.4M453.8,334Q448.6,332.6 443.3,333.6M452,326.3Q455.4,321.6 460.5,318.8M451.8,316.2Q448.8,312.2 446.4,307.7M452,314Q450.7,308.8 448.9,303.7M452,314Q454.3,309.8 456.2,305.4M494,306C500,298 498,290 490,282M497.4,295Q501,290.9 505.5,288M496.7,291.8Q493.1,290.9 489.8,289.7M492.7,284.9Q494.3,279.9 496.9,275.3M490,282Q486,280 481.6,278.8M490,282Q488.6,278.3 488.1,274.3M495.2,382Q501.7,382.2 508.1,383.6M499.7,376.2Q497.9,370.2 496.3,364.1M504.4,367Q512,365.5 519.5,363.7M506,361.3Q502.2,357.1 500.9,351.6M506.6,350.1Q513,344.1 521.2,341M506,346Q502.7,340.1 498.6,334.8M506,346Q507.4,340.2 508.8,334.3M506,346C504,334 512,326 520,322M506.5,336.7Q510.7,334.3 515.4,332.8M509.4,330.7Q508.4,325.5 509.7,320.4M512,327.7Q516.9,327.2 521.6,325.7M517.2,323.6Q517.4,319.1 515.5,315M520,322Q523.6,318 526.2,313.3M520,322Q524.8,321.6 529.4,323M504,372C520,370 530,360 534,346M517.6,367.7Q524.4,369.4 531.3,369.2M525.1,362Q524.7,357.5 522.5,353.6M528.1,358.3Q532.6,357 537.2,356M533.4,347.8Q529.9,341.9 527.4,335.5M534,346Q533.7,340.6 532.4,335.4M534,346Q537.1,342.3 538.3,337.7M517.5,405.9Q524.7,410 530.2,416.1M524.8,401.2Q526.3,393.9 528.3,386.7M528.9,397.6Q535.6,397.2 542,399M536.2,388.1Q532.3,381.5 526.7,376.2M539,381.6Q543.4,379 547.9,376.7M540,378Q539.4,371.7 539.8,365.5M540,378Q543.4,373.5 548,370.4M540,378C544,368 552,364 556,372M545.7,369.6Q551.2,370.7 556.7,371.1M549.1,367.9Q551,363 552.3,358M554.7,370Q553.7,375.5 553.2,381.1M556,372Q559.7,375.2 563.4,378.6M556,372Q556.5,376.4 557.2,380.7M533.1,432.3Q541,435.3 549.4,434.5M538.4,429.7Q538.7,424.2 540.6,419M549.5,420.1Q555.8,418.3 562.4,418.9M554.3,413.1Q552.6,407.9 551.7,402.5M556,410Q556.8,403.8 555.4,397.6M556,410Q560.3,406.4 563.9,402.1M556,410C562,402 568,402 572,410M560.7,405.3Q566.4,407.1 572.3,408M565.5,404.1Q568.3,401.8 571.8,400.8M571.3,408.8Q570.8,412.7 571.1,416.7M572,410Q575.3,413 579.5,414.8M572,410Q572.4,414 570.8,417.7M464.1,404.4Q458.1,409.1 451.4,412.8M462,415.3Q467.4,419.6 474.1,421M460.7,422.2Q455,424.2 449,423.8M457.2,434.5Q459.3,440.1 459.1,446M454.1,440.8Q448.3,441.8 443.1,444.7M452,444Q450.4,450.1 447.2,455.5M452,444Q447.3,447 444,451.5M452,444C444,454 446,468 440,480M446.5,455.9Q441.5,457.9 436.3,459.1M443.9,467.9Q446.4,471.2 448.8,474.7M441.9,475.4Q437.8,477.1 434.5,480.1M440,480Q439.6,484.9 437.8,489.6M440,480Q436.7,482.9 435.2,487.1M487.9,425.9Q482.6,429.1 477.4,432.4M486,437.2Q490,440.8 494.4,444.1M483.8,449.7Q477.7,454.4 471.1,458.3M480.4,460.9Q484.5,465.9 489.7,469.5M478,466Q477.2,472.2 478.6,478.4M478,466Q473.7,469.6 469.8,473.6M478,466C472,478 476,490 470,500M474.3,480.3Q469.7,484.3 465.1,488.3M473.4,489.5Q475.2,493.1 477.1,496.7M471.8,496.3Q466.5,497.7 461.8,500.3M470,500Q469.2,504.9 466.7,509.2M470,500Q466.5,502.7 464.2,506.5M446,372C438,388 440,404 434,418M440,391.2Q435.3,393.3 431.9,397.2M438.4,401.3Q441.8,404.7 445,408.2M436.7,409.7Q430.5,411.7 424.8,414.9M434,418Q433.8,422.9 432.4,427.7M434,418Q430.9,421.1 427.4,423.8M512,430C502,446 504,464 496,478M506,443.8Q499.8,447 494.1,451.1M503.5,453.4Q508.6,457.9 511.5,464M501.5,462.7Q497.4,464.3 494,467.2M498.4,473Q500.3,477.7 503.9,481.2M496,478Q495.2,483.3 496.4,488.6M496,478Q492.3,481 487.7,482.6M586,494C594,498 598,508 598,520M592.7,499.9Q590.4,504.4 588.6,509.1M597.1,510.8Q601,513.4 604.5,516.4M597.8,515.6Q594.5,520.1 590.6,524.2M598,520Q599.8,524.6 601.6,529.2M598,520Q596.3,524.1 595,528.3M570,490C578,480 586,476 594,478M576.6,483.1Q582.8,484.2 589.1,483.9M582.5,479.3Q583,474.6 584.9,470.3M590,477.5Q592,481.5 592.1,485.9M594,478Q598.9,477.3 603.6,478.9M594,478Q597.6,480.5 599.6,484.5M556,489C562,502 572,510 582,514M564.7,502.1Q563.2,508.3 559.4,513.4M571.3,508Q576.6,506.9 580.8,503.5M575.5,510.8Q575.5,515.5 574.2,520M582,514Q586.9,514.2 591.3,516.6M582,514Q585.1,517.1 589.3,518.5M567.2,555.9Q565.6,563.2 567.6,570.4M570.2,560.4Q575.1,561.4 580,560.9M574.1,565.9Q572.8,573.1 569.8,579.7M576.5,569.1Q582.7,569.2 588.5,571.5M580.4,574Q580.5,578.8 581.8,583.4M582,576Q587,579 592.3,581.4M582,576Q583.4,581 582.9,586.2M552,524C544,538 546,554 540,566M546.9,537.5Q542.2,539.1 538.5,542.5M545.5,544.2Q548.4,547.9 551.6,551.5M544.1,552.3Q539.6,553.9 536.1,557.2M542,561.1Q544.8,567.1 548.7,572.5M540,566Q539.5,571.4 536.9,576.1M540,566Q536.4,569.2 533.3,572.8M558,538C570,540 580,548 588,558M572.6,543.7Q573,548.5 575.4,552.7M577.3,547.1Q583,546.8 588,543.9M583.6,553Q584.1,557.1 586.5,560.6M588,558Q592.3,560.5 595.5,564.3M588,558Q589.2,562.2 591.6,565.9M495,514C486,520 482,532 486,546M487.7,522.1Q483,523.9 478.8,526.4M485.2,528.6Q488.2,533.1 489.5,538.3M484.5,534.8Q480,538.4 475.8,542.3M485.1,542.4Q491,545.7 497.5,547.4M486,546Q489.1,550.4 492.2,554.9M486,546Q485.3,550.8 484.5,555.5M511,505C512,520 520,532 518,548M514.1,520.6Q509.6,525.5 505.7,530.7M515.9,527.2Q520.9,530 525.9,532.9M517.9,537.1Q514.4,541.7 513.2,547.4M518.3,542.9Q522.1,547.8 527.2,551.5M518,548Q519.3,553.2 522.4,557.7M518,548Q515.7,552.2 511.7,554.9M524,494C534,506 534,522 540,534M532,509.2Q528.2,514.2 523.7,518.7M535.1,519.8Q539.8,521.5 543.1,525.2M537.6,528.2Q535.2,532.9 532.9,537.6M540,534Q543.5,537.5 548.1,539.3M540,534Q540.2,538.4 538.4,542.4" stroke="#bfecff" stroke-width="1.5" opacity="0.72"/><path d="M452,376C466,360 474,344 470,326M480,394C498,384 510,366 506,346M500,412C520,408 536,396 540,378M514,436C534,436 548,426 556,410M470,388C460,406 464,428 452,444M494,408C484,426 488,448 478,466M561,544C566,556 574,566 582,576" stroke="#b8e9ff" stroke-width="2.6" opacity="0.82"/></g></g>
<g clip-path="url(#clipL)"><path d="M392,320 L390.4,322.7 L388.2,326.6 L385.6,331.1 L382.8,335.4 L380.1,339.2 L377.3,342.6 L374.4,345.9 L371.3,349 L368.1,352 L364.8,354.8 L361.4,357.3 L357.9,359.7 L354.2,362.2 L350,365 L345.3,368.1 L340.2,371.5 L334.9,375 L329.5,378.6 L324.3,382.2 L318.9,385.9 L313.6,389.7 L308.3,393.6 L303.5,397.6 L299.2,401.8 L295.2,406.2 L291.6,410.7 L288.3,415.3 L285,420 L281.9,424.8 L279,429.8 L276.3,434.8 L273.7,439.7 L271.2,444.6 L269,449.4 L266.9,454.1 L264.8,458.8 L262.7,463.5 L260.5,468 L258.1,472.5 L255.6,477 L253.2,481.5 L251,486 L249,490.6 L247.1,495.3 L245.3,500 L243.4,504.7 L241.3,509.7 L238.9,515 L236.4,520.5 L233.9,525.8 L231.7,530.6 L229.7,534.6 L227.9,538.3 L226.3,541.5 L225,544.1 L224,546" fill="none" stroke="#bfeeff" stroke-width="13" opacity=".28" stroke-linecap="round" filter="url(#b3)"/><path d="M376.4,331.1 L372.7,336 L368.7,340.6 L364.2,345.1 L359.6,349 L354.6,352.7 L349,356.4 L343.3,360.2 L337.7,363.8 L332,367.5 L326.3,371.4 L320.7,375.3 L315.2,379.1 L309.6,383.2 L304.1,387.5 L298.5,392.4 L293.5,397.7 L288.9,403.2 L284.6,409 L280.8,414.8 L277.1,420.8 L273.6,426.9 L270.5,433.1 L267.5,439.3 L264.6,445.7 L262,452 L259.5,458.2 L256.9,464.2 L254,470.1 L250.9,476.2 L247.9,482.4 L245.2,488.9 L242.8,495.4 L240.5,501.7 L238.1,507.9 L235.5,514.1 L232.9,520.3 L230.2,526.5 L227.5,532.7 L224.7,538.8 L221.8,544.9 L226.2,547.1 L229.5,541.2 L232.7,535.2 L235.8,529.1 L238.8,523 L241.8,516.9 L244.7,510.8 L247.6,504.5 L250.2,498.3 L252.9,492.2 L255.7,486.3 L258.9,480.5 L262.3,474.7 L265.7,468.6 L268.9,462.4 L271.8,456.2 L274.6,450.2 L277.7,444.4 L280.9,438.6 L284.2,432.8 L287.7,427.4 L291.4,422.1 L295.3,416.8 L299.4,411.9 L303.7,407.2 L308.3,403 L313.1,399.2 L318.4,395.5 L324,391.9 L329.6,388 L335,384.2 L340.6,380.5 L346.2,376.8 L351.9,373 L357.5,369.3 L363.2,365.5 L369.1,361.3 L374.8,356.4 L379.9,351.3 L384.7,345.8 L389.2,339.9Z" fill="#1f7299" fill-opacity="0.7"/><path d="M375.3,332.7Q379.6,339.9 387.8,341.9M372.7,336Q376.7,343.3 384.8,345.8M370,339.1Q373.7,346.7 381.6,349.4M367.2,342.2Q370.5,349.9 378.3,353M364.2,345.1Q367.2,352.9 374.8,356.4M361.2,347.8Q363.7,355.8 371.2,359.6M358,350.3Q360.1,358.4 367.3,362.7M354.6,352.6Q356.3,360.8 363.3,365.5M350.9,355.1Q352.5,363.3 359.4,368M347.1,357.6Q348.8,365.8 355.7,370.5M343.4,360.1Q345,368.3 352,373M339.7,362.5Q341.3,370.8 348.2,375.5M336,365Q337.5,373.2 344.4,378M332.2,367.5Q333.7,375.7 340.7,380.4M328.4,370Q330,378.2 337,382.9M324.5,372.6Q326.3,380.8 333.3,385.3M320.8,375.2Q322.6,383.4 329.7,387.9M317.1,377.7Q318.9,385.9 326,390.5M313.5,380.3Q315.2,388.5 322.2,393M309.8,383.1Q311.6,391.1 318.6,395.4M306.1,385.9Q308,393.8 315,397.9M302.4,388.9Q304.5,396.7 311.5,400.4M298.8,392.1Q301.1,399.7 308.3,403M295.2,395.7Q298.1,403 305.3,405.6M292,399.3Q295.1,406.3 302.4,408.6M289,403Q292.2,409.8 299.5,411.7M286.1,406.9Q289.6,413.5 296.8,414.9M283.5,410.7Q287,417.1 294.2,418.3M280.9,414.5Q284.4,420.8 291.5,421.9M278.4,418.5Q282,424.6 289,425.4M276,422.5Q279.7,428.5 286.6,428.9M273.8,426.6Q277.5,432.4 284.3,432.6M271.7,430.8Q275.4,436.4 282.1,436.4M269.6,434.9Q273.3,440.4 280,440.2M267.7,439Q271.3,444.4 277.8,444.1M265.7,443.2Q269.3,448.5 275.7,448M263.9,447.4Q267.5,452.6 273.8,451.9M262.1,451.7Q265.8,456.7 271.9,455.9M260.5,455.8Q264,460.8 270,460M258.8,459.9Q262.1,464.9 268,464.2M257,463.9Q260,468.9 265.9,468.3M255.1,467.8Q257.9,472.9 263.6,472.4M253.1,471.8Q255.7,476.8 261.4,476.3M251.1,475.8Q253.6,480.8 259.1,480.2M249,479.9Q251.5,484.8 256.9,484M247.1,484.1Q249.6,488.9 254.9,487.9M245.3,488.5Q247.9,493.1 253.1,491.8M243.7,492.8Q246.3,497.3 251.3,495.8M242.2,497Q244.7,501.5 249.5,499.9M240.7,501.3Q243,505.6 247.8,504.1M239.1,505.4Q241.2,509.8 245.9,508.3M237.4,509.5Q239.4,513.9 244,512.4M235.7,513.6Q237.5,518 242,516.5M234,517.8Q235.7,522.1 240,520.5M232.2,521.9Q233.8,526.1 238,524.6M230.4,526Q231.9,530.2 236,528.6M228.6,530.1Q229.9,534.3 234,532.7M226.8,534.2Q227.9,538.3 231.9,536.7M224.9,538.2Q225.9,542.3 229.7,540.7M223,542.3Q223.8,546.3 227.6,544.7" fill="none" stroke="#e9faff" stroke-width="3.0" stroke-linecap="butt"/><path d="M383.8,336.2 L379.7,341.7 L375.2,346.8 L370.3,351.6 L365.1,356.1 L359.6,360.1 L353.9,363.9 L348.3,367.6 L342.7,371.4 L337,375.1 L331.4,378.8 L325.8,382.6 L320.3,386.5 L314.7,390.3 L309.3,394.3 L304.2,398.6 L299.4,403.2 L295,408.2 L290.8,413.5 L286.9,419 L283.2,424.6 L279.8,430.4 L276.5,436.3 L273.4,442.3 L270.4,448.3 L267.7,454.5 L264.9,460.6 L262,466.8 L258.8,472.8 L255.5,478.7 L252.4,484.7 L249.6,490.8 L247.1,497 L244.6,503.3 L241.9,509.6 L239.2,515.7 L236.3,521.9 L233.4,528 L230.5,534.1 L227.5,540.2 L224.4,546.2 L226.2,547.1 L229.5,541.2 L232.7,535.2 L235.8,529.1 L238.8,523 L241.8,516.9 L244.7,510.8 L247.6,504.5 L250.2,498.3 L252.9,492.2 L255.7,486.3 L258.9,480.5 L262.3,474.7 L265.7,468.6 L268.9,462.4 L271.8,456.2 L274.6,450.2 L277.7,444.4 L280.9,438.6 L284.2,432.8 L287.7,427.4 L291.4,422.1 L295.3,416.8 L299.4,411.9 L303.7,407.2 L308.3,403 L313.1,399.2 L318.4,395.5 L324,391.9 L329.6,388 L335,384.2 L340.6,380.5 L346.2,376.8 L351.9,373 L357.5,369.3 L363.2,365.5 L369.1,361.3 L374.8,356.4 L379.9,351.3 L384.7,345.8 L389.2,339.9Z" fill="#49b8ec" opacity="0.42"/><path d="M251.4,482.3 L250.3,482.6 L249.1,482.9 L248,483.2 L246.9,483.5 L245.8,483.8 L244.7,484.1 L243.6,484.4 L242.5,484.7 L241.4,485 L240.3,485.3 L239.2,485.5 L238.1,485.8 L237,486 L235.9,486.3 L234.8,486.5 L233.7,486.6 L232.6,486.8 L231.5,486.9 L230.4,487 L229.3,487.2 L228.1,487.3 L227,487.4 L225.8,487.5 L224.6,487.6 L223.5,487.8 L222.3,488 L221.1,488.2 L219.9,488.5 L218.8,488.8 L217.6,489.1 L216.5,489.4 L215.4,489.8 L214.3,490.2 L213.2,490.5 L212.1,490.9 L211,491.3 L209.9,491.7 L208.8,492.1 L207.7,492.4 L206.6,492.8 L207.4,495.2 L208.5,494.9 L209.6,494.6 L210.7,494.3 L211.8,494 L212.9,493.6 L214,493.3 L215.1,493.1 L216.2,492.8 L217.3,492.5 L218.4,492.3 L219.5,492 L220.6,491.8 L221.7,491.6 L222.8,491.5 L223.9,491.4 L225,491.3 L226.1,491.3 L227.2,491.2 L228.4,491.2 L229.5,491.2 L230.7,491.1 L231.9,491.1 L233.1,491 L234.2,490.9 L235.4,490.8 L236.6,490.6 L237.8,490.5 L239,490.3 L240.1,490.1 L241.3,489.9 L242.4,489.7 L243.6,489.5 L244.7,489.3 L245.9,489 L247,488.8 L248.1,488.6 L249.2,488.4 L250.4,488.1 L251.5,487.9 L252.6,487.7Z" fill="#1f7299" fill-opacity="0.45"/><path d="M249.4,482.8Q248.9,485.7 250.7,488.1M245.6,483.9Q245,486.6 246.7,488.9M241.7,484.9Q241.1,487.5 242.8,489.6M237.9,485.8Q237.2,488.3 238.8,490.3M234.1,486.6Q233.2,488.9 234.7,490.9M230.3,487.1Q229.2,489.2 230.5,491.1M226.3,487.5Q225.2,489.4 226.6,491.2M222.2,488Q221.3,489.9 222.7,491.5M218.1,489Q217.4,490.8 218.9,492.1M214.2,490.2Q213.5,491.9 215.1,493.1M210.4,491.5Q209.7,493.2 211.3,494.1M206.7,492.8Q205.9,494.3 207.4,495.2" fill="none" stroke="#e9faff" stroke-width="2.5" stroke-linecap="butt"/><path d="M258.3,468.2 L258.4,469.6 L258.5,471 L258.6,472.4 L258.7,473.8 L258.8,475.2 L258.9,476.7 L259,478.1 L259.2,479.6 L259.4,481 L259.6,482.5 L259.9,484 L260.2,485.5 L260.6,487 L261.2,488.4 L261.7,489.8 L262.4,491.3 L263.2,492.6 L264,493.9 L264.9,495.2 L265.8,496.3 L266.8,497.5 L267.8,498.6 L268.9,499.6 L270,500.6 L271.1,501.6 L272.2,502.5 L273.4,503.4 L274.6,504.3 L275.8,505 L277,505.8 L278.3,506.6 L279.5,507.3 L280.7,508.1 L282,508.8 L283.2,509.5 L284.4,510.2 L285.7,510.9 L286.9,511.6 L288.1,512.3 L289.3,513.1 L290.7,510.9 L289.5,510.1 L288.3,509.4 L287.1,508.6 L285.9,507.8 L284.7,507.1 L283.5,506.3 L282.3,505.5 L281.2,504.7 L280,503.9 L278.9,503.1 L277.7,502.3 L276.6,501.5 L275.5,500.6 L274.5,499.8 L273.5,498.9 L272.5,497.9 L271.5,496.9 L270.6,496 L269.8,494.9 L268.9,493.9 L268.2,492.8 L267.5,491.7 L266.9,490.5 L266.3,489.3 L265.8,488.2 L265.3,486.9 L265,485.7 L264.7,484.5 L264.5,483.2 L264.3,481.8 L264.2,480.5 L264.1,479.1 L264,477.8 L263.9,476.4 L263.9,475 L263.9,473.6 L263.9,472.1 L263.8,470.7 L263.8,469.3 L263.7,467.8Z" fill="#1f7299" fill-opacity="0.45"/><path d="M258.4,470.1Q261.2,471.2 263.8,469.9M258.7,474.1Q261.4,475.2 263.9,473.9M259,478.2Q261.6,479.2 264,477.8M259.6,482.3Q262.1,483.2 264.3,481.6M260.5,486.5Q263,487 264.8,485.2M262.1,490.5Q264.5,490.7 266,488.7M264.3,494.3Q266.6,494.1 267.7,492M266.9,497.6Q269.2,497.2 269.9,495.1M269.9,500.6Q272,500 272.4,497.9M273.1,503.2Q275.1,502.6 275.3,500.4M276.5,505.5Q278.4,504.8 278.4,502.8M280,507.6Q281.8,507 281.6,505M283.4,509.7Q285.2,509.1 284.9,507.2M286.9,511.6Q288.6,511.1 288.3,509.4" fill="none" stroke="#e9faff" stroke-width="2.5" stroke-linecap="butt"/></g>
<g clip-path="url(#clipR)"><path d="M400,320 L401.5,322.2 L403.5,325.3 L405.9,328.9 L408.4,332.6 L410.7,336.1 L412.7,339.7 L414.7,343.2 L417,346.9 L419.8,350.7 L423.6,354.6 L428.3,358.8 L433.4,363 L438.8,367.2 L444,371 L449.1,374.4 L454.2,377.6 L459.4,380.6 L464.6,383.7 L469.7,387.2 L475.1,390.9 L480.5,394.7 L485.7,398.6 L490.5,402.6 L494.8,406.7 L498.6,411 L502,415.3 L505.1,419.6 L508,424 L510.6,428.4 L512.8,432.9 L514.7,437.5 L516.7,442 L518.7,446.5 L520.6,451 L522.6,455.6 L524.5,460.1 L526.4,464.5 L528.3,468.9 L530.2,473 L532.1,477.1 L534,481.4 L536,486 L538.1,491.1 L540.3,496.7 L542.5,502.3 L544.6,507.7 L546.7,512.6 L548.7,517 L550.8,521.2 L552.7,525.1 L554.5,528.8 L556.1,532.4 L557.6,535.9 L559,539.2 L560.2,542 L561,544" fill="none" stroke="#bfeeff" stroke-width="13" opacity=".28" stroke-linecap="round" filter="url(#b3)"/><path d="M403.5,339.2 L406.5,344.4 L410.1,350.7 L415,356.9 L420.3,362.1 L425.6,366.6 L430.9,370.9 L436.4,375 L442,379.1 L448,382.8 L453.8,386.3 L459.3,389.6 L464.5,393 L470.1,396.6 L475.5,400.2 L480.7,403.9 L485.7,407.7 L490.1,411.7 L494.3,416.2 L498.2,421 L501.9,426.1 L505.2,431.2 L508.1,436.8 L510.8,442.8 L513.7,448.8 L516.5,454.8 L519.2,460.8 L522,466.9 L524.9,473 L527.9,478.9 L530.7,484.8 L533.4,490.8 L536,496.8 L538.6,502.9 L541.3,509.1 L544.1,515.2 L547.2,521.2 L550.2,527.1 L553.2,533 L556,538.9 L558.7,545 L563.3,543 L560.9,536.8 L558.4,530.6 L555.8,524.4 L553,518.4 L550.4,512.4 L548,506.3 L545.7,500.2 L543.5,493.9 L541.2,487.6 L538.8,481.3 L536.2,475.1 L533.6,469 L531.1,463 L528.7,456.8 L526.3,450.6 L523.8,444.4 L521.3,438.3 L518.8,432.1 L516,425.7 L512.5,419.4 L508.7,413.5 L504.5,407.8 L500,402.4 L494.9,397.1 L489.6,392.5 L484.1,388.2 L478.7,384.2 L473.3,380.3 L467.5,376.4 L461.6,372.9 L456,369.6 L450.7,366.2 L445.6,362.5 L440.4,358.6 L435.4,354.7 L430.6,350.5 L426.5,346.5 L423.1,342.2 L420.1,337 L416.5,330.7Z" fill="#1f7299" fill-opacity="0.7"/><path d="M404.5,340.8Q412.8,339.6 417.8,332.9M406.5,344.5Q414.9,343.6 420.2,337.1M408.9,348.8Q417.2,347.5 422.2,340.7M411.9,353.2Q420,351 424.2,343.8M415.2,357.1Q423.1,354.3 426.7,346.7M418.9,360.8Q426.5,357.3 429.4,349.4M422.4,364Q429.9,360.2 432.6,352.2M426,367Q433.4,363 435.8,355M429.7,369.9Q437,365.8 439.2,357.7M433.3,372.7Q440.6,368.5 442.7,360.4M437,375.5Q444.2,371.2 446.2,363M440.8,378.2Q447.9,373.7 449.7,365.6M444.8,380.9Q451.7,376.1 453.2,367.9M448.9,383.4Q455.6,378.4 456.8,370.1M452.8,385.7Q459.5,380.6 460.6,372.3M456.6,388Q463.3,382.9 464.6,374.6M460.3,390.2Q467.1,385.3 468.5,377.1M463.8,392.5Q470.8,387.9 472.6,379.7M467.6,395Q474.5,390.5 476.2,382.4M471.3,397.4Q478.2,393.1 479.9,385.1M475,399.8Q481.9,395.7 483.6,387.8M478.6,402.3Q485.5,398.4 487.3,390.7M482,404.8Q489,401.2 490.9,393.7M485.3,407.4Q492.3,404.2 494.5,396.8M488.4,410.1Q495.5,407.4 498,400.3M491.3,413Q498.5,410.8 501.4,403.9M494.2,416.1Q501.3,414.3 504.4,407.6M496.8,419.2Q504,417.9 507.3,411.5M499.5,422.7Q506.5,421.6 509.9,415.4M501.9,426.1Q508.9,425.4 512.5,419.4M504.2,429.6Q511.1,429.4 514.9,423.5M506.3,433.2Q513,433.5 517,428M508.2,437Q514.8,437.6 518.9,432.3M510,441Q516.6,441.7 520.6,436.5M511.9,445.2Q518.4,445.9 522.2,440.7M513.9,449.3Q520.2,450 523.9,444.8M515.8,453.3Q522,454.1 525.6,449.1M517.6,457.3Q523.7,458.3 527.3,453.3M519.5,461.4Q525.4,462.4 528.9,457.5M521.4,465.6Q527.2,466.5 530.5,461.6M523.3,469.7Q529.1,470.6 532.2,465.7M525.3,473.8Q531,474.7 533.9,469.8M527.3,477.8Q532.8,478.8 535.7,474M529.3,481.8Q534.7,482.9 537.5,478.2M531.2,485.8Q536.5,487.1 539.2,482.4M533,489.9Q538.1,491.2 540.8,486.7M534.8,493.9Q539.8,495.4 542.4,490.9M536.6,498.1Q541.4,499.6 543.9,495.2M538.3,502.2Q543,503.8 545.5,499.4M540.1,506.4Q544.7,508 547,503.6M541.9,510.6Q546.5,512.1 548.5,507.8M543.9,514.7Q548.3,516.2 550.2,511.9M545.9,518.8Q550.3,520.3 551.9,516M548,522.9Q552.3,524.3 553.7,520M550.1,526.8Q554.3,528.4 555.6,524.1M552.1,530.8Q556.1,532.5 557.5,528.3M554,534.8Q557.9,536.6 559.2,532.5M555.9,538.8Q559.6,540.7 560.9,536.7M557.8,542.9Q561.4,544.9 562.5,541" fill="none" stroke="#e9faff" stroke-width="3.0" stroke-linecap="butt"/><path d="M408.9,335.7 L412.2,341.3 L415.6,347.1 L419.8,352.5 L424.6,357.2 L429.7,361.6 L434.9,365.8 L440.2,369.8 L445.7,373.7 L451.3,377.3 L457.1,380.7 L462.7,384 L468.2,387.7 L473.7,391.4 L479.1,395.2 L484.4,399.1 L489.5,403.3 L494.2,407.8 L498.6,412.7 L502.6,417.9 L506.4,423.3 L509.7,428.9 L512.6,434.8 L515.2,440.9 L517.9,447 L520.6,453 L523.2,459.1 L525.8,465.2 L528.6,471.3 L531.4,477.3 L534.1,483.4 L536.7,489.4 L539.2,495.6 L541.6,501.8 L544.1,507.9 L546.7,514 L549.6,520 L552.6,526 L555.4,532 L558,538 L560.6,544.2 L558.7,545 L556,538.9 L553.2,533 L550.2,527.1 L547.2,521.2 L544.1,515.2 L541.3,509.1 L538.6,502.9 L536,496.8 L533.4,490.8 L530.7,484.8 L527.9,478.9 L524.9,473 L522,466.9 L519.2,460.8 L516.5,454.8 L513.7,448.8 L510.8,442.8 L508.1,436.8 L505.2,431.2 L501.9,426.1 L498.2,421 L494.3,416.2 L490.1,411.7 L485.7,407.7 L480.7,403.9 L475.5,400.2 L470.1,396.6 L464.5,393 L459.3,389.6 L453.8,386.3 L448,382.8 L442,379.1 L436.4,375 L430.9,370.9 L425.6,366.6 L420.3,362.1 L415,356.9 L410.1,350.7 L406.5,344.4 L403.5,339.2Z" fill="#49b8ec" opacity="0.42"/><path d="M534.2,485.6 L535.4,486 L536.7,486.3 L537.9,486.7 L539.2,487.1 L540.4,487.5 L541.7,487.8 L543,488.2 L544.3,488.5 L545.6,488.9 L546.9,489.2 L548.2,489.5 L549.5,489.8 L550.8,490.1 L552.2,490.3 L553.5,490.5 L554.9,490.6 L556.2,490.8 L557.6,490.9 L558.9,490.9 L560.2,491 L561.5,491.1 L562.8,491.1 L564.1,491.2 L565.4,491.3 L566.7,491.4 L568,491.5 L569.2,491.6 L570.5,491.8 L571.7,492 L573,492.3 L574.2,492.5 L575.5,492.8 L576.8,493.1 L578,493.4 L579.3,493.7 L580.6,494 L581.8,494.3 L583.1,494.6 L584.4,494.9 L585.7,495.2 L586.3,492.8 L585.1,492.4 L583.8,492 L582.6,491.7 L581.3,491.3 L580.1,490.9 L578.8,490.5 L577.5,490.1 L576.3,489.8 L575,489.4 L573.7,489.1 L572.4,488.8 L571.1,488.5 L569.8,488.2 L568.4,488 L567.1,487.8 L565.8,487.6 L564.5,487.4 L563.1,487.3 L561.8,487.2 L560.5,487 L559.2,486.9 L558,486.7 L556.7,486.6 L555.4,486.4 L554.2,486.2 L553,485.9 L551.8,485.6 L550.6,485.3 L549.3,485 L548.1,484.6 L546.9,484.2 L545.7,483.8 L544.5,483.4 L543.2,483 L542,482.6 L540.8,482.1 L539.6,481.7 L538.3,481.2 L537.1,480.8 L535.8,480.4Z" fill="#1f7299" fill-opacity="0.45"/><path d="M536.1,486.2Q538,484 537.7,481M539.9,487.3Q541.9,485.2 541.5,482.4M543.8,488.4Q545.7,486.4 545.2,483.7M547.8,489.4Q549.5,487.4 549,484.9M551.9,490.2Q553.4,488.3 552.7,485.9M556,490.7Q557.4,488.8 556.5,486.5M560.1,491Q561.4,489.1 560.4,487M564,491.2Q565.4,489.4 564.4,487.4M567.9,491.5Q569.4,489.9 568.4,488M571.8,492Q573.3,490.7 572.4,488.8M575.6,492.8Q577.2,491.6 576.4,489.8M579.5,493.7Q581,492.6 580.2,490.9M583.4,494.7Q584.9,493.7 584.1,492.1" fill="none" stroke="#e9faff" stroke-width="2.5" stroke-linecap="butt"/><path d="M529.5,476.9 L529,478.2 L528.5,479.5 L528.1,480.8 L527.6,482.1 L527.2,483.3 L526.7,484.5 L526.3,485.7 L525.8,486.9 L525.3,488 L524.7,489.1 L524.1,490.2 L523.5,491.2 L522.8,492.2 L522,493.1 L521.1,494.1 L520.3,495 L519.4,495.9 L518.4,496.8 L517.5,497.6 L516.5,498.5 L515.5,499.3 L514.5,500.1 L513.4,500.9 L512.4,501.8 L511.3,502.6 L510.3,503.3 L509.2,504.1 L508.1,504.8 L507.1,505.6 L506,506.3 L504.8,506.9 L503.7,507.6 L502.6,508.3 L501.4,509 L500.2,509.6 L499.1,510.3 L497.9,510.9 L496.7,511.6 L495.6,512.2 L494.4,512.9 L495.6,515.1 L496.8,514.5 L498,513.9 L499.2,513.3 L500.4,512.8 L501.6,512.2 L502.8,511.6 L504,511 L505.2,510.3 L506.4,509.7 L507.6,509.1 L508.8,508.4 L510,507.7 L511.2,507 L512.3,506.3 L513.4,505.5 L514.6,504.8 L515.7,504 L516.8,503.2 L517.9,502.4 L519,501.6 L520.1,500.8 L521.2,499.9 L522.2,499 L523.3,498.1 L524.3,497.1 L525.3,496.1 L526.3,495 L527.2,493.9 L528.1,492.7 L528.8,491.5 L529.5,490.2 L530.2,489 L530.8,487.7 L531.4,486.4 L532,485.2 L532.5,483.9 L533,482.7 L533.5,481.4 L534,480.2 L534.5,479.1Z" fill="#1f7299" fill-opacity="0.45"/><path d="M528.7,478.9Q530.8,481 533.8,480.8M527.4,482.6Q529.4,484.7 532.2,484.5M526.1,486.2Q527.8,488.4 530.5,488.3M524.4,489.7Q525.9,491.9 528.5,492M522.4,492.6Q523.3,495 525.8,495.6M519.9,495.4Q520.5,497.8 522.8,498.5M517.1,498Q517.4,500.3 519.6,501.1M514,500.5Q514.2,502.7 516.3,503.6M510.9,502.9Q510.9,505 512.9,505.8M507.7,505.1Q507.6,507.2 509.5,508M504.4,507.2Q504.1,509.2 505.9,510M500.9,509.2Q500.6,511.1 502.3,511.8M497.5,511.2Q497,512.9 498.7,513.6" fill="none" stroke="#e9faff" stroke-width="2.5" stroke-linecap="butt"/></g>
<g clip-path="url(#clipL)"><path d="M369,332 C369,345 368,360 366,375" fill="none" stroke="#38bef3" stroke-width="12" opacity=".7" filter="url(#b3)"/></g>
<g clip-path="url(#clipR)"><path d="M419,332 C419,345 420,360 421,375" fill="none" stroke="#40c4f6" stroke-width="12" opacity=".7" filter="url(#b3)"/></g>
<g clip-path="url(#clipL)"><path d="M361,422 C359,440 350,453 341,465 C334,472 322,475 314,483 C307,492 306,504 303,516 C299,532 294,546 287,558 C284,564 281,570 277,576" fill="none" stroke="#44c4f4" stroke-width="5" opacity=".4" filter="url(#b3)" transform="translate(-5 -2)"/><path d="M361,422 C359,440 350,453 341,465 C334,472 322,475 314,483 C307,492 306,504 303,516 C299,532 294,546 287,558 C284,564 281,570 277,576 L277,612 L384,612 L384,422Z" fill="url(#lobe)"/><path d="M361,422 C359,440 350,453 341,465 C334,472 322,475 314,483 C307,492 306,504 303,516 C299,532 294,546 287,558 C284,564 281,570 277,576" fill="none" stroke="#0e5f85" stroke-width="5" opacity=".5" filter="url(#b3)" transform="translate(4 1)"/><path d="M360,436 C358.500,466 360,500 359,520 C358.500,538 357,550 352,557" fill="none" stroke="#3bbcf0" stroke-width="5" opacity=".45" filter="url(#b3)"/></g>
<path d="M386,316.4 L385.4,317.4 L384.9,318.3 L384.4,319.1 L383.9,320 L383.4,320.9 L382.9,321.8 L382.4,322.6 L382,323.4 L381.5,324.3 L381,325.1 L380.5,326 L380,326.8 L379.5,327.6 L379,328.4 L378.5,329.2 L378,330 L377.5,330.8 L377,331.5 L376.5,332.3 L376,333 L375.4,333.8 L374.9,334.4 L374.4,335.1 L373.7,335.9 L373.2,336.6 L372.6,337.3 L372,338.1 L371.4,338.8 L370.8,339.4 L370.2,340.1 L369.5,340.8 L368.9,341.5 L368.3,342.1 L367.6,342.9 L366.9,343.5 L366.3,344.1 L365.6,344.8 L364.9,345.4 L364.3,346 L363.5,346.7 L373,357.1 L373.7,356.4 L374.5,355.6 L375.3,354.9 L376,354.2 L376.8,353.4 L377.6,352.6 L378.3,351.9 L379,351.1 L379.8,350.3 L380.5,349.6 L381.2,348.8 L381.9,347.9 L382.7,347.1 L383.3,346.3 L384,345.5 L384.7,344.6 L385.3,343.8 L386,343 L386.7,342 L387.3,341.2 L388,340.3 L388.6,339.4 L389.2,338.5 L389.8,337.5 L390.3,336.7 L390.9,335.8 L391.4,334.9 L392,334 L392.5,333.1 L393.1,332.2 L393.6,331.3 L394.1,330.4 L394.6,329.5 L395.1,328.7 L395.6,327.8 L396.1,326.9 L396.6,326.1 L397.1,325.2 L397.6,324.4 L398,323.6Z" fill="#ecdcde"/><path d="M384.7,318.7Q389,325.2 396.9,325.6M382.3,322.9Q386.6,329.5 394.4,329.8M379.9,327Q384,333.7 391.9,334.2M377.4,330.9Q381.3,337.8 389.1,338.6M374.9,334.5Q378.2,341.6 386,343M372,338Q375,345.3 382.7,347.1M369,341.4Q371.6,348.8 379.1,351M365.8,344.6Q368,352.2 375.5,354.7" fill="none" stroke="#1f7790" stroke-width="1.9" stroke-linecap="butt"/>
<path d="M394.2,323.9 L394.7,324.7 L395.3,325.6 L395.9,326.4 L396.4,327.2 L397,328.1 L397.5,328.9 L398.1,329.7 L398.6,330.5 L399.2,331.4 L399.7,332.2 L400.3,333 L400.8,333.9 L401.4,334.7 L401.9,335.5 L402.5,336.3 L403,337.2 L403.6,338 L404.1,338.8 L404.6,339.6 L405,340.2 L405.5,341 L405.9,341.9 L406.4,342.6 L406.8,343.5 L407.3,344.4 L407.8,345.3 L408.3,346.2 L408.9,347.2 L409.5,348.2 L410,349 L410.6,350.1 L411.3,351.1 L411.9,351.9 L412.6,352.9 L413.4,353.9 L414.1,354.7 L414.9,355.7 L415.6,356.4 L416.4,357.4 L417.1,358.1 L427.2,348.3 L426.5,347.6 L426,347.1 L425.3,346.3 L424.8,345.8 L424.2,345 L423.8,344.4 L423.3,343.9 L422.8,343 L422.4,342.4 L421.9,341.7 L421.4,340.9 L421,340.2 L420.6,339.4 L420.1,338.6 L419.6,337.7 L419.2,336.8 L418.7,335.9 L418.1,335 L417.6,334.1 L417.1,333.1 L416.4,332.1 L415.8,331.1 L415.3,330.3 L414.7,329.4 L414.2,328.6 L413.6,327.8 L413.1,326.9 L412.5,326.1 L411.9,325.3 L411.4,324.4 L410.8,323.6 L410.3,322.8 L409.7,321.9 L409.2,321.1 L408.6,320.3 L408,319.4 L407.5,318.6 L406.9,317.8 L406.4,316.9 L405.8,316.1Z" fill="#ecdcde"/><path d="M395.5,325.9Q403.4,325 407.2,318.1M398.3,330Q406.1,329.1 409.9,322.2M401,334.1Q408.8,333.2 412.6,326.3M403.7,338.1Q411.5,337.3 415.4,330.4M406,341.9Q413.8,341.6 418.2,335M408.3,346.2Q416.2,345.9 420.5,339.3M411.2,351Q419,349.9 422.7,342.9M414.7,355.5Q422.4,353.5 425.1,346.1" fill="none" stroke="#1f7790" stroke-width="1.9" stroke-linecap="butt"/>
<path d="M382.500,184 L382.500,326 L391,341 L396,344.500 L401,341 L409.500,326 L409.500,184Z" fill="url(#trg)"/>
<path d="M382.500,199.8A13.500,3.800 0 0 0 409.500,199.8M382.500,205A13.500,3.800 0 0 0 409.500,205M382.500,210.1A13.500,3.800 0 0 0 409.500,210.1M382.500,215.3A13.500,3.800 0 0 0 409.500,215.3M382.500,220.4A13.500,3.800 0 0 0 409.500,220.4M382.500,225.6A13.500,3.800 0 0 0 409.500,225.6M382.500,230.7A13.500,3.800 0 0 0 409.500,230.7M382.500,235.9A13.500,3.800 0 0 0 409.500,235.9M382.500,241A13.500,3.800 0 0 0 409.500,241M382.500,246.2A13.500,3.800 0 0 0 409.500,246.2M382.500,251.3A13.500,3.800 0 0 0 409.500,251.3M382.500,256.5A13.500,3.800 0 0 0 409.500,256.5M382.500,261.6A13.500,3.800 0 0 0 409.500,261.6M382.500,266.8A13.500,3.800 0 0 0 409.500,266.8M382.500,271.9A13.500,3.800 0 0 0 409.500,271.9M382.500,277A13.500,3.800 0 0 0 409.500,277M382.500,282.2A13.500,3.800 0 0 0 409.500,282.2M382.500,287.3A13.500,3.800 0 0 0 409.500,287.3M382.500,292.5A13.500,3.800 0 0 0 409.500,292.5M382.500,297.6A13.500,3.800 0 0 0 409.500,297.6M382.500,302.8A13.500,3.800 0 0 0 409.500,302.8M382.500,307.9A13.500,3.800 0 0 0 409.500,307.9M382.500,313.1A13.500,3.800 0 0 0 409.500,313.1M382.500,318.2A13.500,3.800 0 0 0 409.500,318.2" fill="none" stroke="#1f7790" stroke-width="2.200"/>
<path d="M383,322Q389,332 400,337.500M409,322Q403,332 392,337.500M384,327.500Q389,336 396,341M408,327.500Q403,336 396,341" fill="none" stroke="#1f7790" stroke-width="1.700"/>
<ellipse cx="396" cy="184.300" rx="13.500" ry="4.800" fill="#e9dfe2"/><ellipse cx="396" cy="184.200" rx="12.800" ry="4.200" fill="#8d7b83"/>
<g fill="#eceef0" filter="url(#b5)" opacity=".75"><ellipse cx="624" cy="468" rx="18" ry="10"/><ellipse cx="636" cy="496" rx="14" ry="12"/><ellipse cx="616" cy="522" rx="18" ry="5"/><ellipse cx="646" cy="452" rx="8" ry="6"/><ellipse cx="652" cy="516" rx="10" ry="8"/></g>
<path d="M722,468 L764,468 L764,480 C763.500,510 761,550 759,590 C758.500,598 756,602 752,602 L711,602 C706,602 704,598 704.500,590 C706,570 709,550 712,530 C714,518 717,512 721,506Z" fill="url(#bodyG)"/>
<path d="M710,546 C716,556 726,562 728,576 C730,588 730,596 729,602" fill="none" stroke="#dfe1e4" stroke-width="1.200"/>
<path d="M696.6,436 L698,437.1 L700,438.6 L702.4,440.4 L704.8,442.3 L707,444.3 L708.8,446.2 L710.1,448.1 L711.2,450 L712.1,452 L712.9,454 L713.7,455.8 L714.4,457.5 L715.1,459 L715.7,460.4 L716.3,461.8 L716.8,463 L717.4,464.1 L718,465 L718.7,465.8 L719.5,466.4 L720.2,467 L720.9,467.4 L721.6,467.7 L722,468 L721,500 L720.7,501.1 L720.2,502.7 L719.7,504.5 L719.2,506.5 L718.6,508.4 L718,510 L717.5,511.3 L717.1,512.5 L716.6,513.6 L716.1,514.7 L715.3,516 L714.4,517.5 L713.2,519.4 L711.7,521.6 L710.1,524 L708.3,526.4 L706.6,528.6 L705,530.6 L703.4,532.3 L701.7,534 L700.1,535.4 L698.5,536.8 L696.9,538 L695.6,539 L694.4,539.8 L693.2,540.5 L692.2,541 L691.3,541.4 L690.6,541.6 L690,541.9 L690,541.9 L690.5,540.9 L691.3,539.6 L692.1,538 L693,536.3 L693.9,534.4 L694.7,532.5 L695.4,530.6 L696.1,528.5 L696.8,526.3 L697.4,524 L698,521.7 L698.4,519.4 L698.8,517 L699.1,514.5 L699.4,511.9 L699.5,509.3 L699.5,506.8 L699.4,504.4 L699,502.1 L698.5,499.9 L697.8,497.7 L697,495.5 L696.3,493.4 L695.6,491.2 L694.9,489 L694.2,486.7 L693.5,484.5 L692.9,482.2 L692.3,480.1 L691.9,478 L691.6,476 L691.5,474.2 L691.4,472.3 L691.4,470.5 L691.6,468.7 L691.9,466.9 L692.4,465 L693.2,463.1 L694,461.3 L694.9,459.4 L695.8,457.5 L696.6,455.6 L697.4,453.7 L698.2,451.8 L699,449.8 L699.7,447.9 L700.1,446.1 L700.3,444.4 L700.1,442.7 L699.5,441.1 L698.7,439.5 L697.8,438.1 L697.1,436.9 L696.6,436Z" fill="#e3e5e7"/>
<path d="M696.6,436 L695.1,436.6 L693,437.4 L690.5,438.4 L687.8,439.6 L685.1,441 L682.5,442.5 L680,444.3 L677.5,446.2 L674.9,448.4 L672.4,450.7 L669.9,453.1 L667.5,455.6 L665.1,458.3 L662.8,461.2 L660.4,464.2 L658.2,467.1 L656.2,470 L654.4,472.5 L652.9,474.8 L651.5,476.8 L650.4,478.7 L649.4,480.5 L648.5,482.2 L647.8,483.8 L647.2,485.2 L646.7,486.4 L646.3,487.5 L646.1,488.6 L646,489.8 L646,491.2 L646.1,492.8 L646.4,494.5 L646.7,496.4 L647.2,498.3 L647.9,500.4 L648.8,502.5 L649.9,504.8 L651.2,507.3 L652.8,509.9 L654.4,512.5 L656.2,515.1 L658,517.5 L660,519.8 L662.1,522.1 L664.4,524.4 L666.7,526.6 L669,528.7 L671.2,530.6 L673.5,532.5 L675.9,534.3 L678.3,536 L680.6,537.6 L682.6,538.9 L684.4,540 L685.8,540.8 L687,541.3 L688,541.5 L688.8,541.7 L689.5,541.8 L690,541.9 L690,541.9 L690.5,540.9 L691.3,539.6 L692.1,538 L693,536.3 L693.9,534.4 L694.7,532.5 L695.4,530.6 L696.1,528.5 L696.8,526.3 L697.4,524 L698,521.7 L698.4,519.4 L698.8,517 L699.1,514.5 L699.4,511.9 L699.5,509.3 L699.5,506.8 L699.4,504.4 L699,502.1 L698.5,499.9 L697.8,497.7 L697,495.5 L696.3,493.4 L695.6,491.2 L694.9,489 L694.2,486.7 L693.5,484.5 L692.9,482.2 L692.3,480.1 L691.9,478 L691.6,476 L691.5,474.2 L691.4,472.3 L691.4,470.5 L691.6,468.7 L691.9,466.9 L692.4,465 L693.2,463.1 L694,461.3 L694.9,459.4 L695.8,457.5 L696.6,455.6 L697.4,453.7 L698.2,451.8 L699,449.8 L699.7,447.9 L700.1,446.1 L700.3,444.4 L700.1,442.7 L699.5,441.1 L698.7,439.5 L697.8,438.1 L697.1,436.9 L696.6,436Z" fill="url(#maskG)"/>
<ellipse cx="672" cy="506" rx="13" ry="8" fill="#fff" opacity=".55" filter="url(#b3)" transform="rotate(25 672 506)"/>
<ellipse cx="668" cy="470" rx="9" ry="14" fill="#fff" opacity=".35" filter="url(#b3)" transform="rotate(35 668 470)"/>
<path d="M696.6,436 L697.1,436.9 L697.8,438.1 L698.7,439.5 L699.5,441.1 L700.1,442.7 L700.3,444.4 L700.1,446.1 L699.7,447.9 L699,449.8 L698.2,451.8 L697.4,453.7 L696.6,455.6 L695.8,457.5 L694.9,459.4 L694,461.3 L693.2,463.1 L692.4,465 L691.9,466.9 L691.6,468.7 L691.4,470.5 L691.4,472.3 L691.5,474.2 L691.6,476 L691.9,478 L692.3,480.1 L692.9,482.2 L693.5,484.5 L694.2,486.7 L694.9,489 L695.6,491.2 L696.3,493.4 L697,495.5 L697.8,497.7 L698.5,499.9 L699,502.1 L699.4,504.4 L699.5,506.8 L699.5,509.3 L699.4,511.9 L699.1,514.5 L698.8,517 L698.4,519.4 L698,521.7 L697.4,524 L696.8,526.3 L696.1,528.5 L695.4,530.6 L694.7,532.5 L693.9,534.4 L693,536.3 L692.1,538 L691.3,539.6 L690.5,540.9 L690,541.9" fill="none" stroke="#5e6367" stroke-width="1.500" stroke-linecap="round" stroke-linejoin="round"/>
<path d="M667.5,455.6 L666,457.5 L663.9,460.2 L661.4,463.3 L658.8,466.7 L656.4,469.8 L654.4,472.5 L652.9,474.8 L651.5,476.8 L650.4,478.7 L649.4,480.5 L648.5,482.2 L647.8,483.8 L647.2,485.2 L646.7,486.4 L646.3,487.5 L646.1,488.6 L646,489.8 L646,491.2 L646.1,492.8 L646.4,494.5 L646.7,496.4 L647.2,498.3 L647.9,500.4 L648.8,502.5 L650.1,505 L651.7,507.8 L653.6,510.7 L655.4,513.5 L656.9,515.8 L658,517.5" fill="none" stroke="#f2f3f4" stroke-width="1.400" opacity=".9"/>
<path d="M721,500 L720.7,501.1 L720.2,502.7 L719.7,504.5 L719.2,506.5 L718.6,508.4 L718,510 L717.5,511.3 L717.1,512.5 L716.6,513.6 L716.1,514.7 L715.3,516 L714.4,517.5 L713.2,519.4 L711.7,521.6 L710.1,524 L708.3,526.4 L706.6,528.6 L705,530.6 L703.4,532.3 L701.7,534 L700.1,535.4 L698.5,536.8 L696.9,538 L695.6,539 L694.4,539.8 L693.2,540.5 L692.2,541 L691.3,541.4 L690.6,541.6 L690,541.9" fill="none" stroke="#c3c6c9" stroke-width="1"/>
<ellipse cx="708.500" cy="489.500" rx="7.500" ry="12" fill="#eceded" stroke="#b9bcbf" stroke-width="1"/><ellipse cx="710.500" cy="489.500" rx="4.800" ry="8.500" fill="#d7d9db" stroke="#c6c9cc" stroke-width=".8"/>
<path d="M714,479 L724,474 L724,504 L714,500Z" fill="#bfc2c5"/>
<path d="M738,488 L757.500,485 L756.500,507 L739.500,509Z" fill="#b6b9bc"/>
<path d="M723,471 L762,472.500 L761.500,483 L742,487.500 L736,498 L723,501Z" fill="url(#lidG)"/>
<path d="M727,476 L757,476.500 L756.500,480.500 L740,484.500 L734,493 L727,494.500Z" fill="#e3e5e6"/>
<path d="M727,474.500 L758,479.500" fill="none" stroke="#505356" stroke-width="1"/>
<path d="M720,468.500 C723,464 731,463.500 743,463.500 C755,463.500 763,464.500 765.500,468 L765.500,473 C752,471 735,471.500 720,474Z" fill="#f1f2f3" stroke="#d6d8da" stroke-width=".6"/>
<ellipse cx="717" cy="539" rx="8" ry="11.500" fill="url(#btnG)"/><ellipse cx="717" cy="539" rx="4" ry="6.800" fill="#9bdcf8" stroke="#2ab2f0" stroke-width="2.800"/>
<g fill="#fff"><path d="M520,470 C530,450 556,436 580,440 C598,444 610,470 612,500 C612,520 606,532 590,531 C576,534 566,526 552,529 C540,531 528,526 518,520 C508,512 512,486 520,470Z" opacity=".42" filter="url(#b5)"/><path d="M548,505 C560,498 590,496 608,502 C612,516 606,531 592,531 C578,533 566,527 556,528 C546,527 542,514 548,505Z" opacity=".55" filter="url(#b3)"/><ellipse cx="622" cy="484" rx="26" ry="22" opacity="0.95" filter="url(#b8)"/><ellipse cx="592" cy="492" rx="20" ry="14" opacity="0.75" filter="url(#b8)"/><ellipse cx="606" cy="510" rx="28" ry="12" opacity="0.9" filter="url(#b5)"/><ellipse cx="568" cy="470" rx="14" ry="9" opacity="0.5" filter="url(#b5)"/><ellipse cx="592" cy="466" rx="14" ry="9" opacity="0.55" filter="url(#b5)"/><ellipse cx="560" cy="452" rx="9" ry="6" opacity="0.4" filter="url(#b3)"/><ellipse cx="536" cy="484" rx="9" ry="6" opacity="0.35" filter="url(#b3)"/><ellipse cx="626" cy="523" rx="22" ry="7" opacity="0.9" filter="url(#b5)"/><ellipse cx="642" cy="470" rx="18" ry="20" opacity="0.8" filter="url(#b8)"/><ellipse cx="580" cy="453" rx="10" ry="7" opacity="0.4" filter="url(#b3)"/><ellipse cx="602" cy="450" rx="10" ry="7" opacity="0.4" filter="url(#b3)"/><ellipse cx="598" cy="520" rx="14" ry="6" opacity="0.8" filter="url(#b3)"/><ellipse cx="572" cy="522" rx="12" ry="5" opacity="0.55" filter="url(#b3)"/><ellipse cx="540" cy="504" rx="10" ry="6" opacity="0.4" filter="url(#b3)"/></g>
<rect x="21" y="628" width="311" height="125.500" rx="24" fill="url(#pg)"/>
<rect x="457" y="612.500" width="282" height="141" rx="24" fill="url(#pg)"/>
<circle cx="36.3" cy="645.5" r="4.600" fill="#d6f3f8"/>
<circle cx="36.3" cy="674.5" r="4.600" fill="#d6f3f8"/>
<circle cx="36.3" cy="703.3" r="4.600" fill="#d6f3f8"/>
<circle cx="36.3" cy="732.5" r="4.600" fill="#d6f3f8"/>
<circle cx="470.500" cy="628" r="4.300" fill="#d6f3f8"/>
<circle cx="470.500" cy="654" r="4.300" fill="#d6f3f8"/>
<circle cx="470.500" cy="679.5" r="4.300" fill="#d6f3f8"/>
<circle cx="470.500" cy="708" r="4.300" fill="#d6f3f8"/>
<g font-family="'Liberation Sans', Arial, sans-serif" font-weight="bold" font-style="italic" font-size="23.200" fill="#fff">
<text x="48.800" y="654.3" textLength="266.5" lengthAdjust="spacingAndGlyphs">Breathing Difficulties</text>
<text x="48.800" y="682.8" textLength="201.7" lengthAdjust="spacingAndGlyphs">Coughing Spells</text>
<text x="48.800" y="711.2" textLength="197.8" lengthAdjust="spacingAndGlyphs">Chest Tightness</text>
<text x="48.800" y="739.8" textLength="239.3" lengthAdjust="spacingAndGlyphs">General Discomfort</text>
</g>
<g font-family="'Liberation Sans', Arial, sans-serif" font-weight="bold" font-style="italic" font-size="20.500" fill="#fff">
<text x="482" y="635.5" textLength="225.5" lengthAdjust="spacingAndGlyphs">Improved Breathing</text>
<text x="482" y="661" textLength="143" lengthAdjust="spacingAndGlyphs">Cough Relief</text>
<text x="482" y="687" textLength="162.5" lengthAdjust="spacingAndGlyphs">Chest Comfort</text>
<text x="482" y="712.5" textLength="163.5" lengthAdjust="spacingAndGlyphs">Restored Lung</text>
<text x="482" y="738.8" textLength="96.8" lengthAdjust="spacingAndGlyphs">Capacity</text>
</g></svg></body></html>
